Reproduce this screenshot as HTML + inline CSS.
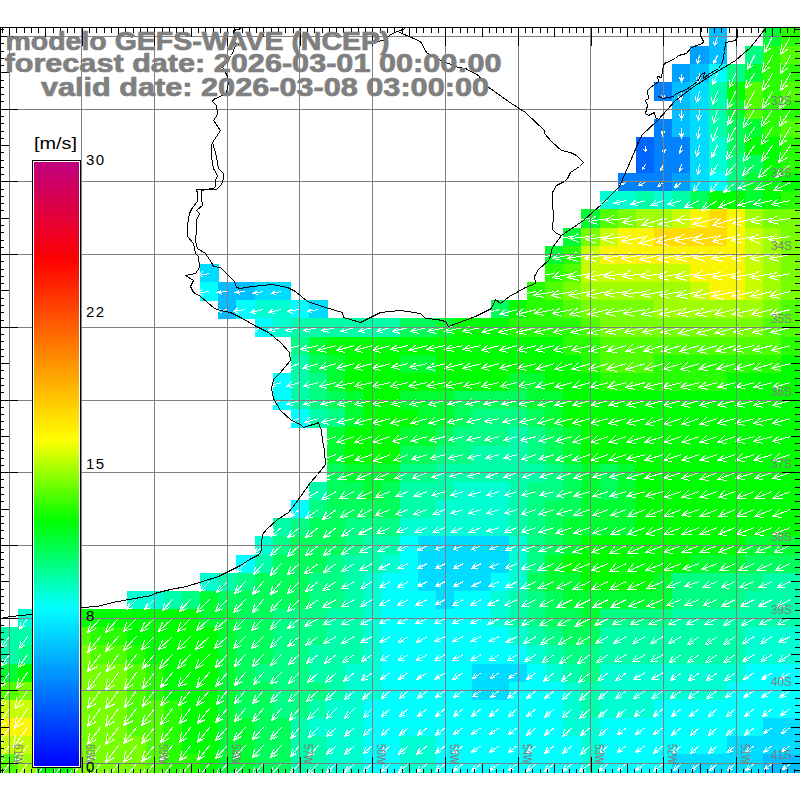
<!DOCTYPE html>
<html><head><meta charset="utf-8"><style>
html,body{margin:0;padding:0;background:#fff;width:800px;height:800px;overflow:hidden}
svg{position:absolute;left:0;top:0}
.t{position:absolute;font-family:"Liberation Sans",sans-serif;font-weight:bold;font-size:24px;line-height:24px;color:#808080;white-space:nowrap}
</style></head><body>
<svg width="800" height="800" viewBox="0 0 800 800">
<g shape-rendering="crispEdges"><rect x="708.63" y="27.80" width="18.56" height="18.56" fill="#00beff"/><rect x="763.13" y="27.80" width="18.56" height="18.56" fill="#00ff32"/><rect x="781.29" y="27.80" width="18.56" height="18.56" fill="#28ff00"/><rect x="690.47" y="45.97" width="18.56" height="18.56" fill="#00a0ff"/><rect x="708.63" y="45.97" width="18.56" height="18.56" fill="#00beff"/><rect x="744.97" y="45.97" width="18.56" height="18.56" fill="#00ff82"/><rect x="763.13" y="45.97" width="18.56" height="18.56" fill="#28ff00"/><rect x="781.29" y="45.97" width="18.56" height="18.56" fill="#50ff00"/><rect x="672.31" y="64.13" width="18.56" height="18.56" fill="#00a0ff"/><rect x="690.47" y="64.13" width="18.56" height="18.56" fill="#00beff"/><rect x="708.63" y="64.13" width="18.56" height="18.56" fill="#00ffff"/><rect x="726.80" y="64.13" width="18.56" height="18.56" fill="#00ff82"/><rect x="744.97" y="64.13" width="18.56" height="18.56" fill="#00ff32"/><rect x="763.13" y="64.13" width="18.56" height="18.56" fill="#28ff00"/><rect x="781.29" y="64.13" width="18.56" height="18.56" fill="#28ff00"/><rect x="654.14" y="82.30" width="18.56" height="18.56" fill="#0082ff"/><rect x="672.31" y="82.30" width="18.56" height="18.56" fill="#00beff"/><rect x="690.47" y="82.30" width="18.56" height="18.56" fill="#00dcff"/><rect x="708.63" y="82.30" width="18.56" height="18.56" fill="#00ffaa"/><rect x="726.80" y="82.30" width="18.56" height="18.56" fill="#00ff00"/><rect x="744.97" y="82.30" width="18.56" height="18.56" fill="#50ff00"/><rect x="763.13" y="82.30" width="18.56" height="18.56" fill="#28ff00"/><rect x="781.29" y="82.30" width="18.56" height="18.56" fill="#50ff00"/><rect x="672.31" y="100.46" width="18.56" height="18.56" fill="#00beff"/><rect x="690.47" y="100.46" width="18.56" height="18.56" fill="#00dcff"/><rect x="708.63" y="100.46" width="18.56" height="18.56" fill="#00ffaa"/><rect x="726.80" y="100.46" width="18.56" height="18.56" fill="#00ff32"/><rect x="744.97" y="100.46" width="18.56" height="18.56" fill="#50ff00"/><rect x="763.13" y="100.46" width="18.56" height="18.56" fill="#28ff00"/><rect x="781.29" y="100.46" width="18.56" height="18.56" fill="#28ff00"/><rect x="654.14" y="118.62" width="18.56" height="18.56" fill="#0082ff"/><rect x="672.31" y="118.62" width="18.56" height="18.56" fill="#00beff"/><rect x="690.47" y="118.62" width="18.56" height="18.56" fill="#00dcff"/><rect x="708.63" y="118.62" width="18.56" height="18.56" fill="#00ffaa"/><rect x="726.80" y="118.62" width="18.56" height="18.56" fill="#00ff5a"/><rect x="744.97" y="118.62" width="18.56" height="18.56" fill="#00ff32"/><rect x="763.13" y="118.62" width="18.56" height="18.56" fill="#28ff00"/><rect x="781.29" y="118.62" width="18.56" height="18.56" fill="#50ff00"/><rect x="635.98" y="136.79" width="18.56" height="18.56" fill="#0064ff"/><rect x="654.14" y="136.79" width="18.56" height="18.56" fill="#0082ff"/><rect x="672.31" y="136.79" width="18.56" height="18.56" fill="#0082ff"/><rect x="690.47" y="136.79" width="18.56" height="18.56" fill="#00dcff"/><rect x="708.63" y="136.79" width="18.56" height="18.56" fill="#00ffd2"/><rect x="726.80" y="136.79" width="18.56" height="18.56" fill="#00ff5a"/><rect x="744.97" y="136.79" width="18.56" height="18.56" fill="#00ff00"/><rect x="763.13" y="136.79" width="18.56" height="18.56" fill="#00ff00"/><rect x="781.29" y="136.79" width="18.56" height="18.56" fill="#28ff00"/><rect x="635.98" y="154.96" width="18.56" height="18.56" fill="#0064ff"/><rect x="654.14" y="154.96" width="18.56" height="18.56" fill="#0082ff"/><rect x="672.31" y="154.96" width="18.56" height="18.56" fill="#0082ff"/><rect x="690.47" y="154.96" width="18.56" height="18.56" fill="#00dcff"/><rect x="708.63" y="154.96" width="18.56" height="18.56" fill="#00ffd2"/><rect x="726.80" y="154.96" width="18.56" height="18.56" fill="#00ff82"/><rect x="744.97" y="154.96" width="18.56" height="18.56" fill="#00ff5a"/><rect x="763.13" y="154.96" width="18.56" height="18.56" fill="#00ff00"/><rect x="781.29" y="154.96" width="18.56" height="18.56" fill="#28ff00"/><rect x="617.81" y="173.12" width="18.56" height="18.56" fill="#0082ff"/><rect x="635.98" y="173.12" width="18.56" height="18.56" fill="#0082ff"/><rect x="654.14" y="173.12" width="18.56" height="18.56" fill="#0082ff"/><rect x="672.31" y="173.12" width="18.56" height="18.56" fill="#00a0ff"/><rect x="690.47" y="173.12" width="18.56" height="18.56" fill="#00dcff"/><rect x="708.63" y="173.12" width="18.56" height="18.56" fill="#00ffff"/><rect x="726.80" y="173.12" width="18.56" height="18.56" fill="#00ff82"/><rect x="744.97" y="173.12" width="18.56" height="18.56" fill="#00ff32"/><rect x="763.13" y="173.12" width="18.56" height="18.56" fill="#00ff00"/><rect x="781.29" y="173.12" width="18.56" height="18.56" fill="#00ff00"/><rect x="599.64" y="191.28" width="18.56" height="18.56" fill="#00ffd2"/><rect x="617.81" y="191.28" width="18.56" height="18.56" fill="#00ffd2"/><rect x="635.98" y="191.28" width="18.56" height="18.56" fill="#00ffaa"/><rect x="654.14" y="191.28" width="18.56" height="18.56" fill="#00ffd2"/><rect x="672.31" y="191.28" width="18.56" height="18.56" fill="#00ffaa"/><rect x="690.47" y="191.28" width="18.56" height="18.56" fill="#00ff5a"/><rect x="708.63" y="191.28" width="18.56" height="18.56" fill="#00ff00"/><rect x="726.80" y="191.28" width="18.56" height="18.56" fill="#00ff00"/><rect x="744.97" y="191.28" width="18.56" height="18.56" fill="#00ff32"/><rect x="763.13" y="191.28" width="18.56" height="18.56" fill="#00ff00"/><rect x="781.29" y="191.28" width="18.56" height="18.56" fill="#28ff00"/><rect x="581.48" y="209.45" width="18.56" height="18.56" fill="#00ff32"/><rect x="599.64" y="209.45" width="18.56" height="18.56" fill="#50ff00"/><rect x="617.81" y="209.45" width="18.56" height="18.56" fill="#78ff00"/><rect x="635.98" y="209.45" width="18.56" height="18.56" fill="#a0ff00"/><rect x="654.14" y="209.45" width="18.56" height="18.56" fill="#a0ff00"/><rect x="672.31" y="209.45" width="18.56" height="18.56" fill="#c8ff00"/><rect x="690.47" y="209.45" width="18.56" height="18.56" fill="#faf500"/><rect x="708.63" y="209.45" width="18.56" height="18.56" fill="#ffdc00"/><rect x="726.80" y="209.45" width="18.56" height="18.56" fill="#faf500"/><rect x="744.97" y="209.45" width="18.56" height="18.56" fill="#a0ff00"/><rect x="763.13" y="209.45" width="18.56" height="18.56" fill="#78ff00"/><rect x="781.29" y="209.45" width="18.56" height="18.56" fill="#78ff00"/><rect x="563.32" y="227.62" width="18.56" height="18.56" fill="#00ff32"/><rect x="581.48" y="227.62" width="18.56" height="18.56" fill="#78ff00"/><rect x="599.64" y="227.62" width="18.56" height="18.56" fill="#c8ff00"/><rect x="617.81" y="227.62" width="18.56" height="18.56" fill="#faf500"/><rect x="635.98" y="227.62" width="18.56" height="18.56" fill="#faf500"/><rect x="654.14" y="227.62" width="18.56" height="18.56" fill="#ffdc00"/><rect x="672.31" y="227.62" width="18.56" height="18.56" fill="#ffdc00"/><rect x="690.47" y="227.62" width="18.56" height="18.56" fill="#ffdc00"/><rect x="708.63" y="227.62" width="18.56" height="18.56" fill="#ffdc00"/><rect x="726.80" y="227.62" width="18.56" height="18.56" fill="#faf500"/><rect x="744.97" y="227.62" width="18.56" height="18.56" fill="#c8ff00"/><rect x="763.13" y="227.62" width="18.56" height="18.56" fill="#a0ff00"/><rect x="781.29" y="227.62" width="18.56" height="18.56" fill="#78ff00"/><rect x="545.15" y="245.78" width="18.56" height="18.56" fill="#00ff32"/><rect x="563.32" y="245.78" width="18.56" height="18.56" fill="#28ff00"/><rect x="581.48" y="245.78" width="18.56" height="18.56" fill="#c8ff00"/><rect x="599.64" y="245.78" width="18.56" height="18.56" fill="#faf500"/><rect x="617.81" y="245.78" width="18.56" height="18.56" fill="#faf500"/><rect x="635.98" y="245.78" width="18.56" height="18.56" fill="#faf500"/><rect x="654.14" y="245.78" width="18.56" height="18.56" fill="#faf500"/><rect x="672.31" y="245.78" width="18.56" height="18.56" fill="#faf500"/><rect x="690.47" y="245.78" width="18.56" height="18.56" fill="#faf500"/><rect x="708.63" y="245.78" width="18.56" height="18.56" fill="#faf500"/><rect x="726.80" y="245.78" width="18.56" height="18.56" fill="#faf500"/><rect x="744.97" y="245.78" width="18.56" height="18.56" fill="#c8ff00"/><rect x="763.13" y="245.78" width="18.56" height="18.56" fill="#a0ff00"/><rect x="781.29" y="245.78" width="18.56" height="18.56" fill="#78ff00"/><rect x="200.01" y="263.94" width="18.56" height="18.56" fill="#00dcff"/><rect x="545.15" y="263.94" width="18.56" height="18.56" fill="#28ff00"/><rect x="563.32" y="263.94" width="18.56" height="18.56" fill="#50ff00"/><rect x="581.48" y="263.94" width="18.56" height="18.56" fill="#c8ff00"/><rect x="599.64" y="263.94" width="18.56" height="18.56" fill="#c8ff00"/><rect x="617.81" y="263.94" width="18.56" height="18.56" fill="#c8ff00"/><rect x="635.98" y="263.94" width="18.56" height="18.56" fill="#c8ff00"/><rect x="654.14" y="263.94" width="18.56" height="18.56" fill="#c8ff00"/><rect x="672.31" y="263.94" width="18.56" height="18.56" fill="#c8ff00"/><rect x="690.47" y="263.94" width="18.56" height="18.56" fill="#faf500"/><rect x="708.63" y="263.94" width="18.56" height="18.56" fill="#faf500"/><rect x="726.80" y="263.94" width="18.56" height="18.56" fill="#faf500"/><rect x="744.97" y="263.94" width="18.56" height="18.56" fill="#c8ff00"/><rect x="763.13" y="263.94" width="18.56" height="18.56" fill="#a0ff00"/><rect x="781.29" y="263.94" width="18.56" height="18.56" fill="#78ff00"/><rect x="200.01" y="282.11" width="18.56" height="18.56" fill="#00ffff"/><rect x="218.18" y="282.11" width="18.56" height="18.56" fill="#00beff"/><rect x="236.34" y="282.11" width="18.56" height="18.56" fill="#00beff"/><rect x="254.51" y="282.11" width="18.56" height="18.56" fill="#00dcff"/><rect x="272.67" y="282.11" width="18.56" height="18.56" fill="#00dcff"/><rect x="526.99" y="282.11" width="18.56" height="18.56" fill="#28ff00"/><rect x="545.15" y="282.11" width="18.56" height="18.56" fill="#50ff00"/><rect x="563.32" y="282.11" width="18.56" height="18.56" fill="#78ff00"/><rect x="581.48" y="282.11" width="18.56" height="18.56" fill="#a0ff00"/><rect x="599.64" y="282.11" width="18.56" height="18.56" fill="#a0ff00"/><rect x="617.81" y="282.11" width="18.56" height="18.56" fill="#a0ff00"/><rect x="635.98" y="282.11" width="18.56" height="18.56" fill="#a0ff00"/><rect x="654.14" y="282.11" width="18.56" height="18.56" fill="#a0ff00"/><rect x="672.31" y="282.11" width="18.56" height="18.56" fill="#a0ff00"/><rect x="690.47" y="282.11" width="18.56" height="18.56" fill="#c8ff00"/><rect x="708.63" y="282.11" width="18.56" height="18.56" fill="#faf500"/><rect x="726.80" y="282.11" width="18.56" height="18.56" fill="#faf500"/><rect x="744.97" y="282.11" width="18.56" height="18.56" fill="#c8ff00"/><rect x="763.13" y="282.11" width="18.56" height="18.56" fill="#a0ff00"/><rect x="781.29" y="282.11" width="18.56" height="18.56" fill="#78ff00"/><rect x="218.18" y="300.27" width="18.56" height="18.56" fill="#00beff"/><rect x="236.34" y="300.27" width="18.56" height="18.56" fill="#00ffff"/><rect x="254.51" y="300.27" width="18.56" height="18.56" fill="#00ffd2"/><rect x="272.67" y="300.27" width="18.56" height="18.56" fill="#00ffd2"/><rect x="290.84" y="300.27" width="18.56" height="18.56" fill="#00ffff"/><rect x="309.00" y="300.27" width="18.56" height="18.56" fill="#00dcff"/><rect x="490.65" y="300.27" width="18.56" height="18.56" fill="#00ff5a"/><rect x="508.82" y="300.27" width="18.56" height="18.56" fill="#00ff00"/><rect x="526.99" y="300.27" width="18.56" height="18.56" fill="#28ff00"/><rect x="545.15" y="300.27" width="18.56" height="18.56" fill="#28ff00"/><rect x="563.32" y="300.27" width="18.56" height="18.56" fill="#50ff00"/><rect x="581.48" y="300.27" width="18.56" height="18.56" fill="#78ff00"/><rect x="599.64" y="300.27" width="18.56" height="18.56" fill="#78ff00"/><rect x="617.81" y="300.27" width="18.56" height="18.56" fill="#78ff00"/><rect x="635.98" y="300.27" width="18.56" height="18.56" fill="#78ff00"/><rect x="654.14" y="300.27" width="18.56" height="18.56" fill="#a0ff00"/><rect x="672.31" y="300.27" width="18.56" height="18.56" fill="#a0ff00"/><rect x="690.47" y="300.27" width="18.56" height="18.56" fill="#a0ff00"/><rect x="708.63" y="300.27" width="18.56" height="18.56" fill="#a0ff00"/><rect x="726.80" y="300.27" width="18.56" height="18.56" fill="#a0ff00"/><rect x="744.97" y="300.27" width="18.56" height="18.56" fill="#a0ff00"/><rect x="763.13" y="300.27" width="18.56" height="18.56" fill="#78ff00"/><rect x="781.29" y="300.27" width="18.56" height="18.56" fill="#50ff00"/><rect x="254.51" y="318.44" width="18.56" height="18.56" fill="#00ffff"/><rect x="272.67" y="318.44" width="18.56" height="18.56" fill="#00ffd2"/><rect x="290.84" y="318.44" width="18.56" height="18.56" fill="#00ffaa"/><rect x="309.00" y="318.44" width="18.56" height="18.56" fill="#00ffaa"/><rect x="327.17" y="318.44" width="18.56" height="18.56" fill="#00ffaa"/><rect x="345.33" y="318.44" width="18.56" height="18.56" fill="#00ffaa"/><rect x="363.50" y="318.44" width="18.56" height="18.56" fill="#00ffaa"/><rect x="381.66" y="318.44" width="18.56" height="18.56" fill="#00ffaa"/><rect x="399.83" y="318.44" width="18.56" height="18.56" fill="#00ff5a"/><rect x="417.99" y="318.44" width="18.56" height="18.56" fill="#00ff5a"/><rect x="436.16" y="318.44" width="18.56" height="18.56" fill="#00ff32"/><rect x="454.32" y="318.44" width="18.56" height="18.56" fill="#00ff00"/><rect x="472.49" y="318.44" width="18.56" height="18.56" fill="#00ff00"/><rect x="490.65" y="318.44" width="18.56" height="18.56" fill="#00ff00"/><rect x="508.82" y="318.44" width="18.56" height="18.56" fill="#28ff00"/><rect x="526.99" y="318.44" width="18.56" height="18.56" fill="#28ff00"/><rect x="545.15" y="318.44" width="18.56" height="18.56" fill="#28ff00"/><rect x="563.32" y="318.44" width="18.56" height="18.56" fill="#28ff00"/><rect x="581.48" y="318.44" width="18.56" height="18.56" fill="#50ff00"/><rect x="599.64" y="318.44" width="18.56" height="18.56" fill="#78ff00"/><rect x="617.81" y="318.44" width="18.56" height="18.56" fill="#78ff00"/><rect x="635.98" y="318.44" width="18.56" height="18.56" fill="#78ff00"/><rect x="654.14" y="318.44" width="18.56" height="18.56" fill="#78ff00"/><rect x="672.31" y="318.44" width="18.56" height="18.56" fill="#78ff00"/><rect x="690.47" y="318.44" width="18.56" height="18.56" fill="#78ff00"/><rect x="708.63" y="318.44" width="18.56" height="18.56" fill="#78ff00"/><rect x="726.80" y="318.44" width="18.56" height="18.56" fill="#78ff00"/><rect x="744.97" y="318.44" width="18.56" height="18.56" fill="#78ff00"/><rect x="763.13" y="318.44" width="18.56" height="18.56" fill="#50ff00"/><rect x="781.29" y="318.44" width="18.56" height="18.56" fill="#50ff00"/><rect x="290.84" y="336.61" width="18.56" height="18.56" fill="#00ff82"/><rect x="309.00" y="336.61" width="18.56" height="18.56" fill="#00ff32"/><rect x="327.17" y="336.61" width="18.56" height="18.56" fill="#00ff00"/><rect x="345.33" y="336.61" width="18.56" height="18.56" fill="#00ff00"/><rect x="363.50" y="336.61" width="18.56" height="18.56" fill="#00ff00"/><rect x="381.66" y="336.61" width="18.56" height="18.56" fill="#00ff00"/><rect x="399.83" y="336.61" width="18.56" height="18.56" fill="#00ff00"/><rect x="417.99" y="336.61" width="18.56" height="18.56" fill="#00ff00"/><rect x="436.16" y="336.61" width="18.56" height="18.56" fill="#00ff00"/><rect x="454.32" y="336.61" width="18.56" height="18.56" fill="#00ff00"/><rect x="472.49" y="336.61" width="18.56" height="18.56" fill="#00ff00"/><rect x="490.65" y="336.61" width="18.56" height="18.56" fill="#00ff00"/><rect x="508.82" y="336.61" width="18.56" height="18.56" fill="#00ff00"/><rect x="526.99" y="336.61" width="18.56" height="18.56" fill="#00ff00"/><rect x="545.15" y="336.61" width="18.56" height="18.56" fill="#00ff00"/><rect x="563.32" y="336.61" width="18.56" height="18.56" fill="#28ff00"/><rect x="581.48" y="336.61" width="18.56" height="18.56" fill="#28ff00"/><rect x="599.64" y="336.61" width="18.56" height="18.56" fill="#50ff00"/><rect x="617.81" y="336.61" width="18.56" height="18.56" fill="#50ff00"/><rect x="635.98" y="336.61" width="18.56" height="18.56" fill="#50ff00"/><rect x="654.14" y="336.61" width="18.56" height="18.56" fill="#50ff00"/><rect x="672.31" y="336.61" width="18.56" height="18.56" fill="#50ff00"/><rect x="690.47" y="336.61" width="18.56" height="18.56" fill="#50ff00"/><rect x="708.63" y="336.61" width="18.56" height="18.56" fill="#50ff00"/><rect x="726.80" y="336.61" width="18.56" height="18.56" fill="#50ff00"/><rect x="744.97" y="336.61" width="18.56" height="18.56" fill="#50ff00"/><rect x="763.13" y="336.61" width="18.56" height="18.56" fill="#50ff00"/><rect x="781.29" y="336.61" width="18.56" height="18.56" fill="#28ff00"/><rect x="290.84" y="354.77" width="18.56" height="18.56" fill="#00ffaa"/><rect x="309.00" y="354.77" width="18.56" height="18.56" fill="#00ff5a"/><rect x="327.17" y="354.77" width="18.56" height="18.56" fill="#00ff32"/><rect x="345.33" y="354.77" width="18.56" height="18.56" fill="#00ff00"/><rect x="363.50" y="354.77" width="18.56" height="18.56" fill="#00ff00"/><rect x="381.66" y="354.77" width="18.56" height="18.56" fill="#00ff00"/><rect x="399.83" y="354.77" width="18.56" height="18.56" fill="#00ff32"/><rect x="417.99" y="354.77" width="18.56" height="18.56" fill="#00ff32"/><rect x="436.16" y="354.77" width="18.56" height="18.56" fill="#00ff00"/><rect x="454.32" y="354.77" width="18.56" height="18.56" fill="#00ff00"/><rect x="472.49" y="354.77" width="18.56" height="18.56" fill="#00ff00"/><rect x="490.65" y="354.77" width="18.56" height="18.56" fill="#00ff00"/><rect x="508.82" y="354.77" width="18.56" height="18.56" fill="#00ff00"/><rect x="526.99" y="354.77" width="18.56" height="18.56" fill="#00ff00"/><rect x="545.15" y="354.77" width="18.56" height="18.56" fill="#00ff00"/><rect x="563.32" y="354.77" width="18.56" height="18.56" fill="#00ff00"/><rect x="581.48" y="354.77" width="18.56" height="18.56" fill="#28ff00"/><rect x="599.64" y="354.77" width="18.56" height="18.56" fill="#50ff00"/><rect x="617.81" y="354.77" width="18.56" height="18.56" fill="#50ff00"/><rect x="635.98" y="354.77" width="18.56" height="18.56" fill="#50ff00"/><rect x="654.14" y="354.77" width="18.56" height="18.56" fill="#28ff00"/><rect x="672.31" y="354.77" width="18.56" height="18.56" fill="#28ff00"/><rect x="690.47" y="354.77" width="18.56" height="18.56" fill="#28ff00"/><rect x="708.63" y="354.77" width="18.56" height="18.56" fill="#28ff00"/><rect x="726.80" y="354.77" width="18.56" height="18.56" fill="#28ff00"/><rect x="744.97" y="354.77" width="18.56" height="18.56" fill="#28ff00"/><rect x="763.13" y="354.77" width="18.56" height="18.56" fill="#28ff00"/><rect x="781.29" y="354.77" width="18.56" height="18.56" fill="#00ff00"/><rect x="272.67" y="372.94" width="18.56" height="18.56" fill="#00ffff"/><rect x="290.84" y="372.94" width="18.56" height="18.56" fill="#00ffaa"/><rect x="309.00" y="372.94" width="18.56" height="18.56" fill="#00ff82"/><rect x="327.17" y="372.94" width="18.56" height="18.56" fill="#00ff32"/><rect x="345.33" y="372.94" width="18.56" height="18.56" fill="#00ff00"/><rect x="363.50" y="372.94" width="18.56" height="18.56" fill="#00ff00"/><rect x="381.66" y="372.94" width="18.56" height="18.56" fill="#00ff00"/><rect x="399.83" y="372.94" width="18.56" height="18.56" fill="#00ff00"/><rect x="417.99" y="372.94" width="18.56" height="18.56" fill="#00ff00"/><rect x="436.16" y="372.94" width="18.56" height="18.56" fill="#00ff00"/><rect x="454.32" y="372.94" width="18.56" height="18.56" fill="#00ff00"/><rect x="472.49" y="372.94" width="18.56" height="18.56" fill="#00ff00"/><rect x="490.65" y="372.94" width="18.56" height="18.56" fill="#00ff00"/><rect x="508.82" y="372.94" width="18.56" height="18.56" fill="#00ff32"/><rect x="526.99" y="372.94" width="18.56" height="18.56" fill="#00ff32"/><rect x="545.15" y="372.94" width="18.56" height="18.56" fill="#00ff00"/><rect x="563.32" y="372.94" width="18.56" height="18.56" fill="#00ff00"/><rect x="581.48" y="372.94" width="18.56" height="18.56" fill="#00ff00"/><rect x="599.64" y="372.94" width="18.56" height="18.56" fill="#28ff00"/><rect x="617.81" y="372.94" width="18.56" height="18.56" fill="#28ff00"/><rect x="635.98" y="372.94" width="18.56" height="18.56" fill="#28ff00"/><rect x="654.14" y="372.94" width="18.56" height="18.56" fill="#28ff00"/><rect x="672.31" y="372.94" width="18.56" height="18.56" fill="#28ff00"/><rect x="690.47" y="372.94" width="18.56" height="18.56" fill="#28ff00"/><rect x="708.63" y="372.94" width="18.56" height="18.56" fill="#28ff00"/><rect x="726.80" y="372.94" width="18.56" height="18.56" fill="#00ff00"/><rect x="744.97" y="372.94" width="18.56" height="18.56" fill="#00ff00"/><rect x="763.13" y="372.94" width="18.56" height="18.56" fill="#00ff00"/><rect x="781.29" y="372.94" width="18.56" height="18.56" fill="#00ff00"/><rect x="272.67" y="391.10" width="18.56" height="18.56" fill="#00ffff"/><rect x="290.84" y="391.10" width="18.56" height="18.56" fill="#00ffaa"/><rect x="309.00" y="391.10" width="18.56" height="18.56" fill="#00ff82"/><rect x="327.17" y="391.10" width="18.56" height="18.56" fill="#00ff5a"/><rect x="345.33" y="391.10" width="18.56" height="18.56" fill="#00ff32"/><rect x="363.50" y="391.10" width="18.56" height="18.56" fill="#00ff00"/><rect x="381.66" y="391.10" width="18.56" height="18.56" fill="#00ff00"/><rect x="399.83" y="391.10" width="18.56" height="18.56" fill="#00ff32"/><rect x="417.99" y="391.10" width="18.56" height="18.56" fill="#00ff32"/><rect x="436.16" y="391.10" width="18.56" height="18.56" fill="#00ff32"/><rect x="454.32" y="391.10" width="18.56" height="18.56" fill="#00ff5a"/><rect x="472.49" y="391.10" width="18.56" height="18.56" fill="#00ff5a"/><rect x="490.65" y="391.10" width="18.56" height="18.56" fill="#00ff5a"/><rect x="508.82" y="391.10" width="18.56" height="18.56" fill="#00ff5a"/><rect x="526.99" y="391.10" width="18.56" height="18.56" fill="#00ff32"/><rect x="545.15" y="391.10" width="18.56" height="18.56" fill="#00ff32"/><rect x="563.32" y="391.10" width="18.56" height="18.56" fill="#00ff00"/><rect x="581.48" y="391.10" width="18.56" height="18.56" fill="#00ff00"/><rect x="599.64" y="391.10" width="18.56" height="18.56" fill="#00ff00"/><rect x="617.81" y="391.10" width="18.56" height="18.56" fill="#00ff00"/><rect x="635.98" y="391.10" width="18.56" height="18.56" fill="#00ff00"/><rect x="654.14" y="391.10" width="18.56" height="18.56" fill="#00ff00"/><rect x="672.31" y="391.10" width="18.56" height="18.56" fill="#00ff00"/><rect x="690.47" y="391.10" width="18.56" height="18.56" fill="#00ff00"/><rect x="708.63" y="391.10" width="18.56" height="18.56" fill="#00ff00"/><rect x="726.80" y="391.10" width="18.56" height="18.56" fill="#00ff00"/><rect x="744.97" y="391.10" width="18.56" height="18.56" fill="#00ff00"/><rect x="763.13" y="391.10" width="18.56" height="18.56" fill="#00ff00"/><rect x="781.29" y="391.10" width="18.56" height="18.56" fill="#00ff00"/><rect x="290.84" y="409.26" width="18.56" height="18.56" fill="#00ffff"/><rect x="309.00" y="409.26" width="18.56" height="18.56" fill="#00ffaa"/><rect x="327.17" y="409.26" width="18.56" height="18.56" fill="#00ff82"/><rect x="345.33" y="409.26" width="18.56" height="18.56" fill="#00ff32"/><rect x="363.50" y="409.26" width="18.56" height="18.56" fill="#00ff00"/><rect x="381.66" y="409.26" width="18.56" height="18.56" fill="#00ff00"/><rect x="399.83" y="409.26" width="18.56" height="18.56" fill="#00ff00"/><rect x="417.99" y="409.26" width="18.56" height="18.56" fill="#00ff32"/><rect x="436.16" y="409.26" width="18.56" height="18.56" fill="#00ff32"/><rect x="454.32" y="409.26" width="18.56" height="18.56" fill="#00ff5a"/><rect x="472.49" y="409.26" width="18.56" height="18.56" fill="#00ff82"/><rect x="490.65" y="409.26" width="18.56" height="18.56" fill="#00ff82"/><rect x="508.82" y="409.26" width="18.56" height="18.56" fill="#00ff82"/><rect x="526.99" y="409.26" width="18.56" height="18.56" fill="#00ff5a"/><rect x="545.15" y="409.26" width="18.56" height="18.56" fill="#00ff32"/><rect x="563.32" y="409.26" width="18.56" height="18.56" fill="#00ff00"/><rect x="581.48" y="409.26" width="18.56" height="18.56" fill="#00ff00"/><rect x="599.64" y="409.26" width="18.56" height="18.56" fill="#00ff00"/><rect x="617.81" y="409.26" width="18.56" height="18.56" fill="#00ff00"/><rect x="635.98" y="409.26" width="18.56" height="18.56" fill="#00ff00"/><rect x="654.14" y="409.26" width="18.56" height="18.56" fill="#00ff00"/><rect x="672.31" y="409.26" width="18.56" height="18.56" fill="#00ff00"/><rect x="690.47" y="409.26" width="18.56" height="18.56" fill="#00ff00"/><rect x="708.63" y="409.26" width="18.56" height="18.56" fill="#00ff00"/><rect x="726.80" y="409.26" width="18.56" height="18.56" fill="#00ff00"/><rect x="744.97" y="409.26" width="18.56" height="18.56" fill="#00ff00"/><rect x="763.13" y="409.26" width="18.56" height="18.56" fill="#00ff00"/><rect x="781.29" y="409.26" width="18.56" height="18.56" fill="#00ff00"/><rect x="327.17" y="427.43" width="18.56" height="18.56" fill="#00ff32"/><rect x="345.33" y="427.43" width="18.56" height="18.56" fill="#00ff00"/><rect x="363.50" y="427.43" width="18.56" height="18.56" fill="#00ff00"/><rect x="381.66" y="427.43" width="18.56" height="18.56" fill="#00ff00"/><rect x="399.83" y="427.43" width="18.56" height="18.56" fill="#00ff32"/><rect x="417.99" y="427.43" width="18.56" height="18.56" fill="#00ff32"/><rect x="436.16" y="427.43" width="18.56" height="18.56" fill="#00ff5a"/><rect x="454.32" y="427.43" width="18.56" height="18.56" fill="#00ff82"/><rect x="472.49" y="427.43" width="18.56" height="18.56" fill="#00ff82"/><rect x="490.65" y="427.43" width="18.56" height="18.56" fill="#00ff82"/><rect x="508.82" y="427.43" width="18.56" height="18.56" fill="#00ffaa"/><rect x="526.99" y="427.43" width="18.56" height="18.56" fill="#00ff82"/><rect x="545.15" y="427.43" width="18.56" height="18.56" fill="#00ff5a"/><rect x="563.32" y="427.43" width="18.56" height="18.56" fill="#00ff32"/><rect x="581.48" y="427.43" width="18.56" height="18.56" fill="#00ff00"/><rect x="599.64" y="427.43" width="18.56" height="18.56" fill="#00ff00"/><rect x="617.81" y="427.43" width="18.56" height="18.56" fill="#00ff00"/><rect x="635.98" y="427.43" width="18.56" height="18.56" fill="#00ff00"/><rect x="654.14" y="427.43" width="18.56" height="18.56" fill="#00ff00"/><rect x="672.31" y="427.43" width="18.56" height="18.56" fill="#00ff00"/><rect x="690.47" y="427.43" width="18.56" height="18.56" fill="#00ff00"/><rect x="708.63" y="427.43" width="18.56" height="18.56" fill="#00ff00"/><rect x="726.80" y="427.43" width="18.56" height="18.56" fill="#00ff00"/><rect x="744.97" y="427.43" width="18.56" height="18.56" fill="#00ff00"/><rect x="763.13" y="427.43" width="18.56" height="18.56" fill="#00ff00"/><rect x="781.29" y="427.43" width="18.56" height="18.56" fill="#00ff00"/><rect x="327.17" y="445.59" width="18.56" height="18.56" fill="#00ff32"/><rect x="345.33" y="445.59" width="18.56" height="18.56" fill="#00ff00"/><rect x="363.50" y="445.59" width="18.56" height="18.56" fill="#00ff00"/><rect x="381.66" y="445.59" width="18.56" height="18.56" fill="#00ff00"/><rect x="399.83" y="445.59" width="18.56" height="18.56" fill="#00ff5a"/><rect x="417.99" y="445.59" width="18.56" height="18.56" fill="#00ff5a"/><rect x="436.16" y="445.59" width="18.56" height="18.56" fill="#00ff82"/><rect x="454.32" y="445.59" width="18.56" height="18.56" fill="#00ff82"/><rect x="472.49" y="445.59" width="18.56" height="18.56" fill="#00ffaa"/><rect x="490.65" y="445.59" width="18.56" height="18.56" fill="#00ffaa"/><rect x="508.82" y="445.59" width="18.56" height="18.56" fill="#00ffaa"/><rect x="526.99" y="445.59" width="18.56" height="18.56" fill="#00ff82"/><rect x="545.15" y="445.59" width="18.56" height="18.56" fill="#00ff5a"/><rect x="563.32" y="445.59" width="18.56" height="18.56" fill="#00ff32"/><rect x="581.48" y="445.59" width="18.56" height="18.56" fill="#00ff00"/><rect x="599.64" y="445.59" width="18.56" height="18.56" fill="#00ff00"/><rect x="617.81" y="445.59" width="18.56" height="18.56" fill="#00ff00"/><rect x="635.98" y="445.59" width="18.56" height="18.56" fill="#00ff00"/><rect x="654.14" y="445.59" width="18.56" height="18.56" fill="#00ff00"/><rect x="672.31" y="445.59" width="18.56" height="18.56" fill="#00ff00"/><rect x="690.47" y="445.59" width="18.56" height="18.56" fill="#00ff00"/><rect x="708.63" y="445.59" width="18.56" height="18.56" fill="#00ff00"/><rect x="726.80" y="445.59" width="18.56" height="18.56" fill="#00ff00"/><rect x="744.97" y="445.59" width="18.56" height="18.56" fill="#00ff00"/><rect x="763.13" y="445.59" width="18.56" height="18.56" fill="#00ff00"/><rect x="781.29" y="445.59" width="18.56" height="18.56" fill="#00ff00"/><rect x="327.17" y="463.76" width="18.56" height="18.56" fill="#00ff5a"/><rect x="345.33" y="463.76" width="18.56" height="18.56" fill="#00ff32"/><rect x="363.50" y="463.76" width="18.56" height="18.56" fill="#00ff32"/><rect x="381.66" y="463.76" width="18.56" height="18.56" fill="#00ff32"/><rect x="399.83" y="463.76" width="18.56" height="18.56" fill="#00ff82"/><rect x="417.99" y="463.76" width="18.56" height="18.56" fill="#00ff82"/><rect x="436.16" y="463.76" width="18.56" height="18.56" fill="#00ffaa"/><rect x="454.32" y="463.76" width="18.56" height="18.56" fill="#00ffaa"/><rect x="472.49" y="463.76" width="18.56" height="18.56" fill="#00ffaa"/><rect x="490.65" y="463.76" width="18.56" height="18.56" fill="#00ffaa"/><rect x="508.82" y="463.76" width="18.56" height="18.56" fill="#00ffaa"/><rect x="526.99" y="463.76" width="18.56" height="18.56" fill="#00ffaa"/><rect x="545.15" y="463.76" width="18.56" height="18.56" fill="#00ff82"/><rect x="563.32" y="463.76" width="18.56" height="18.56" fill="#00ff5a"/><rect x="581.48" y="463.76" width="18.56" height="18.56" fill="#00ff32"/><rect x="599.64" y="463.76" width="18.56" height="18.56" fill="#00ff5a"/><rect x="617.81" y="463.76" width="18.56" height="18.56" fill="#00ff32"/><rect x="635.98" y="463.76" width="18.56" height="18.56" fill="#00ff00"/><rect x="654.14" y="463.76" width="18.56" height="18.56" fill="#00ff00"/><rect x="672.31" y="463.76" width="18.56" height="18.56" fill="#00ff00"/><rect x="690.47" y="463.76" width="18.56" height="18.56" fill="#00ff00"/><rect x="708.63" y="463.76" width="18.56" height="18.56" fill="#00ff00"/><rect x="726.80" y="463.76" width="18.56" height="18.56" fill="#00ff00"/><rect x="744.97" y="463.76" width="18.56" height="18.56" fill="#00ff00"/><rect x="763.13" y="463.76" width="18.56" height="18.56" fill="#00ff00"/><rect x="781.29" y="463.76" width="18.56" height="18.56" fill="#00ff00"/><rect x="309.00" y="481.93" width="18.56" height="18.56" fill="#00ffaa"/><rect x="327.17" y="481.93" width="18.56" height="18.56" fill="#00ff5a"/><rect x="345.33" y="481.93" width="18.56" height="18.56" fill="#00ff5a"/><rect x="363.50" y="481.93" width="18.56" height="18.56" fill="#00ff32"/><rect x="381.66" y="481.93" width="18.56" height="18.56" fill="#00ff5a"/><rect x="399.83" y="481.93" width="18.56" height="18.56" fill="#00ffaa"/><rect x="417.99" y="481.93" width="18.56" height="18.56" fill="#00ffaa"/><rect x="436.16" y="481.93" width="18.56" height="18.56" fill="#00ffaa"/><rect x="454.32" y="481.93" width="18.56" height="18.56" fill="#00ffd2"/><rect x="472.49" y="481.93" width="18.56" height="18.56" fill="#00ffd2"/><rect x="490.65" y="481.93" width="18.56" height="18.56" fill="#00ffd2"/><rect x="508.82" y="481.93" width="18.56" height="18.56" fill="#00ffaa"/><rect x="526.99" y="481.93" width="18.56" height="18.56" fill="#00ff82"/><rect x="545.15" y="481.93" width="18.56" height="18.56" fill="#00ff82"/><rect x="563.32" y="481.93" width="18.56" height="18.56" fill="#00ff5a"/><rect x="581.48" y="481.93" width="18.56" height="18.56" fill="#00ff32"/><rect x="599.64" y="481.93" width="18.56" height="18.56" fill="#00ff5a"/><rect x="617.81" y="481.93" width="18.56" height="18.56" fill="#00ff32"/><rect x="635.98" y="481.93" width="18.56" height="18.56" fill="#00ff00"/><rect x="654.14" y="481.93" width="18.56" height="18.56" fill="#00ff00"/><rect x="672.31" y="481.93" width="18.56" height="18.56" fill="#00ff00"/><rect x="690.47" y="481.93" width="18.56" height="18.56" fill="#00ff00"/><rect x="708.63" y="481.93" width="18.56" height="18.56" fill="#00ff00"/><rect x="726.80" y="481.93" width="18.56" height="18.56" fill="#00ff00"/><rect x="744.97" y="481.93" width="18.56" height="18.56" fill="#00ff00"/><rect x="763.13" y="481.93" width="18.56" height="18.56" fill="#00ff00"/><rect x="781.29" y="481.93" width="18.56" height="18.56" fill="#00ff00"/><rect x="290.84" y="500.09" width="18.56" height="18.56" fill="#00ffff"/><rect x="309.00" y="500.09" width="18.56" height="18.56" fill="#00ff82"/><rect x="327.17" y="500.09" width="18.56" height="18.56" fill="#00ff5a"/><rect x="345.33" y="500.09" width="18.56" height="18.56" fill="#00ff5a"/><rect x="363.50" y="500.09" width="18.56" height="18.56" fill="#00ff5a"/><rect x="381.66" y="500.09" width="18.56" height="18.56" fill="#00ff5a"/><rect x="399.83" y="500.09" width="18.56" height="18.56" fill="#00ffaa"/><rect x="417.99" y="500.09" width="18.56" height="18.56" fill="#00ffaa"/><rect x="436.16" y="500.09" width="18.56" height="18.56" fill="#00ffd2"/><rect x="454.32" y="500.09" width="18.56" height="18.56" fill="#00ffd2"/><rect x="472.49" y="500.09" width="18.56" height="18.56" fill="#00ffd2"/><rect x="490.65" y="500.09" width="18.56" height="18.56" fill="#00ffd2"/><rect x="508.82" y="500.09" width="18.56" height="18.56" fill="#00ffaa"/><rect x="526.99" y="500.09" width="18.56" height="18.56" fill="#00ff82"/><rect x="545.15" y="500.09" width="18.56" height="18.56" fill="#00ff5a"/><rect x="563.32" y="500.09" width="18.56" height="18.56" fill="#00ff5a"/><rect x="581.48" y="500.09" width="18.56" height="18.56" fill="#00ff32"/><rect x="599.64" y="500.09" width="18.56" height="18.56" fill="#00ff32"/><rect x="617.81" y="500.09" width="18.56" height="18.56" fill="#00ff32"/><rect x="635.98" y="500.09" width="18.56" height="18.56" fill="#00ff00"/><rect x="654.14" y="500.09" width="18.56" height="18.56" fill="#00ff00"/><rect x="672.31" y="500.09" width="18.56" height="18.56" fill="#00ff00"/><rect x="690.47" y="500.09" width="18.56" height="18.56" fill="#00ff00"/><rect x="708.63" y="500.09" width="18.56" height="18.56" fill="#00ff00"/><rect x="726.80" y="500.09" width="18.56" height="18.56" fill="#00ff00"/><rect x="744.97" y="500.09" width="18.56" height="18.56" fill="#00ff00"/><rect x="763.13" y="500.09" width="18.56" height="18.56" fill="#00ff00"/><rect x="781.29" y="500.09" width="18.56" height="18.56" fill="#00ff00"/><rect x="272.67" y="518.25" width="18.56" height="18.56" fill="#00ffaa"/><rect x="290.84" y="518.25" width="18.56" height="18.56" fill="#00ff82"/><rect x="309.00" y="518.25" width="18.56" height="18.56" fill="#00ff5a"/><rect x="327.17" y="518.25" width="18.56" height="18.56" fill="#00ff5a"/><rect x="345.33" y="518.25" width="18.56" height="18.56" fill="#00ff82"/><rect x="363.50" y="518.25" width="18.56" height="18.56" fill="#00ff82"/><rect x="381.66" y="518.25" width="18.56" height="18.56" fill="#00ff82"/><rect x="399.83" y="518.25" width="18.56" height="18.56" fill="#00ffd2"/><rect x="417.99" y="518.25" width="18.56" height="18.56" fill="#00ffd2"/><rect x="436.16" y="518.25" width="18.56" height="18.56" fill="#00ffd2"/><rect x="454.32" y="518.25" width="18.56" height="18.56" fill="#00ffd2"/><rect x="472.49" y="518.25" width="18.56" height="18.56" fill="#00ffd2"/><rect x="490.65" y="518.25" width="18.56" height="18.56" fill="#00ffd2"/><rect x="508.82" y="518.25" width="18.56" height="18.56" fill="#00ffaa"/><rect x="526.99" y="518.25" width="18.56" height="18.56" fill="#00ff82"/><rect x="545.15" y="518.25" width="18.56" height="18.56" fill="#00ff5a"/><rect x="563.32" y="518.25" width="18.56" height="18.56" fill="#00ff32"/><rect x="581.48" y="518.25" width="18.56" height="18.56" fill="#00ff32"/><rect x="599.64" y="518.25" width="18.56" height="18.56" fill="#00ff32"/><rect x="617.81" y="518.25" width="18.56" height="18.56" fill="#00ff32"/><rect x="635.98" y="518.25" width="18.56" height="18.56" fill="#00ff00"/><rect x="654.14" y="518.25" width="18.56" height="18.56" fill="#00ff00"/><rect x="672.31" y="518.25" width="18.56" height="18.56" fill="#00ff00"/><rect x="690.47" y="518.25" width="18.56" height="18.56" fill="#00ff00"/><rect x="708.63" y="518.25" width="18.56" height="18.56" fill="#00ff00"/><rect x="726.80" y="518.25" width="18.56" height="18.56" fill="#00ff00"/><rect x="744.97" y="518.25" width="18.56" height="18.56" fill="#00ff00"/><rect x="763.13" y="518.25" width="18.56" height="18.56" fill="#00ff00"/><rect x="781.29" y="518.25" width="18.56" height="18.56" fill="#00ff00"/><rect x="254.51" y="536.42" width="18.56" height="18.56" fill="#00ffd2"/><rect x="272.67" y="536.42" width="18.56" height="18.56" fill="#00ff82"/><rect x="290.84" y="536.42" width="18.56" height="18.56" fill="#00ff5a"/><rect x="309.00" y="536.42" width="18.56" height="18.56" fill="#00ff5a"/><rect x="327.17" y="536.42" width="18.56" height="18.56" fill="#00ff5a"/><rect x="345.33" y="536.42" width="18.56" height="18.56" fill="#00ff82"/><rect x="363.50" y="536.42" width="18.56" height="18.56" fill="#00ffaa"/><rect x="381.66" y="536.42" width="18.56" height="18.56" fill="#00ffaa"/><rect x="399.83" y="536.42" width="18.56" height="18.56" fill="#00ffff"/><rect x="417.99" y="536.42" width="18.56" height="18.56" fill="#00dcff"/><rect x="436.16" y="536.42" width="18.56" height="18.56" fill="#00dcff"/><rect x="454.32" y="536.42" width="18.56" height="18.56" fill="#00dcff"/><rect x="472.49" y="536.42" width="18.56" height="18.56" fill="#00dcff"/><rect x="490.65" y="536.42" width="18.56" height="18.56" fill="#00dcff"/><rect x="508.82" y="536.42" width="18.56" height="18.56" fill="#00ffd2"/><rect x="526.99" y="536.42" width="18.56" height="18.56" fill="#00ff82"/><rect x="545.15" y="536.42" width="18.56" height="18.56" fill="#00ff5a"/><rect x="563.32" y="536.42" width="18.56" height="18.56" fill="#00ff32"/><rect x="581.48" y="536.42" width="18.56" height="18.56" fill="#00ff00"/><rect x="599.64" y="536.42" width="18.56" height="18.56" fill="#00ff00"/><rect x="617.81" y="536.42" width="18.56" height="18.56" fill="#00ff00"/><rect x="635.98" y="536.42" width="18.56" height="18.56" fill="#00ff00"/><rect x="654.14" y="536.42" width="18.56" height="18.56" fill="#00ff00"/><rect x="672.31" y="536.42" width="18.56" height="18.56" fill="#00ff00"/><rect x="690.47" y="536.42" width="18.56" height="18.56" fill="#00ff00"/><rect x="708.63" y="536.42" width="18.56" height="18.56" fill="#00ff00"/><rect x="726.80" y="536.42" width="18.56" height="18.56" fill="#00ff00"/><rect x="744.97" y="536.42" width="18.56" height="18.56" fill="#00ff32"/><rect x="763.13" y="536.42" width="18.56" height="18.56" fill="#00ff32"/><rect x="781.29" y="536.42" width="18.56" height="18.56" fill="#00ff32"/><rect x="236.34" y="554.58" width="18.56" height="18.56" fill="#00ffff"/><rect x="254.51" y="554.58" width="18.56" height="18.56" fill="#00ffaa"/><rect x="272.67" y="554.58" width="18.56" height="18.56" fill="#00ff5a"/><rect x="290.84" y="554.58" width="18.56" height="18.56" fill="#00ff5a"/><rect x="309.00" y="554.58" width="18.56" height="18.56" fill="#00ff5a"/><rect x="327.17" y="554.58" width="18.56" height="18.56" fill="#00ff82"/><rect x="345.33" y="554.58" width="18.56" height="18.56" fill="#00ffaa"/><rect x="363.50" y="554.58" width="18.56" height="18.56" fill="#00ffaa"/><rect x="381.66" y="554.58" width="18.56" height="18.56" fill="#00ffd2"/><rect x="399.83" y="554.58" width="18.56" height="18.56" fill="#00ffff"/><rect x="417.99" y="554.58" width="18.56" height="18.56" fill="#00dcff"/><rect x="436.16" y="554.58" width="18.56" height="18.56" fill="#00dcff"/><rect x="454.32" y="554.58" width="18.56" height="18.56" fill="#00dcff"/><rect x="472.49" y="554.58" width="18.56" height="18.56" fill="#00dcff"/><rect x="490.65" y="554.58" width="18.56" height="18.56" fill="#00dcff"/><rect x="508.82" y="554.58" width="18.56" height="18.56" fill="#00ffd2"/><rect x="526.99" y="554.58" width="18.56" height="18.56" fill="#00ff82"/><rect x="545.15" y="554.58" width="18.56" height="18.56" fill="#00ff32"/><rect x="563.32" y="554.58" width="18.56" height="18.56" fill="#00ff00"/><rect x="581.48" y="554.58" width="18.56" height="18.56" fill="#00ff00"/><rect x="599.64" y="554.58" width="18.56" height="18.56" fill="#00ff00"/><rect x="617.81" y="554.58" width="18.56" height="18.56" fill="#00ff00"/><rect x="635.98" y="554.58" width="18.56" height="18.56" fill="#00ff00"/><rect x="654.14" y="554.58" width="18.56" height="18.56" fill="#00ff00"/><rect x="672.31" y="554.58" width="18.56" height="18.56" fill="#00ff00"/><rect x="690.47" y="554.58" width="18.56" height="18.56" fill="#00ff32"/><rect x="708.63" y="554.58" width="18.56" height="18.56" fill="#00ff32"/><rect x="726.80" y="554.58" width="18.56" height="18.56" fill="#00ff32"/><rect x="744.97" y="554.58" width="18.56" height="18.56" fill="#00ff5a"/><rect x="763.13" y="554.58" width="18.56" height="18.56" fill="#00ff5a"/><rect x="781.29" y="554.58" width="18.56" height="18.56" fill="#00ff5a"/><rect x="200.01" y="572.75" width="18.56" height="18.56" fill="#00ffd2"/><rect x="218.18" y="572.75" width="18.56" height="18.56" fill="#00ffaa"/><rect x="236.34" y="572.75" width="18.56" height="18.56" fill="#00ff82"/><rect x="254.51" y="572.75" width="18.56" height="18.56" fill="#00ff5a"/><rect x="272.67" y="572.75" width="18.56" height="18.56" fill="#00ff5a"/><rect x="290.84" y="572.75" width="18.56" height="18.56" fill="#00ff5a"/><rect x="309.00" y="572.75" width="18.56" height="18.56" fill="#00ff82"/><rect x="327.17" y="572.75" width="18.56" height="18.56" fill="#00ff82"/><rect x="345.33" y="572.75" width="18.56" height="18.56" fill="#00ffaa"/><rect x="363.50" y="572.75" width="18.56" height="18.56" fill="#00ffd2"/><rect x="381.66" y="572.75" width="18.56" height="18.56" fill="#00ffff"/><rect x="399.83" y="572.75" width="18.56" height="18.56" fill="#00ffff"/><rect x="417.99" y="572.75" width="18.56" height="18.56" fill="#00dcff"/><rect x="436.16" y="572.75" width="18.56" height="18.56" fill="#00dcff"/><rect x="454.32" y="572.75" width="18.56" height="18.56" fill="#00dcff"/><rect x="472.49" y="572.75" width="18.56" height="18.56" fill="#00dcff"/><rect x="490.65" y="572.75" width="18.56" height="18.56" fill="#00ffff"/><rect x="508.82" y="572.75" width="18.56" height="18.56" fill="#00ffd2"/><rect x="526.99" y="572.75" width="18.56" height="18.56" fill="#00ff5a"/><rect x="545.15" y="572.75" width="18.56" height="18.56" fill="#00ff32"/><rect x="563.32" y="572.75" width="18.56" height="18.56" fill="#00ff32"/><rect x="581.48" y="572.75" width="18.56" height="18.56" fill="#00ff00"/><rect x="599.64" y="572.75" width="18.56" height="18.56" fill="#00ff00"/><rect x="617.81" y="572.75" width="18.56" height="18.56" fill="#00ff00"/><rect x="635.98" y="572.75" width="18.56" height="18.56" fill="#00ff00"/><rect x="654.14" y="572.75" width="18.56" height="18.56" fill="#00ff32"/><rect x="672.31" y="572.75" width="18.56" height="18.56" fill="#00ff82"/><rect x="690.47" y="572.75" width="18.56" height="18.56" fill="#00ff82"/><rect x="708.63" y="572.75" width="18.56" height="18.56" fill="#00ff82"/><rect x="726.80" y="572.75" width="18.56" height="18.56" fill="#00ff82"/><rect x="744.97" y="572.75" width="18.56" height="18.56" fill="#00ff82"/><rect x="763.13" y="572.75" width="18.56" height="18.56" fill="#00ffaa"/><rect x="781.29" y="572.75" width="18.56" height="18.56" fill="#00ffaa"/><rect x="127.36" y="590.91" width="18.56" height="18.56" fill="#00ffd2"/><rect x="145.52" y="590.91" width="18.56" height="18.56" fill="#00ffd2"/><rect x="163.68" y="590.91" width="18.56" height="18.56" fill="#00ffaa"/><rect x="181.85" y="590.91" width="18.56" height="18.56" fill="#00ff82"/><rect x="200.01" y="590.91" width="18.56" height="18.56" fill="#00ff32"/><rect x="218.18" y="590.91" width="18.56" height="18.56" fill="#00ff5a"/><rect x="236.34" y="590.91" width="18.56" height="18.56" fill="#00ff5a"/><rect x="254.51" y="590.91" width="18.56" height="18.56" fill="#00ff5a"/><rect x="272.67" y="590.91" width="18.56" height="18.56" fill="#00ff5a"/><rect x="290.84" y="590.91" width="18.56" height="18.56" fill="#00ff5a"/><rect x="309.00" y="590.91" width="18.56" height="18.56" fill="#00ff82"/><rect x="327.17" y="590.91" width="18.56" height="18.56" fill="#00ff82"/><rect x="345.33" y="590.91" width="18.56" height="18.56" fill="#00ffaa"/><rect x="363.50" y="590.91" width="18.56" height="18.56" fill="#00ffd2"/><rect x="381.66" y="590.91" width="18.56" height="18.56" fill="#00ffff"/><rect x="399.83" y="590.91" width="18.56" height="18.56" fill="#00ffff"/><rect x="417.99" y="590.91" width="18.56" height="18.56" fill="#00ffff"/><rect x="436.16" y="590.91" width="18.56" height="18.56" fill="#00dcff"/><rect x="454.32" y="590.91" width="18.56" height="18.56" fill="#00ffff"/><rect x="472.49" y="590.91" width="18.56" height="18.56" fill="#00ffff"/><rect x="490.65" y="590.91" width="18.56" height="18.56" fill="#00ffd2"/><rect x="508.82" y="590.91" width="18.56" height="18.56" fill="#00ffaa"/><rect x="526.99" y="590.91" width="18.56" height="18.56" fill="#00ff82"/><rect x="545.15" y="590.91" width="18.56" height="18.56" fill="#00ff5a"/><rect x="563.32" y="590.91" width="18.56" height="18.56" fill="#00ff32"/><rect x="581.48" y="590.91" width="18.56" height="18.56" fill="#00ff32"/><rect x="599.64" y="590.91" width="18.56" height="18.56" fill="#00ff32"/><rect x="617.81" y="590.91" width="18.56" height="18.56" fill="#00ff32"/><rect x="635.98" y="590.91" width="18.56" height="18.56" fill="#00ff32"/><rect x="654.14" y="590.91" width="18.56" height="18.56" fill="#00ff32"/><rect x="672.31" y="590.91" width="18.56" height="18.56" fill="#00ff82"/><rect x="690.47" y="590.91" width="18.56" height="18.56" fill="#00ff82"/><rect x="708.63" y="590.91" width="18.56" height="18.56" fill="#00ff82"/><rect x="726.80" y="590.91" width="18.56" height="18.56" fill="#00ff82"/><rect x="744.97" y="590.91" width="18.56" height="18.56" fill="#00ffaa"/><rect x="763.13" y="590.91" width="18.56" height="18.56" fill="#00ffaa"/><rect x="781.29" y="590.91" width="18.56" height="18.56" fill="#00ffaa"/><rect x="18.36" y="609.08" width="18.56" height="18.56" fill="#00ffd2"/><rect x="36.53" y="609.08" width="18.56" height="18.56" fill="#00ff00"/><rect x="54.70" y="609.08" width="18.56" height="18.56" fill="#00ff00"/><rect x="72.86" y="609.08" width="18.56" height="18.56" fill="#00ff00"/><rect x="91.02" y="609.08" width="18.56" height="18.56" fill="#00ff00"/><rect x="109.19" y="609.08" width="18.56" height="18.56" fill="#00ff00"/><rect x="127.36" y="609.08" width="18.56" height="18.56" fill="#00ff00"/><rect x="145.52" y="609.08" width="18.56" height="18.56" fill="#00ff00"/><rect x="163.68" y="609.08" width="18.56" height="18.56" fill="#00ff00"/><rect x="181.85" y="609.08" width="18.56" height="18.56" fill="#00ff00"/><rect x="200.01" y="609.08" width="18.56" height="18.56" fill="#00ff32"/><rect x="218.18" y="609.08" width="18.56" height="18.56" fill="#00ff32"/><rect x="236.34" y="609.08" width="18.56" height="18.56" fill="#00ff5a"/><rect x="254.51" y="609.08" width="18.56" height="18.56" fill="#00ff5a"/><rect x="272.67" y="609.08" width="18.56" height="18.56" fill="#00ff82"/><rect x="290.84" y="609.08" width="18.56" height="18.56" fill="#00ff82"/><rect x="309.00" y="609.08" width="18.56" height="18.56" fill="#00ff82"/><rect x="327.17" y="609.08" width="18.56" height="18.56" fill="#00ffaa"/><rect x="345.33" y="609.08" width="18.56" height="18.56" fill="#00ffaa"/><rect x="363.50" y="609.08" width="18.56" height="18.56" fill="#00ffd2"/><rect x="381.66" y="609.08" width="18.56" height="18.56" fill="#00ffff"/><rect x="399.83" y="609.08" width="18.56" height="18.56" fill="#00ffff"/><rect x="417.99" y="609.08" width="18.56" height="18.56" fill="#00ffff"/><rect x="436.16" y="609.08" width="18.56" height="18.56" fill="#00ffff"/><rect x="454.32" y="609.08" width="18.56" height="18.56" fill="#00ffff"/><rect x="472.49" y="609.08" width="18.56" height="18.56" fill="#00ffff"/><rect x="490.65" y="609.08" width="18.56" height="18.56" fill="#00ffd2"/><rect x="508.82" y="609.08" width="18.56" height="18.56" fill="#00ffaa"/><rect x="526.99" y="609.08" width="18.56" height="18.56" fill="#00ff82"/><rect x="545.15" y="609.08" width="18.56" height="18.56" fill="#00ff5a"/><rect x="563.32" y="609.08" width="18.56" height="18.56" fill="#00ff5a"/><rect x="581.48" y="609.08" width="18.56" height="18.56" fill="#00ff32"/><rect x="599.64" y="609.08" width="18.56" height="18.56" fill="#00ff82"/><rect x="617.81" y="609.08" width="18.56" height="18.56" fill="#00ff82"/><rect x="635.98" y="609.08" width="18.56" height="18.56" fill="#00ff82"/><rect x="654.14" y="609.08" width="18.56" height="18.56" fill="#00ff82"/><rect x="672.31" y="609.08" width="18.56" height="18.56" fill="#00ffaa"/><rect x="690.47" y="609.08" width="18.56" height="18.56" fill="#00ffaa"/><rect x="708.63" y="609.08" width="18.56" height="18.56" fill="#00ffaa"/><rect x="726.80" y="609.08" width="18.56" height="18.56" fill="#00ffaa"/><rect x="744.97" y="609.08" width="18.56" height="18.56" fill="#00ffaa"/><rect x="763.13" y="609.08" width="18.56" height="18.56" fill="#00ffaa"/><rect x="781.29" y="609.08" width="18.56" height="18.56" fill="#00ffaa"/><rect x="0.20" y="627.24" width="18.56" height="18.56" fill="#00ffaa"/><rect x="18.36" y="627.24" width="18.56" height="18.56" fill="#00ffaa"/><rect x="36.53" y="627.24" width="18.56" height="18.56" fill="#00ff00"/><rect x="54.70" y="627.24" width="18.56" height="18.56" fill="#00ff00"/><rect x="72.86" y="627.24" width="18.56" height="18.56" fill="#50ff00"/><rect x="91.02" y="627.24" width="18.56" height="18.56" fill="#28ff00"/><rect x="109.19" y="627.24" width="18.56" height="18.56" fill="#28ff00"/><rect x="127.36" y="627.24" width="18.56" height="18.56" fill="#00ff00"/><rect x="145.52" y="627.24" width="18.56" height="18.56" fill="#00ff00"/><rect x="163.68" y="627.24" width="18.56" height="18.56" fill="#00ff00"/><rect x="181.85" y="627.24" width="18.56" height="18.56" fill="#00ff00"/><rect x="200.01" y="627.24" width="18.56" height="18.56" fill="#00ff00"/><rect x="218.18" y="627.24" width="18.56" height="18.56" fill="#00ff32"/><rect x="236.34" y="627.24" width="18.56" height="18.56" fill="#00ff5a"/><rect x="254.51" y="627.24" width="18.56" height="18.56" fill="#00ff5a"/><rect x="272.67" y="627.24" width="18.56" height="18.56" fill="#00ff82"/><rect x="290.84" y="627.24" width="18.56" height="18.56" fill="#00ff82"/><rect x="309.00" y="627.24" width="18.56" height="18.56" fill="#00ff82"/><rect x="327.17" y="627.24" width="18.56" height="18.56" fill="#00ffaa"/><rect x="345.33" y="627.24" width="18.56" height="18.56" fill="#00ffaa"/><rect x="363.50" y="627.24" width="18.56" height="18.56" fill="#00ffd2"/><rect x="381.66" y="627.24" width="18.56" height="18.56" fill="#00ffff"/><rect x="399.83" y="627.24" width="18.56" height="18.56" fill="#00ffff"/><rect x="417.99" y="627.24" width="18.56" height="18.56" fill="#00ffff"/><rect x="436.16" y="627.24" width="18.56" height="18.56" fill="#00ffff"/><rect x="454.32" y="627.24" width="18.56" height="18.56" fill="#00ffff"/><rect x="472.49" y="627.24" width="18.56" height="18.56" fill="#00ffff"/><rect x="490.65" y="627.24" width="18.56" height="18.56" fill="#00ffff"/><rect x="508.82" y="627.24" width="18.56" height="18.56" fill="#00ffd2"/><rect x="526.99" y="627.24" width="18.56" height="18.56" fill="#00ffaa"/><rect x="545.15" y="627.24" width="18.56" height="18.56" fill="#00ff82"/><rect x="563.32" y="627.24" width="18.56" height="18.56" fill="#00ff5a"/><rect x="581.48" y="627.24" width="18.56" height="18.56" fill="#00ff5a"/><rect x="599.64" y="627.24" width="18.56" height="18.56" fill="#00ffaa"/><rect x="617.81" y="627.24" width="18.56" height="18.56" fill="#00ffaa"/><rect x="635.98" y="627.24" width="18.56" height="18.56" fill="#00ffaa"/><rect x="654.14" y="627.24" width="18.56" height="18.56" fill="#00ffaa"/><rect x="672.31" y="627.24" width="18.56" height="18.56" fill="#00ffaa"/><rect x="690.47" y="627.24" width="18.56" height="18.56" fill="#00ffaa"/><rect x="708.63" y="627.24" width="18.56" height="18.56" fill="#00ffaa"/><rect x="726.80" y="627.24" width="18.56" height="18.56" fill="#00ffaa"/><rect x="744.97" y="627.24" width="18.56" height="18.56" fill="#00ffd2"/><rect x="763.13" y="627.24" width="18.56" height="18.56" fill="#00ffd2"/><rect x="781.29" y="627.24" width="18.56" height="18.56" fill="#00ffd2"/><rect x="0.20" y="645.41" width="18.56" height="18.56" fill="#00ffaa"/><rect x="18.36" y="645.41" width="18.56" height="18.56" fill="#00ff82"/><rect x="36.53" y="645.41" width="18.56" height="18.56" fill="#00ff00"/><rect x="54.70" y="645.41" width="18.56" height="18.56" fill="#00ff00"/><rect x="72.86" y="645.41" width="18.56" height="18.56" fill="#78ff00"/><rect x="91.02" y="645.41" width="18.56" height="18.56" fill="#50ff00"/><rect x="109.19" y="645.41" width="18.56" height="18.56" fill="#50ff00"/><rect x="127.36" y="645.41" width="18.56" height="18.56" fill="#28ff00"/><rect x="145.52" y="645.41" width="18.56" height="18.56" fill="#00ff00"/><rect x="163.68" y="645.41" width="18.56" height="18.56" fill="#00ff00"/><rect x="181.85" y="645.41" width="18.56" height="18.56" fill="#00ff00"/><rect x="200.01" y="645.41" width="18.56" height="18.56" fill="#00ff00"/><rect x="218.18" y="645.41" width="18.56" height="18.56" fill="#00ff32"/><rect x="236.34" y="645.41" width="18.56" height="18.56" fill="#00ff5a"/><rect x="254.51" y="645.41" width="18.56" height="18.56" fill="#00ff5a"/><rect x="272.67" y="645.41" width="18.56" height="18.56" fill="#00ff82"/><rect x="290.84" y="645.41" width="18.56" height="18.56" fill="#00ff82"/><rect x="309.00" y="645.41" width="18.56" height="18.56" fill="#00ffaa"/><rect x="327.17" y="645.41" width="18.56" height="18.56" fill="#00ffaa"/><rect x="345.33" y="645.41" width="18.56" height="18.56" fill="#00ffaa"/><rect x="363.50" y="645.41" width="18.56" height="18.56" fill="#00ffd2"/><rect x="381.66" y="645.41" width="18.56" height="18.56" fill="#00ffff"/><rect x="399.83" y="645.41" width="18.56" height="18.56" fill="#00ffff"/><rect x="417.99" y="645.41" width="18.56" height="18.56" fill="#00ffff"/><rect x="436.16" y="645.41" width="18.56" height="18.56" fill="#00ffff"/><rect x="454.32" y="645.41" width="18.56" height="18.56" fill="#00ffff"/><rect x="472.49" y="645.41" width="18.56" height="18.56" fill="#00ffff"/><rect x="490.65" y="645.41" width="18.56" height="18.56" fill="#00ffff"/><rect x="508.82" y="645.41" width="18.56" height="18.56" fill="#00ffff"/><rect x="526.99" y="645.41" width="18.56" height="18.56" fill="#00ffd2"/><rect x="545.15" y="645.41" width="18.56" height="18.56" fill="#00ffaa"/><rect x="563.32" y="645.41" width="18.56" height="18.56" fill="#00ff82"/><rect x="581.48" y="645.41" width="18.56" height="18.56" fill="#00ff82"/><rect x="599.64" y="645.41" width="18.56" height="18.56" fill="#00ffaa"/><rect x="617.81" y="645.41" width="18.56" height="18.56" fill="#00ffaa"/><rect x="635.98" y="645.41" width="18.56" height="18.56" fill="#00ffaa"/><rect x="654.14" y="645.41" width="18.56" height="18.56" fill="#00ffaa"/><rect x="672.31" y="645.41" width="18.56" height="18.56" fill="#00ffaa"/><rect x="690.47" y="645.41" width="18.56" height="18.56" fill="#00ffaa"/><rect x="708.63" y="645.41" width="18.56" height="18.56" fill="#00ffaa"/><rect x="726.80" y="645.41" width="18.56" height="18.56" fill="#00ffaa"/><rect x="744.97" y="645.41" width="18.56" height="18.56" fill="#00ffd2"/><rect x="763.13" y="645.41" width="18.56" height="18.56" fill="#00ffd2"/><rect x="781.29" y="645.41" width="18.56" height="18.56" fill="#00ffd2"/><rect x="0.20" y="663.57" width="18.56" height="18.56" fill="#00ff32"/><rect x="18.36" y="663.57" width="18.56" height="18.56" fill="#00ff00"/><rect x="36.53" y="663.57" width="18.56" height="18.56" fill="#00ff00"/><rect x="54.70" y="663.57" width="18.56" height="18.56" fill="#00ff00"/><rect x="72.86" y="663.57" width="18.56" height="18.56" fill="#78ff00"/><rect x="91.02" y="663.57" width="18.56" height="18.56" fill="#78ff00"/><rect x="109.19" y="663.57" width="18.56" height="18.56" fill="#78ff00"/><rect x="127.36" y="663.57" width="18.56" height="18.56" fill="#50ff00"/><rect x="145.52" y="663.57" width="18.56" height="18.56" fill="#28ff00"/><rect x="163.68" y="663.57" width="18.56" height="18.56" fill="#00ff00"/><rect x="181.85" y="663.57" width="18.56" height="18.56" fill="#00ff00"/><rect x="200.01" y="663.57" width="18.56" height="18.56" fill="#00ff00"/><rect x="218.18" y="663.57" width="18.56" height="18.56" fill="#00ff32"/><rect x="236.34" y="663.57" width="18.56" height="18.56" fill="#00ff5a"/><rect x="254.51" y="663.57" width="18.56" height="18.56" fill="#00ff82"/><rect x="272.67" y="663.57" width="18.56" height="18.56" fill="#00ff82"/><rect x="290.84" y="663.57" width="18.56" height="18.56" fill="#00ff82"/><rect x="309.00" y="663.57" width="18.56" height="18.56" fill="#00ffaa"/><rect x="327.17" y="663.57" width="18.56" height="18.56" fill="#00ffaa"/><rect x="345.33" y="663.57" width="18.56" height="18.56" fill="#00ffd2"/><rect x="363.50" y="663.57" width="18.56" height="18.56" fill="#00ffd2"/><rect x="381.66" y="663.57" width="18.56" height="18.56" fill="#00ffff"/><rect x="399.83" y="663.57" width="18.56" height="18.56" fill="#00ffff"/><rect x="417.99" y="663.57" width="18.56" height="18.56" fill="#00ffff"/><rect x="436.16" y="663.57" width="18.56" height="18.56" fill="#00ffff"/><rect x="454.32" y="663.57" width="18.56" height="18.56" fill="#00ffff"/><rect x="472.49" y="663.57" width="18.56" height="18.56" fill="#00dcff"/><rect x="490.65" y="663.57" width="18.56" height="18.56" fill="#00dcff"/><rect x="508.82" y="663.57" width="18.56" height="18.56" fill="#00dcff"/><rect x="526.99" y="663.57" width="18.56" height="18.56" fill="#00ffff"/><rect x="545.15" y="663.57" width="18.56" height="18.56" fill="#00ffd2"/><rect x="563.32" y="663.57" width="18.56" height="18.56" fill="#00ffaa"/><rect x="581.48" y="663.57" width="18.56" height="18.56" fill="#00ff82"/><rect x="599.64" y="663.57" width="18.56" height="18.56" fill="#00ffd2"/><rect x="617.81" y="663.57" width="18.56" height="18.56" fill="#00ffd2"/><rect x="635.98" y="663.57" width="18.56" height="18.56" fill="#00ffd2"/><rect x="654.14" y="663.57" width="18.56" height="18.56" fill="#00ffd2"/><rect x="672.31" y="663.57" width="18.56" height="18.56" fill="#00ffd2"/><rect x="690.47" y="663.57" width="18.56" height="18.56" fill="#00ffd2"/><rect x="708.63" y="663.57" width="18.56" height="18.56" fill="#00ffd2"/><rect x="726.80" y="663.57" width="18.56" height="18.56" fill="#00ffd2"/><rect x="744.97" y="663.57" width="18.56" height="18.56" fill="#00ffff"/><rect x="763.13" y="663.57" width="18.56" height="18.56" fill="#00ffff"/><rect x="781.29" y="663.57" width="18.56" height="18.56" fill="#00ffff"/><rect x="0.20" y="681.74" width="18.56" height="18.56" fill="#50ff00"/><rect x="18.36" y="681.74" width="18.56" height="18.56" fill="#78ff00"/><rect x="36.53" y="681.74" width="18.56" height="18.56" fill="#00ff00"/><rect x="54.70" y="681.74" width="18.56" height="18.56" fill="#00ff00"/><rect x="72.86" y="681.74" width="18.56" height="18.56" fill="#78ff00"/><rect x="91.02" y="681.74" width="18.56" height="18.56" fill="#78ff00"/><rect x="109.19" y="681.74" width="18.56" height="18.56" fill="#78ff00"/><rect x="127.36" y="681.74" width="18.56" height="18.56" fill="#50ff00"/><rect x="145.52" y="681.74" width="18.56" height="18.56" fill="#28ff00"/><rect x="163.68" y="681.74" width="18.56" height="18.56" fill="#00ff00"/><rect x="181.85" y="681.74" width="18.56" height="18.56" fill="#00ff00"/><rect x="200.01" y="681.74" width="18.56" height="18.56" fill="#00ff00"/><rect x="218.18" y="681.74" width="18.56" height="18.56" fill="#00ff32"/><rect x="236.34" y="681.74" width="18.56" height="18.56" fill="#00ff5a"/><rect x="254.51" y="681.74" width="18.56" height="18.56" fill="#00ff5a"/><rect x="272.67" y="681.74" width="18.56" height="18.56" fill="#00ff82"/><rect x="290.84" y="681.74" width="18.56" height="18.56" fill="#00ff82"/><rect x="309.00" y="681.74" width="18.56" height="18.56" fill="#00ff82"/><rect x="327.17" y="681.74" width="18.56" height="18.56" fill="#00ffaa"/><rect x="345.33" y="681.74" width="18.56" height="18.56" fill="#00ffd2"/><rect x="363.50" y="681.74" width="18.56" height="18.56" fill="#00ffd2"/><rect x="381.66" y="681.74" width="18.56" height="18.56" fill="#00ffff"/><rect x="399.83" y="681.74" width="18.56" height="18.56" fill="#00ffff"/><rect x="417.99" y="681.74" width="18.56" height="18.56" fill="#00ffff"/><rect x="436.16" y="681.74" width="18.56" height="18.56" fill="#00ffff"/><rect x="454.32" y="681.74" width="18.56" height="18.56" fill="#00ffff"/><rect x="472.49" y="681.74" width="18.56" height="18.56" fill="#00dcff"/><rect x="490.65" y="681.74" width="18.56" height="18.56" fill="#00dcff"/><rect x="508.82" y="681.74" width="18.56" height="18.56" fill="#00ffff"/><rect x="526.99" y="681.74" width="18.56" height="18.56" fill="#00ffff"/><rect x="545.15" y="681.74" width="18.56" height="18.56" fill="#00ffff"/><rect x="563.32" y="681.74" width="18.56" height="18.56" fill="#00ffd2"/><rect x="581.48" y="681.74" width="18.56" height="18.56" fill="#00ffaa"/><rect x="599.64" y="681.74" width="18.56" height="18.56" fill="#00ffd2"/><rect x="617.81" y="681.74" width="18.56" height="18.56" fill="#00ffd2"/><rect x="635.98" y="681.74" width="18.56" height="18.56" fill="#00ffd2"/><rect x="654.14" y="681.74" width="18.56" height="18.56" fill="#00ffd2"/><rect x="672.31" y="681.74" width="18.56" height="18.56" fill="#00ffd2"/><rect x="690.47" y="681.74" width="18.56" height="18.56" fill="#00ffd2"/><rect x="708.63" y="681.74" width="18.56" height="18.56" fill="#00ffd2"/><rect x="726.80" y="681.74" width="18.56" height="18.56" fill="#00ffff"/><rect x="744.97" y="681.74" width="18.56" height="18.56" fill="#00ffff"/><rect x="763.13" y="681.74" width="18.56" height="18.56" fill="#00ffff"/><rect x="781.29" y="681.74" width="18.56" height="18.56" fill="#00ffff"/><rect x="0.20" y="699.90" width="18.56" height="18.56" fill="#c8ff00"/><rect x="18.36" y="699.90" width="18.56" height="18.56" fill="#c8ff00"/><rect x="36.53" y="699.90" width="18.56" height="18.56" fill="#00ff00"/><rect x="54.70" y="699.90" width="18.56" height="18.56" fill="#00ff00"/><rect x="72.86" y="699.90" width="18.56" height="18.56" fill="#78ff00"/><rect x="91.02" y="699.90" width="18.56" height="18.56" fill="#78ff00"/><rect x="109.19" y="699.90" width="18.56" height="18.56" fill="#78ff00"/><rect x="127.36" y="699.90" width="18.56" height="18.56" fill="#50ff00"/><rect x="145.52" y="699.90" width="18.56" height="18.56" fill="#50ff00"/><rect x="163.68" y="699.90" width="18.56" height="18.56" fill="#28ff00"/><rect x="181.85" y="699.90" width="18.56" height="18.56" fill="#00ff00"/><rect x="200.01" y="699.90" width="18.56" height="18.56" fill="#00ff00"/><rect x="218.18" y="699.90" width="18.56" height="18.56" fill="#00ff32"/><rect x="236.34" y="699.90" width="18.56" height="18.56" fill="#00ff5a"/><rect x="254.51" y="699.90" width="18.56" height="18.56" fill="#00ff5a"/><rect x="272.67" y="699.90" width="18.56" height="18.56" fill="#00ff82"/><rect x="290.84" y="699.90" width="18.56" height="18.56" fill="#00ff82"/><rect x="309.00" y="699.90" width="18.56" height="18.56" fill="#00ffaa"/><rect x="327.17" y="699.90" width="18.56" height="18.56" fill="#00ffd2"/><rect x="345.33" y="699.90" width="18.56" height="18.56" fill="#00ffd2"/><rect x="363.50" y="699.90" width="18.56" height="18.56" fill="#00ffff"/><rect x="381.66" y="699.90" width="18.56" height="18.56" fill="#00ffff"/><rect x="399.83" y="699.90" width="18.56" height="18.56" fill="#00ffff"/><rect x="417.99" y="699.90" width="18.56" height="18.56" fill="#00ffff"/><rect x="436.16" y="699.90" width="18.56" height="18.56" fill="#00ffff"/><rect x="454.32" y="699.90" width="18.56" height="18.56" fill="#00ffff"/><rect x="472.49" y="699.90" width="18.56" height="18.56" fill="#00ffff"/><rect x="490.65" y="699.90" width="18.56" height="18.56" fill="#00ffff"/><rect x="508.82" y="699.90" width="18.56" height="18.56" fill="#00ffff"/><rect x="526.99" y="699.90" width="18.56" height="18.56" fill="#00ffff"/><rect x="545.15" y="699.90" width="18.56" height="18.56" fill="#00ffff"/><rect x="563.32" y="699.90" width="18.56" height="18.56" fill="#00ffd2"/><rect x="581.48" y="699.90" width="18.56" height="18.56" fill="#00ffaa"/><rect x="599.64" y="699.90" width="18.56" height="18.56" fill="#00ffd2"/><rect x="617.81" y="699.90" width="18.56" height="18.56" fill="#00ffd2"/><rect x="635.98" y="699.90" width="18.56" height="18.56" fill="#00ffd2"/><rect x="654.14" y="699.90" width="18.56" height="18.56" fill="#00ffff"/><rect x="672.31" y="699.90" width="18.56" height="18.56" fill="#00ffff"/><rect x="690.47" y="699.90" width="18.56" height="18.56" fill="#00ffff"/><rect x="708.63" y="699.90" width="18.56" height="18.56" fill="#00ffff"/><rect x="726.80" y="699.90" width="18.56" height="18.56" fill="#00ffff"/><rect x="744.97" y="699.90" width="18.56" height="18.56" fill="#00ffff"/><rect x="763.13" y="699.90" width="18.56" height="18.56" fill="#00ffff"/><rect x="781.29" y="699.90" width="18.56" height="18.56" fill="#00ffff"/><rect x="0.20" y="718.07" width="18.56" height="18.56" fill="#faf500"/><rect x="18.36" y="718.07" width="18.56" height="18.56" fill="#faf500"/><rect x="36.53" y="718.07" width="18.56" height="18.56" fill="#00ff00"/><rect x="54.70" y="718.07" width="18.56" height="18.56" fill="#00ff00"/><rect x="72.86" y="718.07" width="18.56" height="18.56" fill="#78ff00"/><rect x="91.02" y="718.07" width="18.56" height="18.56" fill="#78ff00"/><rect x="109.19" y="718.07" width="18.56" height="18.56" fill="#78ff00"/><rect x="127.36" y="718.07" width="18.56" height="18.56" fill="#50ff00"/><rect x="145.52" y="718.07" width="18.56" height="18.56" fill="#50ff00"/><rect x="163.68" y="718.07" width="18.56" height="18.56" fill="#28ff00"/><rect x="181.85" y="718.07" width="18.56" height="18.56" fill="#00ff00"/><rect x="200.01" y="718.07" width="18.56" height="18.56" fill="#00ff00"/><rect x="218.18" y="718.07" width="18.56" height="18.56" fill="#00ff32"/><rect x="236.34" y="718.07" width="18.56" height="18.56" fill="#00ff32"/><rect x="254.51" y="718.07" width="18.56" height="18.56" fill="#00ff5a"/><rect x="272.67" y="718.07" width="18.56" height="18.56" fill="#00ff5a"/><rect x="290.84" y="718.07" width="18.56" height="18.56" fill="#00ffaa"/><rect x="309.00" y="718.07" width="18.56" height="18.56" fill="#00ffd2"/><rect x="327.17" y="718.07" width="18.56" height="18.56" fill="#00ffd2"/><rect x="345.33" y="718.07" width="18.56" height="18.56" fill="#00ffd2"/><rect x="363.50" y="718.07" width="18.56" height="18.56" fill="#00ffff"/><rect x="381.66" y="718.07" width="18.56" height="18.56" fill="#00ffff"/><rect x="399.83" y="718.07" width="18.56" height="18.56" fill="#00ffff"/><rect x="417.99" y="718.07" width="18.56" height="18.56" fill="#00ffff"/><rect x="436.16" y="718.07" width="18.56" height="18.56" fill="#00ffff"/><rect x="454.32" y="718.07" width="18.56" height="18.56" fill="#00ffff"/><rect x="472.49" y="718.07" width="18.56" height="18.56" fill="#00ffff"/><rect x="490.65" y="718.07" width="18.56" height="18.56" fill="#00ffff"/><rect x="508.82" y="718.07" width="18.56" height="18.56" fill="#00ffff"/><rect x="526.99" y="718.07" width="18.56" height="18.56" fill="#00ffff"/><rect x="545.15" y="718.07" width="18.56" height="18.56" fill="#00ffff"/><rect x="563.32" y="718.07" width="18.56" height="18.56" fill="#00ffd2"/><rect x="581.48" y="718.07" width="18.56" height="18.56" fill="#00ffd2"/><rect x="599.64" y="718.07" width="18.56" height="18.56" fill="#00ffff"/><rect x="617.81" y="718.07" width="18.56" height="18.56" fill="#00ffff"/><rect x="635.98" y="718.07" width="18.56" height="18.56" fill="#00ffff"/><rect x="654.14" y="718.07" width="18.56" height="18.56" fill="#00ffff"/><rect x="672.31" y="718.07" width="18.56" height="18.56" fill="#00ffff"/><rect x="690.47" y="718.07" width="18.56" height="18.56" fill="#00ffff"/><rect x="708.63" y="718.07" width="18.56" height="18.56" fill="#00ffff"/><rect x="726.80" y="718.07" width="18.56" height="18.56" fill="#00ffff"/><rect x="744.97" y="718.07" width="18.56" height="18.56" fill="#00ffff"/><rect x="763.13" y="718.07" width="18.56" height="18.56" fill="#00dcff"/><rect x="781.29" y="718.07" width="18.56" height="18.56" fill="#00dcff"/><rect x="0.20" y="736.23" width="18.56" height="18.56" fill="#c8ff00"/><rect x="18.36" y="736.23" width="18.56" height="18.56" fill="#c8ff00"/><rect x="36.53" y="736.23" width="18.56" height="18.56" fill="#00ff00"/><rect x="54.70" y="736.23" width="18.56" height="18.56" fill="#00ff00"/><rect x="72.86" y="736.23" width="18.56" height="18.56" fill="#78ff00"/><rect x="91.02" y="736.23" width="18.56" height="18.56" fill="#78ff00"/><rect x="109.19" y="736.23" width="18.56" height="18.56" fill="#78ff00"/><rect x="127.36" y="736.23" width="18.56" height="18.56" fill="#78ff00"/><rect x="145.52" y="736.23" width="18.56" height="18.56" fill="#50ff00"/><rect x="163.68" y="736.23" width="18.56" height="18.56" fill="#28ff00"/><rect x="181.85" y="736.23" width="18.56" height="18.56" fill="#00ff00"/><rect x="200.01" y="736.23" width="18.56" height="18.56" fill="#00ff00"/><rect x="218.18" y="736.23" width="18.56" height="18.56" fill="#00ff32"/><rect x="236.34" y="736.23" width="18.56" height="18.56" fill="#00ff32"/><rect x="254.51" y="736.23" width="18.56" height="18.56" fill="#00ff5a"/><rect x="272.67" y="736.23" width="18.56" height="18.56" fill="#00ff5a"/><rect x="290.84" y="736.23" width="18.56" height="18.56" fill="#00ffaa"/><rect x="309.00" y="736.23" width="18.56" height="18.56" fill="#00ffaa"/><rect x="327.17" y="736.23" width="18.56" height="18.56" fill="#00ffd2"/><rect x="345.33" y="736.23" width="18.56" height="18.56" fill="#00ffd2"/><rect x="363.50" y="736.23" width="18.56" height="18.56" fill="#00ffff"/><rect x="381.66" y="736.23" width="18.56" height="18.56" fill="#00ffff"/><rect x="399.83" y="736.23" width="18.56" height="18.56" fill="#00ffd2"/><rect x="417.99" y="736.23" width="18.56" height="18.56" fill="#00ffd2"/><rect x="436.16" y="736.23" width="18.56" height="18.56" fill="#00ffff"/><rect x="454.32" y="736.23" width="18.56" height="18.56" fill="#00ffff"/><rect x="472.49" y="736.23" width="18.56" height="18.56" fill="#00ffff"/><rect x="490.65" y="736.23" width="18.56" height="18.56" fill="#00ffff"/><rect x="508.82" y="736.23" width="18.56" height="18.56" fill="#00ffff"/><rect x="526.99" y="736.23" width="18.56" height="18.56" fill="#00ffff"/><rect x="545.15" y="736.23" width="18.56" height="18.56" fill="#00ffff"/><rect x="563.32" y="736.23" width="18.56" height="18.56" fill="#00ffff"/><rect x="581.48" y="736.23" width="18.56" height="18.56" fill="#00ffd2"/><rect x="599.64" y="736.23" width="18.56" height="18.56" fill="#00ffff"/><rect x="617.81" y="736.23" width="18.56" height="18.56" fill="#00ffff"/><rect x="635.98" y="736.23" width="18.56" height="18.56" fill="#00ffff"/><rect x="654.14" y="736.23" width="18.56" height="18.56" fill="#00ffff"/><rect x="672.31" y="736.23" width="18.56" height="18.56" fill="#00ffff"/><rect x="690.47" y="736.23" width="18.56" height="18.56" fill="#00ffff"/><rect x="708.63" y="736.23" width="18.56" height="18.56" fill="#00ffff"/><rect x="726.80" y="736.23" width="18.56" height="18.56" fill="#00dcff"/><rect x="744.97" y="736.23" width="18.56" height="18.56" fill="#00dcff"/><rect x="763.13" y="736.23" width="18.56" height="18.56" fill="#00dcff"/><rect x="781.29" y="736.23" width="18.56" height="18.56" fill="#00dcff"/><rect x="0.20" y="754.40" width="18.56" height="18.56" fill="#50ff00"/><rect x="18.36" y="754.40" width="18.56" height="18.56" fill="#a0ff00"/><rect x="36.53" y="754.40" width="18.56" height="18.56" fill="#00ff00"/><rect x="54.70" y="754.40" width="18.56" height="18.56" fill="#00ff00"/><rect x="72.86" y="754.40" width="18.56" height="18.56" fill="#78ff00"/><rect x="91.02" y="754.40" width="18.56" height="18.56" fill="#78ff00"/><rect x="109.19" y="754.40" width="18.56" height="18.56" fill="#78ff00"/><rect x="127.36" y="754.40" width="18.56" height="18.56" fill="#78ff00"/><rect x="145.52" y="754.40" width="18.56" height="18.56" fill="#50ff00"/><rect x="163.68" y="754.40" width="18.56" height="18.56" fill="#28ff00"/><rect x="181.85" y="754.40" width="18.56" height="18.56" fill="#28ff00"/><rect x="200.01" y="754.40" width="18.56" height="18.56" fill="#00ff00"/><rect x="218.18" y="754.40" width="18.56" height="18.56" fill="#00ff32"/><rect x="236.34" y="754.40" width="18.56" height="18.56" fill="#00ff32"/><rect x="254.51" y="754.40" width="18.56" height="18.56" fill="#00ff5a"/><rect x="272.67" y="754.40" width="18.56" height="18.56" fill="#00ff5a"/><rect x="290.84" y="754.40" width="18.56" height="18.56" fill="#00ffaa"/><rect x="309.00" y="754.40" width="18.56" height="18.56" fill="#00ffaa"/><rect x="327.17" y="754.40" width="18.56" height="18.56" fill="#00ffd2"/><rect x="345.33" y="754.40" width="18.56" height="18.56" fill="#00ffd2"/><rect x="363.50" y="754.40" width="18.56" height="18.56" fill="#00ffff"/><rect x="381.66" y="754.40" width="18.56" height="18.56" fill="#00ffff"/><rect x="399.83" y="754.40" width="18.56" height="18.56" fill="#00ffd2"/><rect x="417.99" y="754.40" width="18.56" height="18.56" fill="#00ffd2"/><rect x="436.16" y="754.40" width="18.56" height="18.56" fill="#00ffff"/><rect x="454.32" y="754.40" width="18.56" height="18.56" fill="#00ffff"/><rect x="472.49" y="754.40" width="18.56" height="18.56" fill="#00ffff"/><rect x="490.65" y="754.40" width="18.56" height="18.56" fill="#00ffff"/><rect x="508.82" y="754.40" width="18.56" height="18.56" fill="#00ffff"/><rect x="526.99" y="754.40" width="18.56" height="18.56" fill="#00ffff"/><rect x="545.15" y="754.40" width="18.56" height="18.56" fill="#00ffff"/><rect x="563.32" y="754.40" width="18.56" height="18.56" fill="#00ffff"/><rect x="581.48" y="754.40" width="18.56" height="18.56" fill="#00ffd2"/><rect x="599.64" y="754.40" width="18.56" height="18.56" fill="#00ffff"/><rect x="617.81" y="754.40" width="18.56" height="18.56" fill="#00ffff"/><rect x="635.98" y="754.40" width="18.56" height="18.56" fill="#00ffff"/><rect x="654.14" y="754.40" width="18.56" height="18.56" fill="#00ffff"/><rect x="672.31" y="754.40" width="18.56" height="18.56" fill="#00dcff"/><rect x="690.47" y="754.40" width="18.56" height="18.56" fill="#00dcff"/><rect x="708.63" y="754.40" width="18.56" height="18.56" fill="#00dcff"/><rect x="726.80" y="754.40" width="18.56" height="18.56" fill="#00dcff"/><rect x="744.97" y="754.40" width="18.56" height="18.56" fill="#00dcff"/><rect x="763.13" y="754.40" width="18.56" height="18.56" fill="#00beff"/><rect x="781.29" y="754.40" width="18.56" height="18.56" fill="#00beff"/></g>
<path d="M717.5 36.5L714.5 45.5M717.5 42.5L714.5 45.5L713.5 41.5M772.5 36.5L764.5 52.5M771.5 47.5L764.5 52.5L764.5 43.5M790.5 36.5L780.5 54.5M788.5 48.5L780.5 54.5L781.5 44.5M699.5 55.5L697.5 63.5M700.5 60.5L697.5 63.5L696.5 59.5M717.5 55.5L713.5 63.5M717.5 60.5L713.5 63.5L713.5 59.5M754.5 55.5L747.5 69.5M753.5 64.5L747.5 69.5L747.5 61.5M772.5 55.5L762.5 72.5M770.5 66.5L762.5 72.5L763.5 62.5M790.5 55.5L780.5 73.5M788.5 67.5L780.5 73.5L780.5 62.5M681.5 73.5L681.5 81.5M683.5 77.5L681.5 81.5L679.5 77.5M699.5 73.5L697.5 82.5M700.5 78.5L697.5 82.5L696.5 77.5M717.5 73.5L712.5 84.5M717.5 80.5L712.5 84.5L712.5 78.5M735.5 73.5L729.5 87.5M735.5 82.5L729.5 87.5L729.5 79.5M754.5 73.5L745.5 88.5M752.5 83.5L745.5 88.5L746.5 80.5M772.5 73.5L762.5 90.5M770.5 84.5L762.5 90.5L763.5 80.5M790.5 73.5L780.5 90.5M788.5 84.5L780.5 90.5L781.5 80.5M663.5 91.5L663.5 98.5M664.5 95.5L663.5 98.5L661.5 95.5M681.5 91.5L680.5 101.5M682.5 96.5L680.5 101.5L678.5 96.5M699.5 91.5L696.5 102.5M700.5 97.5L696.5 102.5L695.5 96.5M717.5 91.5L712.5 104.5M717.5 99.5L712.5 104.5L711.5 97.5M735.5 91.5L727.5 108.5M734.5 102.5L727.5 108.5L727.5 98.5M754.5 91.5L744.5 109.5M752.5 103.5L744.5 109.5L744.5 99.5M772.5 91.5L762.5 108.5M770.5 102.5L762.5 108.5L763.5 98.5M790.5 91.5L779.5 108.5M787.5 103.5L779.5 108.5L780.5 98.5M681.5 109.5L681.5 119.5M683.5 114.5L681.5 119.5L679.5 114.5M699.5 109.5L698.5 120.5M701.5 115.5L698.5 120.5L696.5 115.5M717.5 109.5L713.5 123.5M718.5 118.5L713.5 123.5L712.5 116.5M735.5 109.5L727.5 125.5M734.5 119.5L727.5 125.5L728.5 116.5M754.5 109.5L743.5 127.5M752.5 121.5L743.5 127.5L744.5 117.5M772.5 109.5L761.5 126.5M770.5 120.5L761.5 126.5L762.5 116.5M790.5 109.5L779.5 126.5M787.5 120.5L779.5 126.5L780.5 116.5M663.5 127.5L662.5 135.5M664.5 131.5L662.5 135.5L661.5 131.5M681.5 127.5L681.5 137.5M683.5 133.5L681.5 137.5L679.5 133.5M699.5 127.5L697.5 138.5M700.5 134.5L697.5 138.5L696.5 133.5M717.5 127.5L712.5 141.5M717.5 136.5L712.5 141.5L711.5 134.5M735.5 127.5L727.5 142.5M734.5 137.5L727.5 142.5L728.5 133.5M754.5 127.5L744.5 142.5M752.5 137.5L744.5 142.5L745.5 134.5M772.5 127.5L761.5 144.5M769.5 139.5L761.5 144.5L762.5 134.5M790.5 127.5L779.5 145.5M787.5 139.5L779.5 145.5L780.5 134.5M645.5 145.5L645.5 151.5M646.5 149.5L645.5 151.5L643.5 149.5M663.5 145.5L663.5 153.5M665.5 149.5L663.5 153.5L662.5 150.5M681.5 145.5L679.5 153.5M682.5 150.5L679.5 153.5L679.5 149.5M699.5 145.5L696.5 156.5M699.5 152.5L696.5 156.5L695.5 150.5M717.5 145.5L711.5 157.5M716.5 153.5L711.5 157.5L711.5 151.5M735.5 145.5L726.5 159.5M733.5 155.5L726.5 159.5L727.5 151.5M754.5 145.5L743.5 161.5M751.5 156.5L743.5 161.5L744.5 152.5M772.5 145.5L761.5 161.5M769.5 156.5L761.5 161.5L763.5 152.5M790.5 145.5L778.5 162.5M787.5 157.5L778.5 162.5L780.5 152.5M645.5 164.5L642.5 169.5M645.5 167.5L642.5 169.5L642.5 166.5M663.5 164.5L660.5 170.5M663.5 168.5L660.5 170.5L660.5 167.5M681.5 164.5L679.5 171.5M682.5 168.5L679.5 171.5L679.5 167.5M699.5 164.5L697.5 174.5M700.5 170.5L697.5 174.5L696.5 169.5M717.5 164.5L710.5 175.5M716.5 171.5L710.5 175.5L711.5 168.5M735.5 164.5L725.5 175.5M732.5 172.5L725.5 175.5L727.5 168.5M754.5 164.5L742.5 175.5M749.5 172.5L742.5 175.5L745.5 167.5M772.5 164.5L758.5 177.5M767.5 174.5L758.5 177.5L761.5 168.5M790.5 164.5L775.5 177.5M785.5 174.5L775.5 177.5L779.5 168.5M626.5 182.5L619.5 184.5M623.5 184.5L619.5 184.5L622.5 181.5M645.5 182.5L638.5 185.5M642.5 185.5L638.5 185.5L640.5 182.5M663.5 182.5L657.5 186.5M661.5 185.5L657.5 186.5L659.5 183.5M681.5 182.5L674.5 187.5M679.5 186.5L674.5 187.5L676.5 183.5M699.5 182.5L693.5 191.5M698.5 188.5L693.5 191.5L694.5 185.5M717.5 182.5L710.5 192.5M715.5 189.5L710.5 192.5L711.5 186.5M735.5 182.5L723.5 192.5M731.5 190.5L723.5 192.5L727.5 185.5M754.5 182.5L737.5 188.5M746.5 189.5L737.5 188.5L743.5 182.5M772.5 182.5L754.5 189.5M764.5 189.5L754.5 189.5L761.5 182.5M790.5 182.5L773.5 190.5M782.5 190.5L773.5 190.5L779.5 183.5M608.5 200.5L595.5 203.5M602.5 204.5L595.5 203.5L600.5 199.5M626.5 200.5L613.5 203.5M620.5 204.5L613.5 203.5L619.5 199.5M645.5 200.5L630.5 204.5M638.5 205.5L630.5 204.5L636.5 199.5M663.5 200.5L650.5 205.5M657.5 205.5L650.5 205.5L655.5 200.5M681.5 200.5L667.5 204.5M674.5 205.5L667.5 204.5L672.5 199.5M699.5 200.5L684.5 207.5M692.5 207.5L684.5 207.5L689.5 201.5M717.5 200.5L701.5 210.5M710.5 209.5L701.5 210.5L706.5 202.5M735.5 200.5L718.5 207.5M727.5 208.5L718.5 207.5L724.5 200.5M754.5 200.5L737.5 205.5M745.5 206.5L737.5 205.5L743.5 199.5M772.5 200.5L753.5 204.5M762.5 206.5L753.5 204.5L761.5 198.5M790.5 200.5L771.5 204.5M780.5 206.5L771.5 204.5L778.5 198.5M590.5 218.5L572.5 220.5M581.5 223.5L572.5 220.5L580.5 216.5M608.5 218.5L588.5 221.5M598.5 224.5L588.5 221.5L596.5 215.5M626.5 218.5L605.5 220.5M615.5 224.5L605.5 220.5L614.5 214.5M645.5 218.5L622.5 222.5M633.5 225.5L622.5 222.5L632.5 215.5M663.5 218.5L641.5 225.5M653.5 226.5L641.5 225.5L650.5 217.5M681.5 218.5L658.5 224.5M670.5 226.5L658.5 224.5L667.5 217.5M699.5 218.5L675.5 220.5M686.5 224.5L675.5 220.5L685.5 214.5M717.5 218.5L692.5 224.5M705.5 226.5L692.5 224.5L702.5 216.5M735.5 218.5L712.5 225.5M724.5 227.5L712.5 225.5L721.5 217.5M754.5 218.5L732.5 223.5M742.5 225.5L732.5 223.5L741.5 216.5M772.5 218.5L750.5 221.5M761.5 224.5L750.5 221.5L759.5 215.5M790.5 218.5L768.5 221.5M779.5 224.5L768.5 221.5L777.5 215.5M572.5 236.5L554.5 238.5M563.5 241.5L554.5 238.5L562.5 234.5M590.5 236.5L569.5 238.5M579.5 242.5L569.5 238.5L578.5 233.5M608.5 236.5L585.5 239.5M596.5 243.5L585.5 239.5L595.5 233.5M626.5 236.5L602.5 239.5M614.5 243.5L602.5 239.5L613.5 233.5M645.5 236.5L621.5 241.5M632.5 244.5L621.5 241.5L631.5 234.5M663.5 236.5L638.5 243.5M651.5 245.5L638.5 243.5L648.5 234.5M681.5 236.5L656.5 242.5M669.5 245.5L656.5 242.5L666.5 234.5M699.5 236.5L674.5 240.5M686.5 244.5L674.5 240.5L684.5 233.5M717.5 236.5L692.5 240.5M704.5 244.5L692.5 240.5L703.5 233.5M735.5 236.5L712.5 241.5M723.5 244.5L712.5 241.5L721.5 234.5M754.5 236.5L731.5 240.5M742.5 243.5L731.5 240.5L740.5 233.5M772.5 236.5L749.5 239.5M760.5 243.5L749.5 239.5L759.5 233.5M790.5 236.5L768.5 239.5M779.5 242.5L768.5 239.5L777.5 233.5M554.5 254.5L536.5 258.5M545.5 260.5L536.5 258.5L543.5 253.5M572.5 254.5L552.5 258.5M562.5 260.5L552.5 258.5L560.5 252.5M590.5 254.5L567.5 258.5M578.5 261.5L567.5 258.5L577.5 251.5M608.5 254.5L584.5 258.5M596.5 261.5L584.5 258.5L594.5 251.5M626.5 254.5L603.5 258.5M614.5 262.5L603.5 258.5L613.5 251.5M645.5 254.5L621.5 258.5M632.5 262.5L621.5 258.5L631.5 251.5M663.5 254.5L639.5 259.5M651.5 262.5L639.5 259.5L649.5 252.5M681.5 254.5L657.5 259.5M669.5 262.5L657.5 259.5L667.5 252.5M699.5 254.5L675.5 258.5M687.5 261.5L675.5 258.5L685.5 251.5M717.5 254.5L693.5 257.5M705.5 261.5L693.5 257.5L703.5 251.5M735.5 254.5L711.5 258.5M723.5 261.5L711.5 258.5L722.5 251.5M754.5 254.5L731.5 258.5M742.5 261.5L731.5 258.5L740.5 252.5M772.5 254.5L750.5 258.5M760.5 261.5L750.5 258.5L759.5 252.5M790.5 254.5L769.5 258.5M779.5 261.5L769.5 258.5L777.5 252.5M209.5 273.5L198.5 275.5M203.5 276.5L198.5 275.5L202.5 271.5M554.5 273.5L534.5 276.5M544.5 279.5L534.5 276.5L542.5 271.5M572.5 273.5L552.5 277.5M562.5 279.5L552.5 277.5L560.5 270.5M590.5 273.5L567.5 277.5M579.5 280.5L567.5 277.5L577.5 270.5M608.5 273.5L585.5 277.5M597.5 280.5L585.5 277.5L595.5 270.5M626.5 273.5L603.5 276.5M615.5 279.5L603.5 276.5L613.5 270.5M645.5 273.5L622.5 276.5M633.5 279.5L622.5 276.5L631.5 269.5M663.5 273.5L640.5 276.5M651.5 279.5L640.5 276.5L649.5 270.5M681.5 273.5L658.5 277.5M669.5 280.5L658.5 277.5L667.5 270.5M699.5 273.5L675.5 277.5M687.5 280.5L675.5 277.5L685.5 270.5M717.5 273.5L693.5 276.5M705.5 279.5L693.5 276.5L703.5 269.5M735.5 273.5L712.5 277.5M723.5 280.5L712.5 277.5L721.5 270.5M754.5 273.5L731.5 277.5M742.5 280.5L731.5 277.5L740.5 270.5M772.5 273.5L750.5 277.5M761.5 280.5L750.5 277.5L759.5 270.5M790.5 273.5L769.5 277.5M779.5 280.5L769.5 277.5L777.5 271.5M209.5 291.5L197.5 293.5M203.5 295.5L197.5 293.5L201.5 289.5M227.5 291.5L217.5 292.5M222.5 294.5L217.5 292.5L221.5 290.5M245.5 291.5L235.5 292.5M240.5 294.5L235.5 292.5L239.5 290.5M263.5 291.5L252.5 293.5M258.5 294.5L252.5 293.5L257.5 290.5M281.5 291.5L271.5 293.5M276.5 294.5L271.5 293.5L275.5 290.5M536.5 291.5L516.5 295.5M526.5 297.5L516.5 295.5L524.5 289.5M554.5 291.5L533.5 295.5M544.5 297.5L533.5 295.5L542.5 289.5M572.5 291.5L551.5 295.5M561.5 298.5L551.5 295.5L559.5 289.5M590.5 291.5L568.5 295.5M579.5 298.5L568.5 295.5L577.5 289.5M608.5 291.5L586.5 295.5M597.5 298.5L586.5 295.5L595.5 288.5M626.5 291.5L604.5 294.5M615.5 297.5L604.5 294.5L613.5 288.5M645.5 291.5L622.5 294.5M633.5 297.5L622.5 294.5L632.5 288.5M663.5 291.5L641.5 295.5M651.5 297.5L641.5 295.5L650.5 288.5M681.5 291.5L659.5 295.5M670.5 298.5L659.5 295.5L668.5 289.5M699.5 291.5L676.5 296.5M688.5 298.5L676.5 296.5L686.5 289.5M717.5 291.5L693.5 296.5M705.5 298.5L693.5 296.5L703.5 288.5M735.5 291.5L712.5 296.5M724.5 299.5L712.5 296.5L721.5 289.5M754.5 291.5L731.5 296.5M742.5 298.5L731.5 296.5L740.5 289.5M772.5 291.5L750.5 296.5M761.5 298.5L750.5 296.5L759.5 289.5M790.5 291.5L769.5 296.5M780.5 298.5L769.5 296.5L777.5 289.5M227.5 309.5L217.5 311.5M222.5 312.5L217.5 311.5L221.5 308.5M245.5 309.5L233.5 311.5M239.5 313.5L233.5 311.5L238.5 307.5M263.5 309.5L250.5 312.5M256.5 313.5L250.5 312.5L255.5 308.5M281.5 309.5L268.5 312.5M275.5 313.5L268.5 312.5L273.5 308.5M299.5 309.5L287.5 311.5M293.5 313.5L287.5 311.5L292.5 308.5M318.5 309.5L307.5 311.5M312.5 312.5L307.5 311.5L311.5 308.5M499.5 309.5L483.5 313.5M491.5 315.5L483.5 313.5L490.5 308.5M517.5 309.5L499.5 314.5M508.5 315.5L499.5 314.5L506.5 308.5M536.5 309.5L516.5 314.5M526.5 316.5L516.5 314.5L524.5 307.5M554.5 309.5L534.5 313.5M544.5 315.5L534.5 313.5L542.5 307.5M572.5 309.5L552.5 313.5M562.5 316.5L552.5 313.5L560.5 307.5M590.5 309.5L569.5 314.5M580.5 316.5L569.5 314.5L578.5 307.5M608.5 309.5L587.5 314.5M598.5 316.5L587.5 314.5L596.5 307.5M626.5 309.5L605.5 313.5M616.5 316.5L605.5 313.5L614.5 307.5M645.5 309.5L623.5 313.5M634.5 316.5L623.5 313.5L632.5 307.5M663.5 309.5L641.5 314.5M652.5 316.5L641.5 314.5L650.5 307.5M681.5 309.5L659.5 314.5M670.5 316.5L659.5 314.5L668.5 307.5M699.5 309.5L677.5 314.5M688.5 316.5L677.5 314.5L686.5 307.5M717.5 309.5L695.5 314.5M706.5 316.5L695.5 314.5L704.5 307.5M735.5 309.5L714.5 314.5M725.5 316.5L714.5 314.5L722.5 307.5M754.5 309.5L732.5 314.5M743.5 316.5L732.5 314.5L740.5 307.5M772.5 309.5L751.5 314.5M761.5 316.5L751.5 314.5L759.5 307.5M790.5 309.5L770.5 314.5M780.5 316.5L770.5 314.5L778.5 307.5M263.5 327.5L251.5 330.5M257.5 331.5L251.5 330.5L256.5 326.5M281.5 327.5L268.5 330.5M275.5 331.5L268.5 330.5L273.5 326.5M299.5 327.5L285.5 330.5M292.5 332.5L285.5 330.5L291.5 326.5M318.5 327.5L303.5 330.5M310.5 332.5L303.5 330.5L309.5 326.5M336.5 327.5L321.5 330.5M329.5 332.5L321.5 330.5L327.5 326.5M354.5 327.5L340.5 331.5M347.5 332.5L340.5 331.5L345.5 326.5M372.5 327.5L358.5 331.5M365.5 332.5L358.5 331.5L364.5 326.5M390.5 327.5L376.5 331.5M383.5 332.5L376.5 331.5L382.5 326.5M408.5 327.5L392.5 331.5M400.5 333.5L392.5 331.5L399.5 326.5M427.5 327.5L410.5 331.5M419.5 333.5L410.5 331.5L417.5 326.5M445.5 327.5L427.5 331.5M436.5 333.5L427.5 331.5L434.5 326.5M463.5 327.5L444.5 331.5M454.5 333.5L444.5 331.5L452.5 325.5M481.5 327.5L462.5 331.5M472.5 333.5L462.5 331.5L470.5 325.5M499.5 327.5L481.5 332.5M490.5 333.5L481.5 332.5L488.5 326.5M517.5 327.5L498.5 332.5M508.5 334.5L498.5 332.5L506.5 326.5M536.5 327.5L516.5 332.5M526.5 334.5L516.5 332.5L524.5 326.5M554.5 327.5L534.5 332.5M544.5 334.5L534.5 332.5L542.5 326.5M572.5 327.5L553.5 332.5M562.5 334.5L553.5 332.5L560.5 326.5M590.5 327.5L570.5 332.5M580.5 334.5L570.5 332.5L578.5 326.5M608.5 327.5L587.5 333.5M598.5 334.5L587.5 333.5L596.5 326.5M626.5 327.5L605.5 332.5M616.5 334.5L605.5 332.5L614.5 326.5M645.5 327.5L624.5 332.5M634.5 334.5L624.5 332.5L632.5 325.5M663.5 327.5L642.5 332.5M652.5 334.5L642.5 332.5L650.5 325.5M681.5 327.5L660.5 332.5M671.5 334.5L660.5 332.5L668.5 326.5M699.5 327.5L678.5 333.5M689.5 335.5L678.5 333.5L686.5 326.5M717.5 327.5L696.5 333.5M707.5 335.5L696.5 333.5L705.5 326.5M735.5 327.5L714.5 333.5M725.5 334.5L714.5 333.5L723.5 326.5M754.5 327.5L733.5 332.5M743.5 334.5L733.5 332.5L741.5 325.5M772.5 327.5L752.5 332.5M762.5 334.5L752.5 332.5L760.5 326.5M790.5 327.5L770.5 332.5M780.5 334.5L770.5 332.5L778.5 326.5M299.5 345.5L284.5 349.5M292.5 350.5L284.5 349.5L290.5 344.5M318.5 345.5L300.5 349.5M309.5 351.5L300.5 349.5L307.5 344.5M336.5 345.5L317.5 350.5M327.5 352.5L317.5 350.5L325.5 344.5M354.5 345.5L336.5 350.5M345.5 352.5L336.5 350.5L343.5 344.5M372.5 345.5L354.5 350.5M363.5 352.5L354.5 350.5L361.5 344.5M390.5 345.5L372.5 350.5M381.5 352.5L372.5 350.5L379.5 344.5M408.5 345.5L390.5 349.5M399.5 351.5L390.5 349.5L397.5 344.5M427.5 345.5L408.5 350.5M417.5 351.5L408.5 350.5L416.5 344.5M445.5 345.5L426.5 349.5M435.5 351.5L426.5 349.5L434.5 344.5M463.5 345.5L444.5 349.5M454.5 351.5L444.5 349.5L452.5 344.5M481.5 345.5L462.5 349.5M472.5 351.5L462.5 349.5L470.5 344.5M499.5 345.5L481.5 350.5M490.5 352.5L481.5 350.5L488.5 344.5M517.5 345.5L499.5 350.5M508.5 352.5L499.5 350.5L506.5 344.5M536.5 345.5L517.5 350.5M527.5 352.5L517.5 350.5L524.5 344.5M554.5 345.5L535.5 350.5M545.5 352.5L535.5 350.5L543.5 344.5M572.5 345.5L553.5 350.5M563.5 352.5L553.5 350.5L560.5 344.5M590.5 345.5L571.5 350.5M581.5 352.5L571.5 350.5L578.5 344.5M608.5 345.5L588.5 351.5M598.5 352.5L588.5 351.5L596.5 344.5M626.5 345.5L606.5 351.5M617.5 352.5L606.5 351.5L614.5 344.5M645.5 345.5L625.5 351.5M635.5 352.5L625.5 351.5L632.5 344.5M663.5 345.5L643.5 351.5M653.5 352.5L643.5 351.5L651.5 344.5M681.5 345.5L661.5 351.5M671.5 352.5L661.5 351.5L669.5 344.5M699.5 345.5L679.5 351.5M689.5 353.5L679.5 351.5L687.5 344.5M717.5 345.5L697.5 351.5M707.5 353.5L697.5 351.5L705.5 344.5M735.5 345.5L715.5 351.5M726.5 352.5L715.5 351.5L723.5 344.5M754.5 345.5L733.5 350.5M744.5 352.5L733.5 350.5L741.5 344.5M772.5 345.5L752.5 350.5M762.5 352.5L752.5 350.5L760.5 344.5M790.5 345.5L771.5 350.5M780.5 352.5L771.5 350.5L778.5 344.5M299.5 363.5L286.5 368.5M293.5 369.5L286.5 368.5L291.5 363.5M318.5 363.5L302.5 368.5M310.5 369.5L302.5 368.5L308.5 363.5M336.5 363.5L319.5 368.5M327.5 369.5L319.5 368.5L325.5 362.5M354.5 363.5L336.5 368.5M345.5 370.5L336.5 368.5L343.5 362.5M372.5 363.5L354.5 368.5M363.5 370.5L354.5 368.5L361.5 362.5M390.5 363.5L372.5 368.5M381.5 370.5L372.5 368.5L379.5 362.5M408.5 363.5L391.5 367.5M400.5 369.5L391.5 367.5L398.5 362.5M427.5 363.5L409.5 367.5M418.5 369.5L409.5 367.5L416.5 362.5M445.5 363.5L426.5 368.5M435.5 370.5L426.5 368.5L434.5 362.5M463.5 363.5L444.5 368.5M454.5 370.5L444.5 368.5L452.5 362.5M481.5 363.5L462.5 368.5M472.5 370.5L462.5 368.5L470.5 362.5M499.5 363.5L481.5 368.5M490.5 370.5L481.5 368.5L488.5 362.5M517.5 363.5L499.5 368.5M508.5 370.5L499.5 368.5L506.5 362.5M536.5 363.5L517.5 368.5M527.5 370.5L517.5 368.5L524.5 362.5M554.5 363.5L535.5 369.5M545.5 370.5L535.5 369.5L543.5 362.5M572.5 363.5L554.5 369.5M563.5 370.5L554.5 369.5L561.5 362.5M590.5 363.5L571.5 369.5M581.5 370.5L571.5 369.5L578.5 362.5M608.5 363.5L588.5 369.5M598.5 371.5L588.5 369.5L596.5 362.5M626.5 363.5L606.5 369.5M617.5 371.5L606.5 369.5L614.5 362.5M645.5 363.5L625.5 369.5M635.5 371.5L625.5 369.5L632.5 362.5M663.5 363.5L644.5 369.5M653.5 370.5L644.5 369.5L651.5 362.5M681.5 363.5L662.5 369.5M672.5 370.5L662.5 369.5L669.5 362.5M699.5 363.5L680.5 369.5M690.5 371.5L680.5 369.5L687.5 362.5M717.5 363.5L698.5 369.5M708.5 370.5L698.5 369.5L706.5 362.5M735.5 363.5L716.5 369.5M726.5 370.5L716.5 369.5L724.5 362.5M754.5 363.5L734.5 369.5M744.5 370.5L734.5 369.5L742.5 362.5M772.5 363.5L753.5 369.5M762.5 370.5L753.5 369.5L760.5 362.5M790.5 363.5L771.5 368.5M781.5 370.5L771.5 368.5L779.5 362.5M281.5 382.5L270.5 385.5M276.5 386.5L270.5 385.5L274.5 381.5M299.5 382.5L286.5 386.5M293.5 387.5L286.5 386.5L291.5 381.5M318.5 382.5L303.5 386.5M310.5 387.5L303.5 386.5L308.5 381.5M336.5 382.5L319.5 386.5M327.5 388.5L319.5 386.5L325.5 380.5M354.5 382.5L335.5 386.5M345.5 388.5L335.5 386.5L343.5 380.5M372.5 382.5L354.5 386.5M363.5 388.5L354.5 386.5L361.5 380.5M390.5 382.5L372.5 386.5M381.5 388.5L372.5 386.5L379.5 380.5M408.5 382.5L390.5 386.5M399.5 388.5L390.5 386.5L397.5 380.5M427.5 382.5L408.5 386.5M417.5 388.5L408.5 386.5L416.5 380.5M445.5 382.5L426.5 386.5M436.5 388.5L426.5 386.5L434.5 380.5M463.5 382.5L444.5 386.5M454.5 388.5L444.5 386.5L452.5 380.5M481.5 382.5L463.5 386.5M472.5 388.5L463.5 386.5L470.5 380.5M499.5 382.5L481.5 386.5M490.5 388.5L481.5 386.5L488.5 380.5M517.5 382.5L500.5 386.5M509.5 388.5L500.5 386.5L507.5 380.5M536.5 382.5L518.5 386.5M527.5 388.5L518.5 386.5L525.5 380.5M554.5 382.5L535.5 387.5M545.5 388.5L535.5 387.5L543.5 380.5M572.5 382.5L554.5 387.5M563.5 388.5L554.5 387.5L561.5 381.5M590.5 382.5L572.5 387.5M581.5 388.5L572.5 387.5L579.5 380.5M608.5 382.5L589.5 387.5M599.5 388.5L589.5 387.5L597.5 380.5M626.5 382.5L607.5 387.5M617.5 389.5L607.5 387.5L615.5 380.5M645.5 382.5L625.5 387.5M635.5 389.5L625.5 387.5L633.5 381.5M663.5 382.5L644.5 387.5M654.5 389.5L644.5 387.5L651.5 381.5M681.5 382.5L662.5 387.5M672.5 389.5L662.5 387.5L669.5 381.5M699.5 382.5L680.5 387.5M690.5 389.5L680.5 387.5L687.5 381.5M717.5 382.5L698.5 387.5M708.5 389.5L698.5 387.5L706.5 381.5M735.5 382.5L717.5 387.5M727.5 388.5L717.5 387.5L724.5 381.5M754.5 382.5L735.5 387.5M745.5 388.5L735.5 387.5L742.5 381.5M772.5 382.5L753.5 387.5M763.5 388.5L753.5 387.5L761.5 381.5M790.5 382.5L772.5 387.5M781.5 388.5L772.5 387.5L779.5 381.5M281.5 400.5L270.5 404.5M276.5 404.5L270.5 404.5L274.5 399.5M299.5 400.5L286.5 404.5M293.5 405.5L286.5 404.5L291.5 399.5M318.5 400.5L303.5 404.5M310.5 405.5L303.5 404.5L308.5 399.5M336.5 400.5L320.5 404.5M328.5 405.5L320.5 404.5L326.5 399.5M354.5 400.5L337.5 404.5M345.5 406.5L337.5 404.5L344.5 398.5M372.5 400.5L354.5 404.5M363.5 406.5L354.5 404.5L361.5 398.5M390.5 400.5L372.5 404.5M381.5 406.5L372.5 404.5L379.5 398.5M408.5 400.5L391.5 404.5M400.5 406.5L391.5 404.5L398.5 398.5M427.5 400.5L409.5 404.5M418.5 406.5L409.5 404.5L416.5 398.5M445.5 400.5L428.5 404.5M436.5 406.5L428.5 404.5L434.5 399.5M463.5 400.5L447.5 404.5M455.5 405.5L447.5 404.5L453.5 399.5M481.5 400.5L465.5 404.5M473.5 405.5L465.5 404.5L471.5 398.5M499.5 400.5L483.5 404.5M491.5 405.5L483.5 404.5L490.5 398.5M517.5 400.5L501.5 404.5M509.5 405.5L501.5 404.5L508.5 398.5M536.5 400.5L518.5 404.5M527.5 406.5L518.5 404.5L525.5 399.5M554.5 400.5L537.5 405.5M545.5 406.5L537.5 405.5L543.5 399.5M572.5 400.5L554.5 405.5M563.5 406.5L554.5 405.5L561.5 399.5M590.5 400.5L572.5 405.5M581.5 406.5L572.5 405.5L579.5 399.5M608.5 400.5L590.5 405.5M599.5 406.5L590.5 405.5L597.5 399.5M626.5 400.5L608.5 405.5M618.5 406.5L608.5 405.5L615.5 399.5M645.5 400.5L626.5 405.5M636.5 407.5L626.5 405.5L633.5 399.5M663.5 400.5L645.5 405.5M654.5 407.5L645.5 405.5L652.5 399.5M681.5 400.5L663.5 405.5M672.5 407.5L663.5 405.5L670.5 399.5M699.5 400.5L681.5 405.5M690.5 407.5L681.5 405.5L688.5 399.5M717.5 400.5L699.5 405.5M708.5 407.5L699.5 405.5L706.5 399.5M735.5 400.5L717.5 405.5M727.5 407.5L717.5 405.5L724.5 399.5M754.5 400.5L735.5 405.5M745.5 407.5L735.5 405.5L742.5 399.5M772.5 400.5L753.5 405.5M763.5 407.5L753.5 405.5L761.5 399.5M790.5 400.5L772.5 405.5M781.5 407.5L772.5 405.5L779.5 399.5M299.5 418.5L288.5 422.5M294.5 422.5L288.5 422.5L292.5 417.5M318.5 418.5L304.5 422.5M311.5 423.5L304.5 422.5L309.5 417.5M336.5 418.5L321.5 422.5M329.5 424.5L321.5 422.5L327.5 417.5M354.5 418.5L337.5 422.5M345.5 424.5L337.5 422.5L344.5 417.5M372.5 418.5L354.5 423.5M363.5 424.5L354.5 423.5L361.5 417.5M390.5 418.5L372.5 423.5M381.5 425.5L372.5 423.5L379.5 417.5M408.5 418.5L390.5 423.5M399.5 425.5L390.5 423.5L397.5 417.5M427.5 418.5L410.5 423.5M418.5 424.5L410.5 423.5L416.5 417.5M445.5 418.5L428.5 423.5M436.5 424.5L428.5 423.5L434.5 417.5M463.5 418.5L447.5 422.5M455.5 424.5L447.5 422.5L453.5 417.5M481.5 418.5L466.5 422.5M474.5 423.5L466.5 422.5L472.5 417.5M499.5 418.5L484.5 421.5M492.5 423.5L484.5 421.5L490.5 417.5M517.5 418.5L502.5 422.5M510.5 423.5L502.5 422.5L508.5 417.5M536.5 418.5L519.5 422.5M528.5 424.5L519.5 422.5L526.5 417.5M554.5 418.5L537.5 423.5M545.5 424.5L537.5 423.5L543.5 417.5M572.5 418.5L554.5 423.5M563.5 425.5L554.5 423.5L561.5 417.5M590.5 418.5L572.5 423.5M581.5 425.5L572.5 423.5L579.5 417.5M608.5 418.5L590.5 423.5M599.5 425.5L590.5 423.5L597.5 417.5M626.5 418.5L608.5 423.5M618.5 425.5L608.5 423.5L615.5 417.5M645.5 418.5L626.5 423.5M636.5 425.5L626.5 423.5L633.5 417.5M663.5 418.5L645.5 424.5M654.5 425.5L645.5 424.5L652.5 417.5M681.5 418.5L663.5 424.5M672.5 425.5L663.5 424.5L670.5 417.5M699.5 418.5L681.5 424.5M690.5 425.5L681.5 424.5L688.5 417.5M717.5 418.5L699.5 424.5M709.5 425.5L699.5 424.5L706.5 417.5M735.5 418.5L717.5 423.5M727.5 425.5L717.5 423.5L724.5 417.5M754.5 418.5L735.5 423.5M745.5 425.5L735.5 423.5L742.5 417.5M772.5 418.5L753.5 423.5M763.5 425.5L753.5 423.5L761.5 417.5M790.5 418.5L772.5 423.5M781.5 425.5L772.5 423.5L779.5 417.5M336.5 436.5L319.5 442.5M328.5 443.5L319.5 442.5L325.5 436.5M354.5 436.5L336.5 442.5M345.5 443.5L336.5 442.5L343.5 435.5M372.5 436.5L354.5 442.5M363.5 443.5L354.5 442.5L361.5 435.5M390.5 436.5L372.5 442.5M382.5 443.5L372.5 442.5L379.5 435.5M408.5 436.5L392.5 441.5M400.5 443.5L392.5 441.5L398.5 435.5M427.5 436.5L410.5 441.5M418.5 442.5L410.5 441.5L416.5 435.5M445.5 436.5L429.5 440.5M437.5 442.5L429.5 440.5L435.5 435.5M463.5 436.5L448.5 440.5M455.5 441.5L448.5 440.5L454.5 435.5M481.5 436.5L466.5 440.5M474.5 441.5L466.5 440.5L472.5 435.5M499.5 436.5L484.5 440.5M492.5 441.5L484.5 440.5L490.5 435.5M517.5 436.5L503.5 440.5M510.5 441.5L503.5 440.5L509.5 435.5M536.5 436.5L520.5 440.5M528.5 442.5L520.5 440.5L526.5 435.5M554.5 436.5L538.5 441.5M546.5 442.5L538.5 441.5L544.5 435.5M572.5 436.5L555.5 441.5M564.5 443.5L555.5 441.5L562.5 435.5M590.5 436.5L572.5 442.5M581.5 443.5L572.5 442.5L579.5 435.5M608.5 436.5L590.5 442.5M599.5 443.5L590.5 442.5L597.5 435.5M626.5 436.5L608.5 442.5M618.5 443.5L608.5 442.5L615.5 435.5M645.5 436.5L626.5 442.5M636.5 443.5L626.5 442.5L633.5 435.5M663.5 436.5L644.5 442.5M654.5 443.5L644.5 442.5L652.5 435.5M681.5 436.5L663.5 442.5M672.5 443.5L663.5 442.5L670.5 435.5M699.5 436.5L681.5 442.5M690.5 443.5L681.5 442.5L688.5 435.5M717.5 436.5L699.5 442.5M709.5 443.5L699.5 442.5L706.5 435.5M735.5 436.5L717.5 442.5M727.5 443.5L717.5 442.5L724.5 435.5M754.5 436.5L735.5 441.5M745.5 443.5L735.5 441.5L742.5 435.5M772.5 436.5L753.5 441.5M763.5 443.5L753.5 441.5L761.5 435.5M790.5 436.5L772.5 441.5M781.5 443.5L772.5 441.5L779.5 435.5M336.5 454.5L319.5 460.5M328.5 461.5L319.5 460.5L325.5 454.5M354.5 454.5L336.5 460.5M345.5 461.5L336.5 460.5L343.5 454.5M372.5 454.5L354.5 460.5M364.5 461.5L354.5 460.5L361.5 454.5M390.5 454.5L372.5 461.5M382.5 462.5L372.5 461.5L379.5 454.5M408.5 454.5L393.5 460.5M401.5 461.5L393.5 460.5L399.5 454.5M427.5 454.5L411.5 459.5M419.5 460.5L411.5 459.5L417.5 454.5M445.5 454.5L430.5 458.5M437.5 460.5L430.5 458.5L436.5 453.5M463.5 454.5L448.5 458.5M455.5 460.5L448.5 458.5L454.5 453.5M481.5 454.5L467.5 458.5M474.5 459.5L467.5 458.5L473.5 453.5M499.5 454.5L485.5 458.5M492.5 459.5L485.5 458.5L491.5 453.5M517.5 454.5L503.5 458.5M511.5 459.5L503.5 458.5L509.5 453.5M536.5 454.5L521.5 459.5M528.5 460.5L521.5 459.5L526.5 454.5M554.5 454.5L538.5 459.5M546.5 460.5L538.5 459.5L544.5 454.5M572.5 454.5L555.5 460.5M564.5 461.5L555.5 460.5L562.5 454.5M590.5 454.5L572.5 460.5M581.5 461.5L572.5 460.5L579.5 454.5M608.5 454.5L590.5 460.5M599.5 461.5L590.5 460.5L597.5 453.5M626.5 454.5L608.5 460.5M618.5 461.5L608.5 460.5L615.5 453.5M645.5 454.5L626.5 459.5M636.5 461.5L626.5 459.5L633.5 453.5M663.5 454.5L644.5 460.5M654.5 461.5L644.5 460.5L652.5 453.5M681.5 454.5L663.5 460.5M672.5 461.5L663.5 460.5L670.5 453.5M699.5 454.5L681.5 460.5M690.5 461.5L681.5 460.5L688.5 454.5M717.5 454.5L699.5 460.5M709.5 461.5L699.5 460.5L706.5 454.5M735.5 454.5L717.5 460.5M727.5 461.5L717.5 460.5L724.5 454.5M754.5 454.5L735.5 460.5M745.5 461.5L735.5 460.5L742.5 453.5M772.5 454.5L753.5 460.5M763.5 461.5L753.5 460.5L761.5 453.5M790.5 454.5L772.5 460.5M781.5 461.5L772.5 460.5L779.5 453.5M336.5 472.5L320.5 479.5M329.5 479.5L320.5 479.5L326.5 472.5M354.5 472.5L337.5 479.5M346.5 479.5L337.5 479.5L344.5 472.5M372.5 472.5L356.5 479.5M364.5 479.5L356.5 479.5L362.5 472.5M390.5 472.5L374.5 479.5M383.5 479.5L374.5 479.5L380.5 473.5M408.5 472.5L394.5 478.5M402.5 479.5L394.5 478.5L399.5 473.5M427.5 472.5L412.5 478.5M420.5 479.5L412.5 478.5L417.5 472.5M445.5 472.5L431.5 477.5M438.5 478.5L431.5 477.5L436.5 472.5M463.5 472.5L449.5 476.5M456.5 477.5L449.5 476.5L454.5 471.5M481.5 472.5L467.5 476.5M474.5 478.5L467.5 476.5L473.5 472.5M499.5 472.5L485.5 477.5M493.5 478.5L485.5 477.5L491.5 472.5M517.5 472.5L503.5 477.5M511.5 478.5L503.5 477.5L509.5 472.5M536.5 472.5L522.5 477.5M529.5 478.5L522.5 477.5L527.5 472.5M554.5 472.5L539.5 477.5M547.5 478.5L539.5 477.5L545.5 472.5M572.5 472.5L556.5 478.5M564.5 479.5L556.5 478.5L562.5 472.5M590.5 472.5L573.5 478.5M582.5 479.5L573.5 478.5L580.5 472.5M608.5 472.5L592.5 477.5M601.5 478.5L592.5 477.5L598.5 472.5M626.5 472.5L609.5 477.5M618.5 479.5L609.5 477.5L616.5 471.5M645.5 472.5L626.5 478.5M636.5 479.5L626.5 478.5L633.5 471.5M663.5 472.5L644.5 478.5M654.5 479.5L644.5 478.5L652.5 471.5M681.5 472.5L663.5 478.5M672.5 479.5L663.5 478.5L670.5 472.5M699.5 472.5L681.5 478.5M690.5 480.5L681.5 478.5L688.5 472.5M717.5 472.5L699.5 479.5M709.5 480.5L699.5 479.5L706.5 472.5M735.5 472.5L717.5 479.5M727.5 480.5L717.5 479.5L724.5 472.5M754.5 472.5L735.5 478.5M745.5 479.5L735.5 478.5L742.5 472.5M772.5 472.5L754.5 478.5M763.5 479.5L754.5 478.5L761.5 472.5M790.5 472.5L772.5 478.5M781.5 479.5L772.5 478.5L779.5 472.5M318.5 491.5L305.5 498.5M312.5 497.5L305.5 498.5L309.5 492.5M336.5 491.5L321.5 499.5M330.5 498.5L321.5 499.5L326.5 492.5M354.5 491.5L339.5 498.5M347.5 498.5L339.5 498.5L344.5 491.5M372.5 491.5L356.5 498.5M365.5 498.5L356.5 498.5L362.5 491.5M390.5 491.5L375.5 497.5M383.5 497.5L375.5 497.5L380.5 491.5M408.5 491.5L395.5 496.5M402.5 496.5L395.5 496.5L400.5 491.5M427.5 491.5L413.5 496.5M420.5 496.5L413.5 496.5L418.5 491.5M445.5 491.5L431.5 495.5M438.5 496.5L431.5 495.5L436.5 490.5M463.5 491.5L450.5 495.5M457.5 496.5L450.5 495.5L455.5 490.5M481.5 491.5L468.5 495.5M475.5 496.5L468.5 495.5L473.5 490.5M499.5 491.5L486.5 495.5M493.5 496.5L486.5 495.5L491.5 490.5M517.5 491.5L504.5 495.5M511.5 496.5L504.5 495.5L509.5 490.5M536.5 491.5L521.5 495.5M528.5 496.5L521.5 495.5L526.5 490.5M554.5 491.5L539.5 495.5M547.5 496.5L539.5 495.5L545.5 490.5M572.5 491.5L556.5 496.5M564.5 497.5L556.5 496.5L562.5 490.5M590.5 491.5L573.5 496.5M582.5 497.5L573.5 496.5L580.5 490.5M608.5 491.5L592.5 496.5M601.5 497.5L592.5 496.5L598.5 490.5M626.5 491.5L609.5 496.5M618.5 497.5L609.5 496.5L616.5 490.5M645.5 491.5L626.5 496.5M636.5 497.5L626.5 496.5L633.5 490.5M663.5 491.5L645.5 496.5M654.5 498.5L645.5 496.5L652.5 490.5M681.5 491.5L663.5 497.5M672.5 498.5L663.5 497.5L670.5 490.5M699.5 491.5L681.5 497.5M691.5 498.5L681.5 497.5L688.5 490.5M717.5 491.5L699.5 497.5M709.5 498.5L699.5 497.5L706.5 490.5M735.5 491.5L718.5 497.5M727.5 498.5L718.5 497.5L724.5 490.5M754.5 491.5L736.5 498.5M745.5 498.5L736.5 498.5L742.5 491.5M772.5 491.5L754.5 498.5M764.5 498.5L754.5 498.5L761.5 491.5M790.5 491.5L772.5 498.5M782.5 498.5L772.5 498.5L779.5 491.5M299.5 509.5L290.5 516.5M296.5 515.5L290.5 516.5L292.5 511.5M318.5 509.5L305.5 518.5M313.5 517.5L305.5 518.5L309.5 511.5M336.5 509.5L322.5 519.5M331.5 517.5L322.5 519.5L326.5 511.5M354.5 509.5L340.5 517.5M348.5 516.5L340.5 517.5L344.5 510.5M372.5 509.5L357.5 516.5M365.5 516.5L357.5 516.5L362.5 509.5M390.5 509.5L375.5 515.5M383.5 516.5L375.5 515.5L380.5 509.5M408.5 509.5L395.5 514.5M402.5 515.5L395.5 514.5L400.5 509.5M427.5 509.5L413.5 514.5M420.5 515.5L413.5 514.5L418.5 509.5M445.5 509.5L432.5 514.5M439.5 514.5L432.5 514.5L437.5 509.5M463.5 509.5L450.5 513.5M457.5 514.5L450.5 513.5L455.5 509.5M481.5 509.5L468.5 513.5M475.5 514.5L468.5 513.5L473.5 508.5M499.5 509.5L486.5 513.5M493.5 514.5L486.5 513.5L491.5 508.5M517.5 509.5L504.5 513.5M511.5 514.5L504.5 513.5L509.5 508.5M536.5 509.5L521.5 514.5M528.5 515.5L521.5 514.5L526.5 508.5M554.5 509.5L538.5 514.5M546.5 515.5L538.5 514.5L544.5 508.5M572.5 509.5L556.5 514.5M564.5 515.5L556.5 514.5L562.5 508.5M590.5 509.5L573.5 515.5M582.5 515.5L573.5 515.5L580.5 508.5M608.5 509.5L592.5 515.5M600.5 516.5L592.5 515.5L598.5 509.5M626.5 509.5L610.5 515.5M619.5 516.5L610.5 515.5L616.5 509.5M645.5 509.5L627.5 516.5M636.5 516.5L627.5 516.5L633.5 509.5M663.5 509.5L645.5 516.5M655.5 516.5L645.5 516.5L652.5 509.5M681.5 509.5L663.5 516.5M673.5 516.5L663.5 516.5L670.5 509.5M699.5 509.5L681.5 515.5M691.5 516.5L681.5 515.5L688.5 509.5M717.5 509.5L699.5 516.5M709.5 516.5L699.5 516.5L706.5 509.5M735.5 509.5L718.5 516.5M727.5 516.5L718.5 516.5L724.5 509.5M754.5 509.5L736.5 516.5M746.5 516.5L736.5 516.5L742.5 509.5M772.5 509.5L754.5 516.5M764.5 517.5L754.5 516.5L761.5 509.5M790.5 509.5L772.5 516.5M782.5 517.5L772.5 516.5L779.5 509.5M281.5 527.5L270.5 536.5M277.5 534.5L270.5 536.5L273.5 529.5M299.5 527.5L287.5 537.5M295.5 535.5L287.5 537.5L291.5 530.5M318.5 527.5L305.5 537.5M313.5 535.5L305.5 537.5L308.5 530.5M336.5 527.5L323.5 537.5M331.5 535.5L323.5 537.5L326.5 530.5M354.5 527.5L341.5 536.5M349.5 534.5L341.5 536.5L345.5 529.5M372.5 527.5L358.5 534.5M366.5 534.5L358.5 534.5L363.5 528.5M390.5 527.5L376.5 533.5M384.5 533.5L376.5 533.5L381.5 527.5M408.5 527.5L396.5 532.5M403.5 532.5L396.5 532.5L400.5 527.5M427.5 527.5L414.5 532.5M421.5 532.5L414.5 532.5L419.5 527.5M445.5 527.5L432.5 532.5M439.5 532.5L432.5 532.5L437.5 527.5M463.5 527.5L450.5 532.5M457.5 532.5L450.5 532.5L455.5 527.5M481.5 527.5L468.5 532.5M475.5 532.5L468.5 532.5L473.5 527.5M499.5 527.5L486.5 531.5M493.5 532.5L486.5 531.5L491.5 527.5M517.5 527.5L504.5 532.5M511.5 532.5L504.5 532.5L509.5 526.5M536.5 527.5L521.5 532.5M529.5 533.5L521.5 532.5L526.5 526.5M554.5 527.5L538.5 532.5M546.5 533.5L538.5 532.5L544.5 526.5M572.5 527.5L555.5 533.5M564.5 534.5L555.5 533.5L562.5 527.5M590.5 527.5L573.5 533.5M582.5 534.5L573.5 533.5L580.5 527.5M608.5 527.5L592.5 533.5M601.5 534.5L592.5 533.5L598.5 527.5M626.5 527.5L610.5 534.5M619.5 534.5L610.5 534.5L616.5 527.5M645.5 527.5L627.5 534.5M637.5 535.5L627.5 534.5L633.5 527.5M663.5 527.5L645.5 534.5M655.5 535.5L645.5 534.5L652.5 527.5M681.5 527.5L663.5 534.5M673.5 534.5L663.5 534.5L670.5 527.5M699.5 527.5L681.5 534.5M691.5 534.5L681.5 534.5L688.5 527.5M717.5 527.5L699.5 534.5M709.5 534.5L699.5 534.5L706.5 527.5M735.5 527.5L718.5 534.5M727.5 535.5L718.5 534.5L724.5 527.5M754.5 527.5L736.5 534.5M746.5 535.5L736.5 534.5L742.5 527.5M772.5 527.5L754.5 534.5M764.5 535.5L754.5 534.5L761.5 527.5M790.5 527.5L772.5 534.5M782.5 535.5L772.5 534.5L779.5 527.5M263.5 545.5L253.5 554.5M260.5 552.5L253.5 554.5L256.5 548.5M281.5 545.5L270.5 555.5M277.5 553.5L270.5 555.5L273.5 548.5M299.5 545.5L287.5 556.5M295.5 553.5L287.5 556.5L290.5 548.5M318.5 545.5L305.5 555.5M313.5 553.5L305.5 555.5L308.5 548.5M336.5 545.5L323.5 555.5M331.5 553.5L323.5 555.5L326.5 548.5M354.5 545.5L341.5 554.5M349.5 553.5L341.5 554.5L345.5 547.5M372.5 545.5L359.5 552.5M367.5 552.5L359.5 552.5L364.5 546.5M390.5 545.5L377.5 551.5M384.5 551.5L377.5 551.5L382.5 546.5M408.5 545.5L397.5 550.5M403.5 550.5L397.5 550.5L401.5 545.5M427.5 545.5L417.5 550.5M422.5 550.5L417.5 550.5L420.5 545.5M445.5 545.5L435.5 549.5M440.5 550.5L435.5 549.5L438.5 545.5M463.5 545.5L453.5 549.5M458.5 550.5L453.5 549.5L456.5 545.5M481.5 545.5L471.5 549.5M476.5 550.5L471.5 549.5L475.5 545.5M499.5 545.5L489.5 549.5M494.5 549.5L489.5 549.5L493.5 545.5M517.5 545.5L505.5 550.5M511.5 550.5L505.5 550.5L509.5 545.5M536.5 545.5L521.5 550.5M529.5 551.5L521.5 550.5L526.5 545.5M554.5 545.5L538.5 551.5M546.5 551.5L538.5 551.5L544.5 545.5M572.5 545.5L555.5 551.5M564.5 552.5L555.5 551.5L562.5 545.5M590.5 545.5L572.5 552.5M582.5 553.5L572.5 552.5L579.5 545.5M608.5 545.5L591.5 552.5M600.5 553.5L591.5 552.5L597.5 545.5M626.5 545.5L609.5 553.5M618.5 553.5L609.5 553.5L615.5 545.5M645.5 545.5L627.5 553.5M637.5 553.5L627.5 553.5L633.5 545.5M663.5 545.5L645.5 552.5M655.5 553.5L645.5 552.5L652.5 545.5M681.5 545.5L663.5 552.5M673.5 553.5L663.5 552.5L670.5 545.5M699.5 545.5L681.5 552.5M691.5 552.5L681.5 552.5L688.5 545.5M717.5 545.5L699.5 552.5M709.5 552.5L699.5 552.5L706.5 545.5M735.5 545.5L718.5 552.5M727.5 553.5L718.5 552.5L724.5 545.5M754.5 545.5L737.5 552.5M746.5 552.5L737.5 552.5L743.5 545.5M772.5 545.5L755.5 552.5M764.5 552.5L755.5 552.5L761.5 545.5M790.5 545.5L774.5 552.5M782.5 552.5L774.5 552.5L779.5 545.5M245.5 563.5L236.5 572.5M242.5 570.5L236.5 572.5L238.5 566.5M263.5 563.5L253.5 574.5M260.5 571.5L253.5 574.5L255.5 567.5M281.5 563.5L270.5 575.5M277.5 572.5L270.5 575.5L272.5 567.5M299.5 563.5L287.5 574.5M295.5 572.5L287.5 574.5L290.5 566.5M318.5 563.5L304.5 573.5M313.5 572.5L304.5 573.5L308.5 566.5M336.5 563.5L323.5 572.5M331.5 571.5L323.5 572.5L327.5 565.5M354.5 563.5L341.5 571.5M349.5 570.5L341.5 571.5L345.5 565.5M372.5 563.5L359.5 570.5M367.5 570.5L359.5 570.5L364.5 564.5M390.5 563.5L378.5 569.5M385.5 569.5L378.5 569.5L382.5 564.5M408.5 563.5L397.5 568.5M403.5 568.5L397.5 568.5L401.5 564.5M427.5 563.5L417.5 568.5M422.5 568.5L417.5 568.5L420.5 564.5M445.5 563.5L435.5 568.5M440.5 568.5L435.5 568.5L438.5 564.5M463.5 563.5L453.5 568.5M458.5 568.5L453.5 568.5L456.5 564.5M481.5 563.5L471.5 568.5M477.5 568.5L471.5 568.5L475.5 563.5M499.5 563.5L489.5 567.5M495.5 568.5L489.5 567.5L493.5 563.5M517.5 563.5L505.5 568.5M512.5 569.5L505.5 568.5L509.5 563.5M536.5 563.5L521.5 569.5M529.5 569.5L521.5 569.5L526.5 563.5M554.5 563.5L537.5 570.5M546.5 570.5L537.5 570.5L543.5 563.5M572.5 563.5L554.5 570.5M564.5 571.5L554.5 570.5L561.5 563.5M590.5 563.5L572.5 570.5M582.5 571.5L572.5 570.5L579.5 563.5M608.5 563.5L591.5 570.5M600.5 571.5L591.5 570.5L597.5 563.5M626.5 563.5L609.5 571.5M618.5 571.5L609.5 571.5L615.5 563.5M645.5 563.5L627.5 571.5M636.5 571.5L627.5 571.5L633.5 563.5M663.5 563.5L645.5 570.5M655.5 571.5L645.5 570.5L652.5 563.5M681.5 563.5L663.5 570.5M672.5 570.5L663.5 570.5L670.5 563.5M699.5 563.5L682.5 569.5M691.5 570.5L682.5 569.5L689.5 563.5M717.5 563.5L701.5 569.5M709.5 570.5L701.5 569.5L707.5 563.5M735.5 563.5L719.5 570.5M728.5 570.5L719.5 570.5L725.5 563.5M754.5 563.5L738.5 570.5M747.5 570.5L738.5 570.5L744.5 563.5M772.5 563.5L756.5 570.5M765.5 570.5L756.5 570.5L762.5 564.5M790.5 563.5L775.5 570.5M783.5 570.5L775.5 570.5L780.5 564.5M209.5 581.5L199.5 591.5M205.5 589.5L199.5 591.5L201.5 584.5M227.5 581.5L216.5 592.5M223.5 589.5L216.5 592.5L219.5 585.5M245.5 581.5L234.5 593.5M242.5 590.5L234.5 593.5L237.5 585.5M263.5 581.5L252.5 594.5M260.5 590.5L252.5 594.5L254.5 586.5M281.5 581.5L270.5 594.5M278.5 590.5L270.5 594.5L272.5 586.5M299.5 581.5L287.5 593.5M295.5 590.5L287.5 593.5L290.5 585.5M318.5 581.5L305.5 591.5M313.5 589.5L305.5 591.5L309.5 584.5M336.5 581.5L322.5 590.5M330.5 589.5L322.5 590.5L327.5 583.5M354.5 581.5L341.5 588.5M348.5 588.5L341.5 588.5L345.5 583.5M372.5 581.5L360.5 588.5M367.5 587.5L360.5 588.5L364.5 582.5M390.5 581.5L379.5 587.5M385.5 587.5L379.5 587.5L383.5 582.5M408.5 581.5L397.5 587.5M403.5 587.5L397.5 587.5L401.5 582.5M427.5 581.5L417.5 586.5M422.5 586.5L417.5 586.5L420.5 582.5M445.5 581.5L435.5 586.5M440.5 586.5L435.5 586.5L438.5 582.5M463.5 581.5L453.5 586.5M458.5 586.5L453.5 586.5L456.5 582.5M481.5 581.5L471.5 586.5M477.5 586.5L471.5 586.5L475.5 582.5M499.5 581.5L488.5 586.5M494.5 586.5L488.5 586.5L492.5 582.5M517.5 581.5L505.5 587.5M512.5 587.5L505.5 587.5L509.5 582.5M536.5 581.5L520.5 588.5M529.5 588.5L520.5 588.5L526.5 582.5M554.5 581.5L537.5 588.5M546.5 588.5L537.5 588.5L543.5 582.5M572.5 581.5L556.5 588.5M564.5 589.5L556.5 588.5L562.5 582.5M590.5 581.5L572.5 589.5M582.5 589.5L572.5 589.5L579.5 582.5M608.5 581.5L591.5 589.5M600.5 589.5L591.5 589.5L597.5 582.5M626.5 581.5L609.5 589.5M618.5 589.5L609.5 589.5L615.5 582.5M645.5 581.5L627.5 589.5M636.5 589.5L627.5 589.5L633.5 582.5M663.5 581.5L646.5 588.5M655.5 588.5L646.5 588.5L652.5 581.5M681.5 581.5L666.5 587.5M674.5 587.5L666.5 587.5L672.5 581.5M699.5 581.5L684.5 586.5M692.5 587.5L684.5 586.5L690.5 581.5M717.5 581.5L702.5 587.5M710.5 587.5L702.5 587.5L708.5 581.5M735.5 581.5L721.5 587.5M729.5 588.5L721.5 587.5L726.5 581.5M754.5 581.5L739.5 587.5M747.5 588.5L739.5 587.5L744.5 582.5M772.5 581.5L758.5 587.5M766.5 587.5L758.5 587.5L763.5 582.5M790.5 581.5L777.5 587.5M784.5 587.5L777.5 587.5L781.5 582.5M136.5 599.5L126.5 609.5M133.5 607.5L126.5 609.5L129.5 603.5M154.5 599.5L144.5 609.5M151.5 607.5L144.5 609.5L147.5 603.5M172.5 599.5L162.5 610.5M169.5 607.5L162.5 610.5L164.5 603.5M190.5 599.5L179.5 611.5M187.5 608.5L179.5 611.5L182.5 603.5M209.5 599.5L196.5 612.5M204.5 609.5L196.5 612.5L199.5 604.5M227.5 599.5L215.5 611.5M223.5 608.5L215.5 611.5L218.5 603.5M245.5 599.5L233.5 612.5M241.5 609.5L233.5 612.5L236.5 604.5M263.5 599.5L252.5 612.5M259.5 609.5L252.5 612.5L254.5 604.5M281.5 599.5L270.5 611.5M277.5 608.5L270.5 611.5L272.5 604.5M299.5 599.5L287.5 611.5M295.5 608.5L287.5 611.5L290.5 603.5M318.5 599.5L305.5 608.5M312.5 607.5L305.5 608.5L309.5 602.5M336.5 599.5L322.5 607.5M330.5 607.5L322.5 607.5L327.5 601.5M354.5 599.5L341.5 606.5M348.5 606.5L341.5 606.5L345.5 600.5M372.5 599.5L360.5 606.5M367.5 605.5L360.5 606.5L364.5 600.5M390.5 599.5L379.5 605.5M385.5 605.5L379.5 605.5L383.5 600.5M408.5 599.5L397.5 605.5M403.5 605.5L397.5 605.5L401.5 600.5M427.5 599.5L415.5 605.5M422.5 605.5L415.5 605.5L419.5 600.5M445.5 599.5L435.5 604.5M440.5 604.5L435.5 604.5L438.5 600.5M463.5 599.5L452.5 605.5M458.5 605.5L452.5 605.5L456.5 600.5M481.5 599.5L470.5 605.5M476.5 605.5L470.5 605.5L474.5 600.5M499.5 599.5L487.5 605.5M494.5 605.5L487.5 605.5L491.5 600.5M517.5 599.5L504.5 605.5M511.5 606.5L504.5 605.5L509.5 600.5M536.5 599.5L521.5 606.5M529.5 606.5L521.5 606.5L526.5 600.5M554.5 599.5L539.5 606.5M547.5 606.5L539.5 606.5L544.5 600.5M572.5 599.5L556.5 607.5M565.5 607.5L556.5 607.5L562.5 600.5M590.5 599.5L574.5 607.5M583.5 607.5L574.5 607.5L580.5 600.5M608.5 599.5L592.5 607.5M601.5 607.5L592.5 607.5L598.5 600.5M626.5 599.5L610.5 607.5M619.5 607.5L610.5 607.5L616.5 600.5M645.5 599.5L628.5 606.5M637.5 607.5L628.5 606.5L634.5 600.5M663.5 599.5L646.5 606.5M655.5 607.5L646.5 606.5L652.5 600.5M681.5 599.5L666.5 605.5M674.5 606.5L666.5 605.5L672.5 599.5M699.5 599.5L684.5 605.5M692.5 605.5L684.5 605.5L690.5 599.5M717.5 599.5L703.5 605.5M710.5 606.5L703.5 605.5L708.5 599.5M735.5 599.5L721.5 606.5M729.5 606.5L721.5 606.5L726.5 600.5M754.5 599.5L740.5 606.5M748.5 606.5L740.5 606.5L745.5 600.5M772.5 599.5L758.5 606.5M766.5 606.5L758.5 606.5L763.5 600.5M790.5 599.5L777.5 606.5M784.5 606.5L777.5 606.5L781.5 600.5M27.5 618.5L19.5 629.5M25.5 625.5L19.5 629.5L20.5 622.5M45.5 618.5L34.5 633.5M42.5 628.5L34.5 633.5L36.5 624.5M63.5 618.5L52.5 633.5M60.5 628.5L52.5 633.5L54.5 623.5M81.5 618.5L69.5 632.5M78.5 628.5L69.5 632.5L72.5 623.5M100.5 618.5L87.5 632.5M96.5 628.5L87.5 632.5L90.5 623.5M118.5 618.5L105.5 632.5M114.5 628.5L105.5 632.5L108.5 623.5M136.5 618.5L123.5 631.5M132.5 628.5L123.5 631.5L126.5 622.5M154.5 618.5L140.5 631.5M149.5 628.5L140.5 631.5L144.5 622.5M172.5 618.5L158.5 631.5M167.5 628.5L158.5 631.5L162.5 622.5M190.5 618.5L177.5 631.5M186.5 628.5L177.5 631.5L180.5 622.5M209.5 618.5L196.5 630.5M204.5 627.5L196.5 630.5L199.5 622.5M227.5 618.5L214.5 630.5M223.5 627.5L214.5 630.5L217.5 622.5M245.5 618.5L233.5 630.5M241.5 627.5L233.5 630.5L236.5 622.5M263.5 618.5L251.5 630.5M259.5 627.5L251.5 630.5L254.5 622.5M281.5 618.5L270.5 629.5M277.5 626.5L270.5 629.5L273.5 621.5M299.5 618.5L287.5 628.5M295.5 626.5L287.5 628.5L291.5 621.5M318.5 618.5L304.5 626.5M312.5 625.5L304.5 626.5L309.5 620.5M336.5 618.5L323.5 624.5M330.5 624.5L323.5 624.5L327.5 619.5M354.5 618.5L341.5 624.5M348.5 624.5L341.5 624.5L345.5 618.5M372.5 618.5L360.5 624.5M367.5 624.5L360.5 624.5L364.5 618.5M390.5 618.5L379.5 623.5M385.5 623.5L379.5 623.5L383.5 618.5M408.5 618.5L397.5 623.5M404.5 623.5L397.5 623.5L401.5 618.5M427.5 618.5L415.5 623.5M422.5 623.5L415.5 623.5L419.5 618.5M445.5 618.5L434.5 623.5M440.5 623.5L434.5 623.5L438.5 618.5M463.5 618.5L452.5 623.5M458.5 623.5L452.5 623.5L456.5 618.5M481.5 618.5L470.5 623.5M476.5 623.5L470.5 623.5L474.5 618.5M499.5 618.5L487.5 624.5M494.5 623.5L487.5 624.5L491.5 618.5M517.5 618.5L504.5 624.5M512.5 624.5L504.5 624.5L509.5 618.5M536.5 618.5L521.5 625.5M529.5 624.5L521.5 625.5L526.5 618.5M554.5 618.5L539.5 625.5M547.5 625.5L539.5 625.5L544.5 619.5M572.5 618.5L557.5 625.5M565.5 625.5L557.5 625.5L562.5 619.5M590.5 618.5L574.5 626.5M583.5 625.5L574.5 626.5L580.5 619.5M608.5 618.5L594.5 625.5M602.5 624.5L594.5 625.5L599.5 618.5M626.5 618.5L612.5 624.5M620.5 624.5L612.5 624.5L617.5 618.5M645.5 618.5L630.5 624.5M638.5 624.5L630.5 624.5L635.5 618.5M663.5 618.5L648.5 624.5M656.5 624.5L648.5 624.5L654.5 618.5M681.5 618.5L668.5 624.5M675.5 624.5L668.5 624.5L672.5 618.5M699.5 618.5L686.5 624.5M693.5 624.5L686.5 624.5L691.5 618.5M717.5 618.5L704.5 624.5M712.5 624.5L704.5 624.5L709.5 619.5M735.5 618.5L723.5 625.5M730.5 624.5L723.5 625.5L727.5 619.5M754.5 618.5L741.5 625.5M748.5 624.5L741.5 625.5L745.5 619.5M772.5 618.5L759.5 624.5M766.5 624.5L759.5 624.5L763.5 619.5M790.5 618.5L777.5 624.5M784.5 624.5L777.5 624.5L781.5 618.5M9.5 636.5L0.5 648.5M7.5 644.5L0.5 648.5L2.5 641.5M27.5 636.5L19.5 648.5M25.5 644.5L19.5 648.5L20.5 641.5M45.5 636.5L34.5 651.5M42.5 647.5L34.5 651.5L36.5 642.5M63.5 636.5L52.5 651.5M60.5 647.5L52.5 651.5L54.5 642.5M81.5 636.5L69.5 652.5M78.5 647.5L69.5 652.5L71.5 642.5M100.5 636.5L87.5 652.5M96.5 647.5L87.5 652.5L90.5 642.5M118.5 636.5L105.5 651.5M114.5 647.5L105.5 651.5L108.5 642.5M136.5 636.5L123.5 650.5M132.5 646.5L123.5 650.5L126.5 641.5M154.5 636.5L141.5 649.5M150.5 646.5L141.5 649.5L144.5 640.5M172.5 636.5L158.5 649.5M167.5 646.5L158.5 649.5L162.5 640.5M190.5 636.5L177.5 649.5M186.5 646.5L177.5 649.5L180.5 640.5M209.5 636.5L195.5 649.5M204.5 646.5L195.5 649.5L198.5 640.5M227.5 636.5L214.5 648.5M223.5 645.5L214.5 648.5L217.5 640.5M245.5 636.5L233.5 648.5M241.5 645.5L233.5 648.5L236.5 640.5M263.5 636.5L251.5 648.5M259.5 645.5L251.5 648.5L254.5 640.5M281.5 636.5L270.5 647.5M277.5 644.5L270.5 647.5L273.5 639.5M299.5 636.5L287.5 646.5M295.5 644.5L287.5 646.5L291.5 639.5M318.5 636.5L305.5 645.5M312.5 643.5L305.5 645.5L309.5 638.5M336.5 636.5L323.5 643.5M330.5 642.5L323.5 643.5L327.5 637.5M354.5 636.5L341.5 643.5M348.5 642.5L341.5 643.5L345.5 637.5M372.5 636.5L360.5 642.5M367.5 642.5L360.5 642.5L364.5 637.5M390.5 636.5L379.5 642.5M386.5 641.5L379.5 642.5L383.5 637.5M408.5 636.5L398.5 642.5M404.5 641.5L398.5 642.5L401.5 637.5M427.5 636.5L416.5 642.5M422.5 641.5L416.5 642.5L419.5 637.5M445.5 636.5L434.5 641.5M440.5 641.5L434.5 641.5L438.5 637.5M463.5 636.5L452.5 641.5M458.5 641.5L452.5 641.5L456.5 637.5M481.5 636.5L470.5 641.5M476.5 641.5L470.5 641.5L474.5 637.5M499.5 636.5L488.5 641.5M494.5 641.5L488.5 641.5L492.5 637.5M517.5 636.5L505.5 642.5M512.5 642.5L505.5 642.5L510.5 637.5M536.5 636.5L523.5 643.5M530.5 642.5L523.5 643.5L527.5 637.5M554.5 636.5L540.5 644.5M548.5 643.5L540.5 644.5L545.5 637.5M572.5 636.5L558.5 644.5M566.5 643.5L558.5 644.5L562.5 637.5M590.5 636.5L576.5 644.5M584.5 643.5L576.5 644.5L580.5 637.5M608.5 636.5L595.5 643.5M603.5 642.5L595.5 643.5L600.5 637.5M626.5 636.5L613.5 643.5M621.5 642.5L613.5 643.5L618.5 637.5M645.5 636.5L632.5 643.5M639.5 642.5L632.5 643.5L636.5 637.5M663.5 636.5L650.5 643.5M657.5 642.5L650.5 643.5L654.5 637.5M681.5 636.5L668.5 643.5M675.5 642.5L668.5 643.5L672.5 637.5M699.5 636.5L687.5 644.5M694.5 643.5L687.5 644.5L691.5 638.5M717.5 636.5L705.5 644.5M712.5 643.5L705.5 644.5L709.5 638.5M735.5 636.5L723.5 644.5M730.5 643.5L723.5 644.5L727.5 638.5M754.5 636.5L742.5 643.5M749.5 642.5L742.5 643.5L746.5 637.5M772.5 636.5L760.5 643.5M767.5 642.5L760.5 643.5L764.5 637.5M790.5 636.5L778.5 642.5M785.5 642.5L778.5 642.5L782.5 637.5M9.5 654.5L0.5 666.5M7.5 662.5L0.5 666.5L2.5 659.5M27.5 654.5L18.5 667.5M25.5 663.5L18.5 667.5L19.5 659.5M45.5 654.5L34.5 669.5M42.5 665.5L34.5 669.5L36.5 660.5M63.5 654.5L52.5 669.5M60.5 665.5L52.5 669.5L54.5 660.5M81.5 654.5L69.5 671.5M78.5 666.5L69.5 671.5L71.5 661.5M100.5 654.5L87.5 671.5M97.5 666.5L87.5 671.5L89.5 661.5M118.5 654.5L106.5 671.5M115.5 666.5L106.5 671.5L108.5 661.5M136.5 654.5L124.5 670.5M133.5 665.5L124.5 670.5L126.5 660.5M154.5 654.5L142.5 668.5M150.5 664.5L142.5 668.5L144.5 659.5M172.5 654.5L159.5 668.5M168.5 664.5L159.5 668.5L162.5 659.5M190.5 654.5L177.5 668.5M186.5 664.5L177.5 668.5L180.5 659.5M209.5 654.5L195.5 668.5M204.5 664.5L195.5 668.5L198.5 659.5M227.5 654.5L215.5 667.5M223.5 664.5L215.5 667.5L217.5 659.5M245.5 654.5L234.5 666.5M241.5 663.5L234.5 666.5L236.5 658.5M263.5 654.5L252.5 666.5M259.5 663.5L252.5 666.5L254.5 658.5M281.5 654.5L270.5 665.5M277.5 662.5L270.5 665.5L273.5 658.5M299.5 654.5L288.5 664.5M295.5 662.5L288.5 664.5L291.5 657.5M318.5 654.5L306.5 663.5M313.5 661.5L306.5 663.5L309.5 657.5M336.5 654.5L324.5 663.5M331.5 661.5L324.5 663.5L327.5 656.5M354.5 654.5L342.5 662.5M349.5 661.5L342.5 662.5L346.5 656.5M372.5 654.5L361.5 661.5M367.5 660.5L361.5 661.5L364.5 655.5M390.5 654.5L380.5 660.5M386.5 660.5L380.5 660.5L383.5 655.5M408.5 654.5L398.5 660.5M404.5 660.5L398.5 660.5L401.5 655.5M427.5 654.5L416.5 660.5M422.5 660.5L416.5 660.5L419.5 655.5M445.5 654.5L434.5 660.5M440.5 660.5L434.5 660.5L438.5 655.5M463.5 654.5L452.5 660.5M458.5 660.5L452.5 660.5L456.5 655.5M481.5 654.5L470.5 660.5M476.5 660.5L470.5 660.5L474.5 655.5M499.5 654.5L489.5 660.5M495.5 660.5L489.5 660.5L492.5 655.5M517.5 654.5L507.5 660.5M513.5 660.5L507.5 660.5L510.5 655.5M536.5 654.5L524.5 661.5M531.5 660.5L524.5 661.5L528.5 656.5M554.5 654.5L542.5 662.5M549.5 661.5L542.5 662.5L545.5 656.5M572.5 654.5L559.5 663.5M567.5 662.5L559.5 663.5L563.5 656.5M590.5 654.5L577.5 663.5M585.5 662.5L577.5 663.5L581.5 656.5M608.5 654.5L596.5 662.5M603.5 661.5L596.5 662.5L600.5 656.5M626.5 654.5L614.5 661.5M621.5 661.5L614.5 661.5L618.5 655.5M645.5 654.5L632.5 661.5M639.5 661.5L632.5 661.5L636.5 655.5M663.5 654.5L650.5 661.5M657.5 661.5L650.5 661.5L654.5 655.5M681.5 654.5L669.5 662.5M676.5 661.5L669.5 662.5L672.5 656.5M699.5 654.5L687.5 662.5M694.5 661.5L687.5 662.5L691.5 656.5M717.5 654.5L705.5 662.5M712.5 661.5L705.5 662.5L709.5 656.5M735.5 654.5L723.5 662.5M731.5 661.5L723.5 662.5L727.5 656.5M754.5 654.5L742.5 661.5M749.5 660.5L742.5 661.5L746.5 656.5M772.5 654.5L760.5 661.5M767.5 660.5L760.5 661.5L764.5 655.5M790.5 654.5L778.5 661.5M785.5 660.5L778.5 661.5L782.5 655.5M9.5 672.5L-0.5 687.5M6.5 682.5L-0.5 687.5L0.5 678.5M27.5 672.5L16.5 688.5M24.5 683.5L16.5 688.5L18.5 678.5M45.5 672.5L34.5 688.5M42.5 683.5L34.5 688.5L36.5 678.5M63.5 672.5L52.5 688.5M60.5 683.5L52.5 688.5L54.5 678.5M81.5 672.5L69.5 690.5M78.5 684.5L69.5 690.5L71.5 679.5M100.5 672.5L87.5 690.5M96.5 684.5L87.5 690.5L89.5 679.5M118.5 672.5L105.5 690.5M115.5 684.5L105.5 690.5L107.5 679.5M136.5 672.5L124.5 689.5M133.5 684.5L124.5 689.5L126.5 679.5M154.5 672.5L142.5 688.5M151.5 683.5L142.5 688.5L144.5 678.5M172.5 672.5L160.5 687.5M168.5 683.5L160.5 687.5L162.5 677.5M190.5 672.5L178.5 686.5M187.5 683.5L178.5 686.5L180.5 677.5M209.5 672.5L196.5 687.5M205.5 683.5L196.5 687.5L199.5 677.5M227.5 672.5L215.5 686.5M223.5 682.5L215.5 686.5L218.5 677.5M245.5 672.5L234.5 685.5M242.5 681.5L234.5 685.5L236.5 677.5M263.5 672.5L253.5 684.5M260.5 681.5L253.5 684.5L255.5 677.5M281.5 672.5L270.5 683.5M278.5 681.5L270.5 683.5L273.5 676.5M299.5 672.5L288.5 683.5M295.5 680.5L288.5 683.5L291.5 676.5M318.5 672.5L307.5 682.5M314.5 680.5L307.5 682.5L310.5 675.5M336.5 672.5L325.5 682.5M332.5 680.5L325.5 682.5L328.5 675.5M354.5 672.5L343.5 681.5M350.5 679.5L343.5 681.5L346.5 675.5M372.5 672.5L361.5 680.5M368.5 679.5L361.5 680.5L364.5 674.5M390.5 672.5L380.5 679.5M386.5 678.5L380.5 679.5L383.5 674.5M408.5 672.5L398.5 679.5M404.5 678.5L398.5 679.5L401.5 674.5M427.5 672.5L416.5 679.5M422.5 678.5L416.5 679.5L420.5 674.5M445.5 672.5L434.5 679.5M440.5 678.5L434.5 679.5L438.5 674.5M463.5 672.5L452.5 679.5M459.5 678.5L452.5 679.5L456.5 673.5M481.5 672.5L472.5 678.5M477.5 677.5L472.5 678.5L475.5 673.5M499.5 672.5L490.5 678.5M495.5 677.5L490.5 678.5L493.5 673.5M517.5 672.5L508.5 678.5M514.5 677.5L508.5 678.5L511.5 674.5M536.5 672.5L526.5 679.5M532.5 678.5L526.5 679.5L529.5 674.5M554.5 672.5L543.5 681.5M550.5 679.5L543.5 681.5L546.5 675.5M572.5 672.5L561.5 681.5M568.5 680.5L561.5 681.5L564.5 675.5M590.5 672.5L578.5 682.5M585.5 680.5L578.5 682.5L581.5 675.5M608.5 672.5L597.5 680.5M604.5 679.5L597.5 680.5L601.5 674.5M626.5 672.5L615.5 680.5M622.5 679.5L615.5 680.5L619.5 674.5M645.5 672.5L633.5 679.5M640.5 679.5L633.5 679.5L637.5 674.5M663.5 672.5L651.5 679.5M658.5 679.5L651.5 679.5L655.5 674.5M681.5 672.5L670.5 680.5M676.5 679.5L670.5 680.5L673.5 674.5M699.5 672.5L688.5 680.5M695.5 679.5L688.5 680.5L691.5 674.5M717.5 672.5L706.5 680.5M713.5 679.5L706.5 680.5L709.5 674.5M735.5 672.5L724.5 680.5M731.5 679.5L724.5 680.5L728.5 674.5M754.5 672.5L743.5 679.5M749.5 678.5L743.5 679.5L746.5 674.5M772.5 672.5L761.5 679.5M767.5 678.5L761.5 679.5L765.5 674.5M790.5 672.5L779.5 679.5M785.5 678.5L779.5 679.5L783.5 673.5M9.5 690.5L-2.5 707.5M6.5 702.5L-2.5 707.5L-0.5 697.5M27.5 690.5L15.5 708.5M24.5 703.5L15.5 708.5L16.5 697.5M45.5 690.5L34.5 706.5M42.5 701.5L34.5 706.5L36.5 697.5M63.5 690.5L52.5 706.5M60.5 701.5L52.5 706.5L54.5 696.5M81.5 690.5L69.5 708.5M78.5 703.5L69.5 708.5L71.5 697.5M100.5 690.5L87.5 708.5M96.5 703.5L87.5 708.5L89.5 697.5M118.5 690.5L105.5 708.5M115.5 703.5L105.5 708.5L107.5 697.5M136.5 690.5L124.5 707.5M133.5 702.5L124.5 707.5L126.5 697.5M154.5 690.5L142.5 706.5M151.5 701.5L142.5 706.5L144.5 696.5M172.5 690.5L160.5 705.5M169.5 701.5L160.5 705.5L163.5 696.5M190.5 690.5L178.5 705.5M187.5 701.5L178.5 705.5L181.5 696.5M209.5 690.5L196.5 705.5M205.5 701.5L196.5 705.5L199.5 696.5M227.5 690.5L216.5 704.5M224.5 700.5L216.5 704.5L218.5 695.5M245.5 690.5L234.5 703.5M242.5 700.5L234.5 703.5L236.5 695.5M263.5 690.5L252.5 703.5M260.5 700.5L252.5 703.5L255.5 695.5M281.5 690.5L270.5 702.5M278.5 699.5L270.5 702.5L273.5 694.5M299.5 690.5L288.5 701.5M295.5 699.5L288.5 701.5L291.5 694.5M318.5 690.5L306.5 701.5M313.5 699.5L306.5 701.5L309.5 694.5M336.5 690.5L325.5 700.5M332.5 698.5L325.5 700.5L328.5 693.5M354.5 690.5L344.5 699.5M350.5 697.5L344.5 699.5L346.5 693.5M372.5 690.5L362.5 699.5M368.5 697.5L362.5 699.5L365.5 693.5M390.5 690.5L381.5 698.5M387.5 697.5L381.5 698.5L383.5 692.5M408.5 690.5L399.5 698.5M405.5 696.5L399.5 698.5L401.5 692.5M427.5 690.5L417.5 698.5M423.5 696.5L417.5 698.5L420.5 692.5M445.5 690.5L435.5 697.5M441.5 696.5L435.5 697.5L438.5 692.5M463.5 690.5L453.5 697.5M459.5 696.5L453.5 697.5L456.5 692.5M481.5 690.5L472.5 696.5M477.5 696.5L472.5 696.5L475.5 692.5M499.5 690.5L490.5 697.5M496.5 696.5L490.5 697.5L493.5 692.5M517.5 690.5L507.5 698.5M514.5 696.5L507.5 698.5L510.5 692.5M536.5 690.5L526.5 698.5M532.5 697.5L526.5 698.5L529.5 693.5M554.5 690.5L544.5 698.5M550.5 697.5L544.5 698.5L547.5 693.5M572.5 690.5L562.5 699.5M568.5 697.5L562.5 699.5L564.5 693.5M590.5 690.5L579.5 700.5M586.5 698.5L579.5 700.5L582.5 693.5M608.5 690.5L598.5 699.5M604.5 697.5L598.5 699.5L601.5 693.5M626.5 690.5L615.5 698.5M622.5 697.5L615.5 698.5L619.5 692.5M645.5 690.5L633.5 698.5M640.5 697.5L633.5 698.5L637.5 692.5M663.5 690.5L651.5 698.5M658.5 697.5L651.5 698.5L655.5 692.5M681.5 690.5L670.5 698.5M676.5 697.5L670.5 698.5L673.5 692.5M699.5 690.5L688.5 698.5M695.5 697.5L688.5 698.5L691.5 692.5M717.5 690.5L706.5 698.5M713.5 697.5L706.5 698.5L710.5 692.5M735.5 690.5L725.5 697.5M731.5 696.5L725.5 697.5L728.5 692.5M754.5 690.5L743.5 697.5M749.5 696.5L743.5 697.5L747.5 692.5M772.5 690.5L761.5 697.5M768.5 696.5L761.5 697.5L765.5 692.5M790.5 690.5L779.5 697.5M786.5 696.5L779.5 697.5L783.5 692.5M9.5 708.5L-3.5 728.5M6.5 722.5L-3.5 728.5L-1.5 716.5M27.5 708.5L14.5 728.5M24.5 722.5L14.5 728.5L16.5 716.5M45.5 708.5L34.5 724.5M42.5 719.5L34.5 724.5L36.5 715.5M63.5 708.5L52.5 724.5M60.5 719.5L52.5 724.5L54.5 715.5M81.5 708.5L69.5 726.5M78.5 721.5L69.5 726.5L71.5 715.5M100.5 708.5L87.5 726.5M96.5 721.5L87.5 726.5L89.5 715.5M118.5 708.5L105.5 726.5M114.5 721.5L105.5 726.5L107.5 715.5M136.5 708.5L123.5 725.5M133.5 720.5L123.5 725.5L126.5 715.5M154.5 708.5L141.5 725.5M151.5 720.5L141.5 725.5L144.5 715.5M172.5 708.5L160.5 724.5M169.5 720.5L160.5 724.5L162.5 714.5M190.5 708.5L179.5 723.5M187.5 719.5L179.5 723.5L181.5 714.5M209.5 708.5L197.5 723.5M205.5 719.5L197.5 723.5L199.5 714.5M227.5 708.5L215.5 722.5M223.5 718.5L215.5 722.5L218.5 714.5M245.5 708.5L234.5 721.5M242.5 718.5L234.5 721.5L236.5 713.5M263.5 708.5L252.5 721.5M260.5 718.5L252.5 721.5L255.5 713.5M281.5 708.5L271.5 720.5M278.5 717.5L271.5 720.5L273.5 713.5M299.5 708.5L289.5 720.5M296.5 717.5L289.5 720.5L291.5 712.5M318.5 708.5L307.5 719.5M314.5 716.5L307.5 719.5L310.5 712.5M336.5 708.5L326.5 718.5M332.5 716.5L326.5 718.5L328.5 711.5M354.5 708.5L344.5 718.5M350.5 716.5L344.5 718.5L347.5 711.5M372.5 708.5L363.5 717.5M369.5 715.5L363.5 717.5L365.5 711.5M390.5 708.5L381.5 716.5M387.5 715.5L381.5 716.5L383.5 711.5M408.5 708.5L399.5 716.5M405.5 715.5L399.5 716.5L402.5 711.5M427.5 708.5L417.5 716.5M423.5 715.5L417.5 716.5L420.5 711.5M445.5 708.5L435.5 716.5M441.5 715.5L435.5 716.5L438.5 711.5M463.5 708.5L453.5 716.5M459.5 715.5L453.5 716.5L456.5 710.5M481.5 708.5L471.5 716.5M477.5 715.5L471.5 716.5L474.5 710.5M499.5 708.5L489.5 716.5M495.5 715.5L489.5 716.5L492.5 710.5M517.5 708.5L508.5 716.5M514.5 715.5L508.5 716.5L510.5 711.5M536.5 708.5L526.5 716.5M532.5 715.5L526.5 716.5L529.5 711.5M554.5 708.5L544.5 717.5M550.5 715.5L544.5 717.5L547.5 711.5M572.5 708.5L562.5 717.5M568.5 716.5L562.5 717.5L564.5 711.5M590.5 708.5L579.5 718.5M586.5 716.5L579.5 718.5L582.5 711.5M608.5 708.5L598.5 717.5M604.5 715.5L598.5 717.5L601.5 711.5M626.5 708.5L616.5 717.5M622.5 715.5L616.5 717.5L619.5 711.5M645.5 708.5L634.5 716.5M640.5 715.5L634.5 716.5L637.5 710.5M663.5 708.5L653.5 716.5M659.5 715.5L653.5 716.5L656.5 710.5M681.5 708.5L671.5 716.5M677.5 715.5L671.5 716.5L674.5 710.5M699.5 708.5L689.5 716.5M695.5 715.5L689.5 716.5L692.5 711.5M717.5 708.5L708.5 716.5M714.5 715.5L708.5 716.5L710.5 711.5M735.5 708.5L726.5 716.5M732.5 715.5L726.5 716.5L728.5 711.5M754.5 708.5L744.5 716.5M750.5 715.5L744.5 716.5L747.5 711.5M772.5 708.5L762.5 716.5M768.5 715.5L762.5 716.5L765.5 710.5M790.5 708.5L780.5 715.5M786.5 714.5L780.5 715.5L783.5 710.5M9.5 727.5L-4.5 747.5M5.5 740.5L-4.5 747.5L-2.5 735.5M27.5 727.5L13.5 747.5M24.5 740.5L13.5 747.5L15.5 735.5M45.5 727.5L34.5 742.5M42.5 738.5L34.5 742.5L36.5 733.5M63.5 727.5L52.5 742.5M60.5 737.5L52.5 742.5L54.5 733.5M81.5 727.5L68.5 744.5M78.5 739.5L68.5 744.5L71.5 733.5M100.5 727.5L87.5 744.5M96.5 739.5L87.5 744.5L89.5 733.5M118.5 727.5L105.5 744.5M114.5 739.5L105.5 744.5L107.5 733.5M136.5 727.5L123.5 743.5M133.5 738.5L123.5 743.5L126.5 733.5M154.5 727.5L141.5 743.5M151.5 738.5L141.5 743.5L144.5 733.5M172.5 727.5L160.5 742.5M169.5 738.5L160.5 742.5L162.5 733.5M190.5 727.5L179.5 742.5M187.5 737.5L179.5 742.5L181.5 732.5M209.5 727.5L197.5 742.5M205.5 737.5L197.5 742.5L199.5 732.5M227.5 727.5L215.5 740.5M223.5 737.5L215.5 740.5L218.5 732.5M245.5 727.5L233.5 740.5M241.5 736.5L233.5 740.5L236.5 732.5M263.5 727.5L252.5 739.5M260.5 736.5L252.5 739.5L254.5 731.5M281.5 727.5L270.5 739.5M278.5 736.5L270.5 739.5L273.5 731.5M299.5 727.5L290.5 738.5M296.5 735.5L290.5 738.5L292.5 731.5M318.5 727.5L308.5 737.5M315.5 734.5L308.5 737.5L310.5 730.5M336.5 727.5L326.5 736.5M333.5 734.5L326.5 736.5L328.5 730.5M354.5 727.5L344.5 736.5M350.5 734.5L344.5 736.5L347.5 730.5M372.5 727.5L363.5 735.5M369.5 733.5L363.5 735.5L365.5 729.5M390.5 727.5L381.5 735.5M387.5 733.5L381.5 735.5L383.5 729.5M408.5 727.5L399.5 735.5M405.5 733.5L399.5 735.5L402.5 729.5M427.5 727.5L417.5 735.5M423.5 733.5L417.5 735.5L420.5 729.5M445.5 727.5L435.5 735.5M441.5 733.5L435.5 735.5L438.5 729.5M463.5 727.5L453.5 734.5M459.5 733.5L453.5 734.5L456.5 729.5M481.5 727.5L471.5 734.5M477.5 733.5L471.5 734.5L474.5 729.5M499.5 727.5L489.5 734.5M495.5 733.5L489.5 734.5L492.5 729.5M517.5 727.5L508.5 734.5M514.5 733.5L508.5 734.5L510.5 729.5M536.5 727.5L526.5 735.5M532.5 733.5L526.5 735.5L529.5 729.5M554.5 727.5L544.5 735.5M550.5 733.5L544.5 735.5L547.5 729.5M572.5 727.5L562.5 736.5M568.5 734.5L562.5 736.5L564.5 729.5M590.5 727.5L580.5 735.5M586.5 734.5L580.5 735.5L583.5 729.5M608.5 727.5L599.5 735.5M605.5 733.5L599.5 735.5L601.5 729.5M626.5 727.5L617.5 734.5M623.5 733.5L617.5 734.5L619.5 729.5M645.5 727.5L635.5 734.5M641.5 733.5L635.5 734.5L638.5 729.5M663.5 727.5L653.5 734.5M659.5 733.5L653.5 734.5L656.5 729.5M681.5 727.5L671.5 735.5M677.5 733.5L671.5 735.5L674.5 729.5M699.5 727.5L690.5 735.5M696.5 733.5L690.5 735.5L692.5 729.5M717.5 727.5L708.5 735.5M714.5 733.5L708.5 735.5L710.5 729.5M735.5 727.5L726.5 735.5M732.5 733.5L726.5 735.5L729.5 729.5M754.5 727.5L744.5 735.5M750.5 733.5L744.5 735.5L747.5 729.5M772.5 727.5L763.5 733.5M768.5 732.5L763.5 733.5L766.5 729.5M790.5 727.5L781.5 733.5M786.5 732.5L781.5 733.5L784.5 728.5M9.5 745.5L-4.5 764.5M5.5 758.5L-4.5 764.5L-2.5 752.5M27.5 745.5L14.5 764.5M24.5 758.5L14.5 764.5L16.5 752.5M45.5 745.5L34.5 760.5M42.5 756.5L34.5 760.5L36.5 751.5M63.5 745.5L52.5 760.5M60.5 756.5L52.5 760.5L54.5 751.5M81.5 745.5L68.5 762.5M78.5 757.5L68.5 762.5L71.5 752.5M100.5 745.5L87.5 762.5M96.5 757.5L87.5 762.5L89.5 752.5M118.5 745.5L105.5 762.5M114.5 757.5L105.5 762.5L107.5 752.5M136.5 745.5L123.5 762.5M132.5 757.5L123.5 762.5L125.5 751.5M154.5 745.5L141.5 761.5M151.5 756.5L141.5 761.5L144.5 751.5M172.5 745.5L160.5 760.5M169.5 756.5L160.5 760.5L162.5 751.5M190.5 745.5L179.5 760.5M187.5 756.5L179.5 760.5L181.5 751.5M209.5 745.5L197.5 760.5M205.5 755.5L197.5 760.5L199.5 750.5M227.5 745.5L215.5 758.5M223.5 755.5L215.5 758.5L218.5 750.5M245.5 745.5L233.5 758.5M241.5 755.5L233.5 758.5L236.5 750.5M263.5 745.5L252.5 757.5M260.5 754.5L252.5 757.5L254.5 749.5M281.5 745.5L270.5 757.5M278.5 754.5L270.5 757.5L273.5 749.5M299.5 745.5L290.5 756.5M296.5 753.5L290.5 756.5L292.5 749.5M318.5 745.5L308.5 756.5M314.5 753.5L308.5 756.5L310.5 749.5M336.5 745.5L326.5 754.5M333.5 752.5L326.5 754.5L329.5 748.5M354.5 745.5L344.5 754.5M350.5 752.5L344.5 754.5L347.5 748.5M372.5 745.5L363.5 753.5M369.5 751.5L363.5 753.5L365.5 747.5M390.5 745.5L381.5 753.5M387.5 751.5L381.5 753.5L383.5 747.5M408.5 745.5L398.5 754.5M405.5 752.5L398.5 754.5L401.5 748.5M427.5 745.5L416.5 754.5M423.5 752.5L416.5 754.5L419.5 748.5M445.5 745.5L435.5 753.5M441.5 751.5L435.5 753.5L438.5 747.5M463.5 745.5L453.5 753.5M459.5 751.5L453.5 753.5L456.5 747.5M481.5 745.5L471.5 752.5M477.5 751.5L471.5 752.5L474.5 747.5M499.5 745.5L489.5 752.5M495.5 751.5L489.5 752.5L492.5 747.5M517.5 745.5L508.5 752.5M514.5 751.5L508.5 752.5L510.5 747.5M536.5 745.5L526.5 753.5M532.5 751.5L526.5 753.5L529.5 747.5M554.5 745.5L544.5 753.5M550.5 751.5L544.5 753.5L547.5 747.5M572.5 745.5L562.5 753.5M568.5 751.5L562.5 753.5L565.5 747.5M590.5 745.5L580.5 754.5M586.5 752.5L580.5 754.5L583.5 747.5M608.5 745.5L599.5 753.5M605.5 751.5L599.5 753.5L601.5 747.5M626.5 745.5L617.5 752.5M623.5 751.5L617.5 752.5L619.5 747.5M645.5 745.5L635.5 752.5M641.5 751.5L635.5 752.5L638.5 747.5M663.5 745.5L653.5 753.5M659.5 751.5L653.5 753.5L656.5 747.5M681.5 745.5L672.5 753.5M678.5 751.5L672.5 753.5L674.5 747.5M699.5 745.5L690.5 753.5M696.5 751.5L690.5 753.5L692.5 747.5M717.5 745.5L708.5 753.5M714.5 751.5L708.5 753.5L711.5 747.5M735.5 745.5L727.5 752.5M733.5 751.5L727.5 752.5L729.5 747.5M754.5 745.5L745.5 752.5M751.5 751.5L745.5 752.5L748.5 747.5M772.5 745.5L763.5 752.5M769.5 750.5L763.5 752.5L766.5 747.5M790.5 745.5L781.5 751.5M786.5 750.5L781.5 751.5L784.5 747.5M9.5 763.5L-2.5 780.5M6.5 775.5L-2.5 780.5L-0.5 770.5M27.5 763.5L14.5 781.5M24.5 776.5L14.5 781.5L16.5 770.5M45.5 763.5L34.5 778.5M42.5 774.5L34.5 778.5L36.5 769.5M63.5 763.5L52.5 778.5M60.5 774.5L52.5 778.5L54.5 769.5M81.5 763.5L68.5 780.5M78.5 775.5L68.5 780.5L71.5 770.5M100.5 763.5L87.5 780.5M96.5 775.5L87.5 780.5L89.5 770.5M118.5 763.5L105.5 780.5M114.5 775.5L105.5 780.5L107.5 770.5M136.5 763.5L123.5 780.5M132.5 775.5L123.5 780.5L125.5 770.5M154.5 763.5L141.5 779.5M150.5 775.5L141.5 779.5L144.5 769.5M172.5 763.5L160.5 778.5M169.5 774.5L160.5 778.5L162.5 769.5M190.5 763.5L178.5 778.5M187.5 774.5L178.5 778.5L180.5 769.5M209.5 763.5L197.5 778.5M205.5 774.5L197.5 778.5L199.5 769.5M227.5 763.5L215.5 777.5M223.5 773.5L215.5 777.5L218.5 768.5M245.5 763.5L233.5 776.5M241.5 773.5L233.5 776.5L236.5 768.5M263.5 763.5L252.5 775.5M260.5 772.5L252.5 775.5L254.5 767.5M281.5 763.5L270.5 775.5M278.5 772.5L270.5 775.5L272.5 767.5M299.5 763.5L289.5 774.5M296.5 771.5L289.5 774.5L292.5 767.5M318.5 763.5L307.5 774.5M314.5 771.5L307.5 774.5L310.5 767.5M336.5 763.5L326.5 772.5M332.5 770.5L326.5 772.5L328.5 766.5M354.5 763.5L344.5 772.5M350.5 770.5L344.5 772.5L347.5 766.5M372.5 763.5L363.5 771.5M369.5 769.5L363.5 771.5L365.5 766.5M390.5 763.5L381.5 771.5M387.5 769.5L381.5 771.5L383.5 765.5M408.5 763.5L398.5 772.5M405.5 770.5L398.5 772.5L401.5 766.5M427.5 763.5L416.5 772.5M423.5 770.5L416.5 772.5L419.5 766.5M445.5 763.5L435.5 771.5M441.5 769.5L435.5 771.5L438.5 765.5M463.5 763.5L453.5 771.5M459.5 769.5L453.5 771.5L456.5 765.5M481.5 763.5L471.5 771.5M477.5 769.5L471.5 771.5L474.5 765.5M499.5 763.5L489.5 770.5M495.5 769.5L489.5 770.5L492.5 765.5M517.5 763.5L508.5 770.5M514.5 769.5L508.5 770.5L510.5 765.5M536.5 763.5L526.5 771.5M532.5 769.5L526.5 771.5L529.5 765.5M554.5 763.5L544.5 771.5M550.5 769.5L544.5 771.5L547.5 765.5M572.5 763.5L562.5 771.5M568.5 769.5L562.5 771.5L565.5 765.5M590.5 763.5L579.5 771.5M586.5 770.5L579.5 771.5L582.5 765.5M608.5 763.5L598.5 771.5M605.5 769.5L598.5 771.5L601.5 765.5M626.5 763.5L617.5 770.5M623.5 769.5L617.5 770.5L619.5 765.5M645.5 763.5L635.5 770.5M641.5 769.5L635.5 770.5L638.5 765.5M663.5 763.5L653.5 771.5M659.5 769.5L653.5 771.5L656.5 765.5M681.5 763.5L673.5 770.5M678.5 769.5L673.5 770.5L675.5 765.5M699.5 763.5L691.5 770.5M696.5 769.5L691.5 770.5L693.5 765.5M717.5 763.5L709.5 770.5M714.5 769.5L709.5 770.5L711.5 765.5M735.5 763.5L727.5 770.5M733.5 769.5L727.5 770.5L729.5 765.5M754.5 763.5L745.5 770.5M751.5 769.5L745.5 770.5L748.5 765.5M772.5 763.5L764.5 769.5M769.5 768.5L764.5 769.5L766.5 765.5M790.5 763.5L782.5 769.5M787.5 768.5L782.5 769.5L784.5 765.5" stroke="#fff" stroke-width="1" fill="none" shape-rendering="crispEdges"/>
<g shape-rendering="crispEdges"><rect x="9" y="27" width="1" height="745" fill="#808080"/><rect x="81" y="27" width="1" height="745" fill="#808080"/><rect x="154" y="27" width="1" height="745" fill="#808080"/><rect x="227" y="27" width="1" height="745" fill="#808080"/><rect x="299" y="27" width="1" height="745" fill="#808080"/><rect x="372" y="27" width="1" height="745" fill="#808080"/><rect x="445" y="27" width="1" height="745" fill="#808080"/><rect x="518" y="27" width="1" height="745" fill="#808080"/><rect x="590" y="27" width="1" height="745" fill="#808080"/><rect x="663" y="27" width="1" height="745" fill="#808080"/><rect x="736" y="27" width="1" height="745" fill="#808080"/><rect x="0" y="36" width="800" height="1" fill="#808080"/><rect x="0" y="109" width="800" height="1" fill="#808080"/><rect x="0" y="181" width="800" height="1" fill="#808080"/><rect x="0" y="254" width="800" height="1" fill="#808080"/><rect x="0" y="327" width="800" height="1" fill="#808080"/><rect x="0" y="400" width="800" height="1" fill="#808080"/><rect x="0" y="472" width="800" height="1" fill="#808080"/><rect x="0" y="545" width="800" height="1" fill="#808080"/><rect x="0" y="618" width="800" height="1" fill="#808080"/><rect x="0" y="690" width="800" height="1" fill="#808080"/><rect x="0" y="763" width="800" height="1" fill="#808080"/></g>
<g fill="none" stroke="#000" stroke-width="1" shape-rendering="crispEdges"><polyline points="241.5,28.5 233.5,30.5 235.5,45.5 231.5,55.5 225.5,62.5 222.5,67.5 225.5,72.5 227.5,76.5 228.5,82.5 226.5,92.5 222.5,95.5 213.5,99.5 212.5,101.5 216.5,105.5 217.5,114.5 213.5,120.5 220.5,130.5 212.5,142.5 211.5,145.5 211.5,156.5 213.5,168.5 217.5,175.5 215.5,180.5 215.5,186.5 213.5,188.5 204.5,189.5 196.5,189.5 197.5,193.5 197.5,201.5 192.5,207.5 189.5,213.5 187.5,225.5 187.5,236.5 193.5,243.5 195.5,253.5 198.5,256.5 199.5,267.5 195.5,273.5 185.5,275.5 193.5,280.5 190.5,286.5 193.5,292.5 200.5,296.5 214.5,308.5 220.5,310.5 230.5,312.5 240.5,317.5 256.5,326.5 268.5,332.5 280.5,342.5 289.5,352.5 290.5,360.5 280.5,372.5 273.5,379.5 271.5,388.5 273.5,398.5 280.5,410.5 291.5,420.5 300.5,424.5 303.5,427.5 306.5,426.5 316.5,423.5 318.5,422.5 319.5,425.5 321.5,430.5 322.5,440.5 324.5,450.5 325.5,464.5 317.5,474.5 310.5,482.5 300.5,496.5 295.5,503.5 288.5,512.5 277.5,519.5 266.5,529.5 262.5,534.5 261.5,543.5 261.5,549.5 259.5,554.5 249.5,559.5 240.5,565.5 230.5,570.5 226.5,572.5 218.5,576.5 202.5,581.5 186.5,586.5 170.5,589.5 154.5,593.5 151.5,595.5 112.5,602.5 97.5,606.5 81.5,607.5 31.5,614.5 10.5,616.5 0.5,618.5"/><polyline points="212.5,142.5 216.5,156.5 218.5,168.5 223.5,173.5 223.5,178.5 221.5,184.5 216.5,189.5 206.5,189.5 201.5,190.5 201.5,198.5 202.5,205.5 196.5,210.5 199.5,213.5 196.5,220.5 196.5,228.5 195.5,241.5 197.5,248.5 205.5,253.5 211.5,262.5 213.5,266.5 220.5,267.5 226.5,273.5 234.5,281.5 236.5,287.5 240.5,288.5 252.5,286.5 272.5,284.5 287.5,287.5 295.5,291.5 307.5,301.5 325.5,307.5 342.5,312.5 343.5,317.5 350.5,319.5 360.5,322.5 372.5,316.5 380.5,312.5 400.5,310.5 420.5,313.5 425.5,318.5 437.5,319.5 445.5,321.5 448.5,326.5 475.5,316.5 491.5,308.5 495.5,299.5 500.5,303.5 509.5,296.5 525.5,287.5 535.5,283.5 534.5,276.5 538.5,269.5 549.5,259.5 552.5,247.5 561.5,235.5 583.5,220.5 601.5,204.5 619.5,186.5 641.5,135.5 658.5,119.5 675.5,100.5 692.5,87.5 712.5,74.5 735.5,60.5 750.5,47.5 765.5,28.5"/><polyline points="375.5,41.5 384.5,40.5 390.5,34.5 397.5,31.5 405.5,28.5"/><polyline points="397.5,31.5 420.5,41.5 426.5,52.5 438.5,59.5 458.5,67.5 465.5,68.5 478.5,75.5 487.5,86.5 508.5,101.5 525.5,112.5 544.5,130.5 544.5,133.5 552.5,142.5 561.5,150.5 570.5,152.5 576.5,155.5 583.5,162.5 579.5,166.5 570.5,172.5 567.5,178.5 564.5,181.5 556.5,185.5 552.5,192.5 552.5,204.5 553.5,215.5 552.5,229.5 556.5,233.5 561.5,235.5"/><polyline points="701.5,28.5 700.5,35.5 703.5,41.5 702.5,43.5 691.5,47.5 686.5,53.5 678.5,55.5 675.5,58.5 664.5,63.5 663.5,65.5 661.5,77.5 657.5,76.5 658.5,81.5 650.5,87.5 647.5,90.5 648.5,98.5 645.5,100.5 647.5,105.5 645.5,113.5 648.5,115.5 654.5,112.5 655.5,117.5 658.5,119.5"/><polyline points="658.5,96.5 663.5,98.5 673.5,96.5 676.5,93.5 686.5,89.5 697.5,81.5 701.5,74.5 704.5,72.5 703.5,78.5 708.5,74.5 718.5,68.5 722.5,62.5 724.5,51.5 725.5,42.5 735.5,40.5 737.5,36.5 737.5,28.5"/></g>
<g shape-rendering="crispEdges"><rect x="0" y="27" width="800" height="1" fill="#000"/><rect x="0" y="27" width="1" height="746" fill="#000"/><rect x="2" y="28" width="1" height="5" fill="#000"/><rect x="2" y="769" width="1" height="4" fill="#000"/><rect x="9" y="28" width="1" height="18" fill="#000"/><rect x="9" y="757" width="1" height="16" fill="#000"/><rect x="16" y="28" width="1" height="5" fill="#000"/><rect x="16" y="769" width="1" height="4" fill="#000"/><rect x="24" y="28" width="1" height="5" fill="#000"/><rect x="24" y="769" width="1" height="4" fill="#000"/><rect x="31" y="28" width="1" height="5" fill="#000"/><rect x="31" y="769" width="1" height="4" fill="#000"/><rect x="38" y="28" width="1" height="5" fill="#000"/><rect x="38" y="769" width="1" height="4" fill="#000"/><rect x="45" y="28" width="1" height="9" fill="#000"/><rect x="45" y="764" width="1" height="9" fill="#000"/><rect x="53" y="28" width="1" height="5" fill="#000"/><rect x="53" y="769" width="1" height="4" fill="#000"/><rect x="60" y="28" width="1" height="5" fill="#000"/><rect x="60" y="769" width="1" height="4" fill="#000"/><rect x="67" y="28" width="1" height="5" fill="#000"/><rect x="67" y="769" width="1" height="4" fill="#000"/><rect x="74" y="28" width="1" height="5" fill="#000"/><rect x="74" y="769" width="1" height="4" fill="#000"/><rect x="82" y="28" width="1" height="18" fill="#000"/><rect x="82" y="757" width="1" height="16" fill="#000"/><rect x="89" y="28" width="1" height="5" fill="#000"/><rect x="89" y="769" width="1" height="4" fill="#000"/><rect x="96" y="28" width="1" height="5" fill="#000"/><rect x="96" y="769" width="1" height="4" fill="#000"/><rect x="104" y="28" width="1" height="5" fill="#000"/><rect x="104" y="769" width="1" height="4" fill="#000"/><rect x="111" y="28" width="1" height="5" fill="#000"/><rect x="111" y="769" width="1" height="4" fill="#000"/><rect x="118" y="28" width="1" height="9" fill="#000"/><rect x="118" y="764" width="1" height="9" fill="#000"/><rect x="125" y="28" width="1" height="5" fill="#000"/><rect x="125" y="769" width="1" height="4" fill="#000"/><rect x="133" y="28" width="1" height="5" fill="#000"/><rect x="133" y="769" width="1" height="4" fill="#000"/><rect x="140" y="28" width="1" height="5" fill="#000"/><rect x="140" y="769" width="1" height="4" fill="#000"/><rect x="147" y="28" width="1" height="5" fill="#000"/><rect x="147" y="769" width="1" height="4" fill="#000"/><rect x="154" y="28" width="1" height="18" fill="#000"/><rect x="154" y="757" width="1" height="16" fill="#000"/><rect x="162" y="28" width="1" height="5" fill="#000"/><rect x="162" y="769" width="1" height="4" fill="#000"/><rect x="169" y="28" width="1" height="5" fill="#000"/><rect x="169" y="769" width="1" height="4" fill="#000"/><rect x="176" y="28" width="1" height="5" fill="#000"/><rect x="176" y="769" width="1" height="4" fill="#000"/><rect x="183" y="28" width="1" height="5" fill="#000"/><rect x="183" y="769" width="1" height="4" fill="#000"/><rect x="191" y="28" width="1" height="9" fill="#000"/><rect x="191" y="764" width="1" height="9" fill="#000"/><rect x="198" y="28" width="1" height="5" fill="#000"/><rect x="198" y="769" width="1" height="4" fill="#000"/><rect x="205" y="28" width="1" height="5" fill="#000"/><rect x="205" y="769" width="1" height="4" fill="#000"/><rect x="213" y="28" width="1" height="5" fill="#000"/><rect x="213" y="769" width="1" height="4" fill="#000"/><rect x="220" y="28" width="1" height="5" fill="#000"/><rect x="220" y="769" width="1" height="4" fill="#000"/><rect x="227" y="28" width="1" height="18" fill="#000"/><rect x="227" y="757" width="1" height="16" fill="#000"/><rect x="234" y="28" width="1" height="5" fill="#000"/><rect x="234" y="769" width="1" height="4" fill="#000"/><rect x="242" y="28" width="1" height="5" fill="#000"/><rect x="242" y="769" width="1" height="4" fill="#000"/><rect x="249" y="28" width="1" height="5" fill="#000"/><rect x="249" y="769" width="1" height="4" fill="#000"/><rect x="256" y="28" width="1" height="5" fill="#000"/><rect x="256" y="769" width="1" height="4" fill="#000"/><rect x="263" y="28" width="1" height="9" fill="#000"/><rect x="263" y="764" width="1" height="9" fill="#000"/><rect x="271" y="28" width="1" height="5" fill="#000"/><rect x="271" y="769" width="1" height="4" fill="#000"/><rect x="278" y="28" width="1" height="5" fill="#000"/><rect x="278" y="769" width="1" height="4" fill="#000"/><rect x="285" y="28" width="1" height="5" fill="#000"/><rect x="285" y="769" width="1" height="4" fill="#000"/><rect x="293" y="28" width="1" height="5" fill="#000"/><rect x="293" y="769" width="1" height="4" fill="#000"/><rect x="300" y="28" width="1" height="18" fill="#000"/><rect x="300" y="757" width="1" height="16" fill="#000"/><rect x="307" y="28" width="1" height="5" fill="#000"/><rect x="307" y="769" width="1" height="4" fill="#000"/><rect x="314" y="28" width="1" height="5" fill="#000"/><rect x="314" y="769" width="1" height="4" fill="#000"/><rect x="322" y="28" width="1" height="5" fill="#000"/><rect x="322" y="769" width="1" height="4" fill="#000"/><rect x="329" y="28" width="1" height="5" fill="#000"/><rect x="329" y="769" width="1" height="4" fill="#000"/><rect x="336" y="28" width="1" height="9" fill="#000"/><rect x="336" y="764" width="1" height="9" fill="#000"/><rect x="343" y="28" width="1" height="5" fill="#000"/><rect x="343" y="769" width="1" height="4" fill="#000"/><rect x="351" y="28" width="1" height="5" fill="#000"/><rect x="351" y="769" width="1" height="4" fill="#000"/><rect x="358" y="28" width="1" height="5" fill="#000"/><rect x="358" y="769" width="1" height="4" fill="#000"/><rect x="365" y="28" width="1" height="5" fill="#000"/><rect x="365" y="769" width="1" height="4" fill="#000"/><rect x="372" y="28" width="1" height="18" fill="#000"/><rect x="372" y="757" width="1" height="16" fill="#000"/><rect x="380" y="28" width="1" height="5" fill="#000"/><rect x="380" y="769" width="1" height="4" fill="#000"/><rect x="387" y="28" width="1" height="5" fill="#000"/><rect x="387" y="769" width="1" height="4" fill="#000"/><rect x="394" y="28" width="1" height="5" fill="#000"/><rect x="394" y="769" width="1" height="4" fill="#000"/><rect x="402" y="28" width="1" height="5" fill="#000"/><rect x="402" y="769" width="1" height="4" fill="#000"/><rect x="409" y="28" width="1" height="9" fill="#000"/><rect x="409" y="764" width="1" height="9" fill="#000"/><rect x="416" y="28" width="1" height="5" fill="#000"/><rect x="416" y="769" width="1" height="4" fill="#000"/><rect x="423" y="28" width="1" height="5" fill="#000"/><rect x="423" y="769" width="1" height="4" fill="#000"/><rect x="431" y="28" width="1" height="5" fill="#000"/><rect x="431" y="769" width="1" height="4" fill="#000"/><rect x="438" y="28" width="1" height="5" fill="#000"/><rect x="438" y="769" width="1" height="4" fill="#000"/><rect x="445" y="28" width="1" height="18" fill="#000"/><rect x="445" y="757" width="1" height="16" fill="#000"/><rect x="452" y="28" width="1" height="5" fill="#000"/><rect x="452" y="769" width="1" height="4" fill="#000"/><rect x="460" y="28" width="1" height="5" fill="#000"/><rect x="460" y="769" width="1" height="4" fill="#000"/><rect x="467" y="28" width="1" height="5" fill="#000"/><rect x="467" y="769" width="1" height="4" fill="#000"/><rect x="474" y="28" width="1" height="5" fill="#000"/><rect x="474" y="769" width="1" height="4" fill="#000"/><rect x="482" y="28" width="1" height="9" fill="#000"/><rect x="482" y="764" width="1" height="9" fill="#000"/><rect x="489" y="28" width="1" height="5" fill="#000"/><rect x="489" y="769" width="1" height="4" fill="#000"/><rect x="496" y="28" width="1" height="5" fill="#000"/><rect x="496" y="769" width="1" height="4" fill="#000"/><rect x="503" y="28" width="1" height="5" fill="#000"/><rect x="503" y="769" width="1" height="4" fill="#000"/><rect x="511" y="28" width="1" height="5" fill="#000"/><rect x="511" y="769" width="1" height="4" fill="#000"/><rect x="518" y="28" width="1" height="18" fill="#000"/><rect x="518" y="757" width="1" height="16" fill="#000"/><rect x="525" y="28" width="1" height="5" fill="#000"/><rect x="525" y="769" width="1" height="4" fill="#000"/><rect x="532" y="28" width="1" height="5" fill="#000"/><rect x="532" y="769" width="1" height="4" fill="#000"/><rect x="540" y="28" width="1" height="5" fill="#000"/><rect x="540" y="769" width="1" height="4" fill="#000"/><rect x="547" y="28" width="1" height="5" fill="#000"/><rect x="547" y="769" width="1" height="4" fill="#000"/><rect x="554" y="28" width="1" height="9" fill="#000"/><rect x="554" y="764" width="1" height="9" fill="#000"/><rect x="562" y="28" width="1" height="5" fill="#000"/><rect x="562" y="769" width="1" height="4" fill="#000"/><rect x="569" y="28" width="1" height="5" fill="#000"/><rect x="569" y="769" width="1" height="4" fill="#000"/><rect x="576" y="28" width="1" height="5" fill="#000"/><rect x="576" y="769" width="1" height="4" fill="#000"/><rect x="583" y="28" width="1" height="5" fill="#000"/><rect x="583" y="769" width="1" height="4" fill="#000"/><rect x="591" y="28" width="1" height="18" fill="#000"/><rect x="591" y="757" width="1" height="16" fill="#000"/><rect x="598" y="28" width="1" height="5" fill="#000"/><rect x="598" y="769" width="1" height="4" fill="#000"/><rect x="605" y="28" width="1" height="5" fill="#000"/><rect x="605" y="769" width="1" height="4" fill="#000"/><rect x="612" y="28" width="1" height="5" fill="#000"/><rect x="612" y="769" width="1" height="4" fill="#000"/><rect x="620" y="28" width="1" height="5" fill="#000"/><rect x="620" y="769" width="1" height="4" fill="#000"/><rect x="627" y="28" width="1" height="9" fill="#000"/><rect x="627" y="764" width="1" height="9" fill="#000"/><rect x="634" y="28" width="1" height="5" fill="#000"/><rect x="634" y="769" width="1" height="4" fill="#000"/><rect x="641" y="28" width="1" height="5" fill="#000"/><rect x="641" y="769" width="1" height="4" fill="#000"/><rect x="649" y="28" width="1" height="5" fill="#000"/><rect x="649" y="769" width="1" height="4" fill="#000"/><rect x="656" y="28" width="1" height="5" fill="#000"/><rect x="656" y="769" width="1" height="4" fill="#000"/><rect x="663" y="28" width="1" height="18" fill="#000"/><rect x="663" y="757" width="1" height="16" fill="#000"/><rect x="671" y="28" width="1" height="5" fill="#000"/><rect x="671" y="769" width="1" height="4" fill="#000"/><rect x="678" y="28" width="1" height="5" fill="#000"/><rect x="678" y="769" width="1" height="4" fill="#000"/><rect x="685" y="28" width="1" height="5" fill="#000"/><rect x="685" y="769" width="1" height="4" fill="#000"/><rect x="692" y="28" width="1" height="5" fill="#000"/><rect x="692" y="769" width="1" height="4" fill="#000"/><rect x="700" y="28" width="1" height="9" fill="#000"/><rect x="700" y="764" width="1" height="9" fill="#000"/><rect x="707" y="28" width="1" height="5" fill="#000"/><rect x="707" y="769" width="1" height="4" fill="#000"/><rect x="714" y="28" width="1" height="5" fill="#000"/><rect x="714" y="769" width="1" height="4" fill="#000"/><rect x="721" y="28" width="1" height="5" fill="#000"/><rect x="721" y="769" width="1" height="4" fill="#000"/><rect x="729" y="28" width="1" height="5" fill="#000"/><rect x="729" y="769" width="1" height="4" fill="#000"/><rect x="736" y="28" width="1" height="18" fill="#000"/><rect x="736" y="757" width="1" height="16" fill="#000"/><rect x="743" y="28" width="1" height="5" fill="#000"/><rect x="743" y="769" width="1" height="4" fill="#000"/><rect x="751" y="28" width="1" height="5" fill="#000"/><rect x="751" y="769" width="1" height="4" fill="#000"/><rect x="758" y="28" width="1" height="5" fill="#000"/><rect x="758" y="769" width="1" height="4" fill="#000"/><rect x="765" y="28" width="1" height="5" fill="#000"/><rect x="765" y="769" width="1" height="4" fill="#000"/><rect x="772" y="28" width="1" height="9" fill="#000"/><rect x="772" y="764" width="1" height="9" fill="#000"/><rect x="780" y="28" width="1" height="5" fill="#000"/><rect x="780" y="769" width="1" height="4" fill="#000"/><rect x="787" y="28" width="1" height="5" fill="#000"/><rect x="787" y="769" width="1" height="4" fill="#000"/><rect x="794" y="28" width="1" height="5" fill="#000"/><rect x="794" y="769" width="1" height="4" fill="#000"/><rect x="0" y="29" width="4" height="1" fill="#000"/><rect x="795" y="29" width="5" height="1" fill="#000"/><rect x="0" y="36" width="18" height="1" fill="#000"/><rect x="782" y="36" width="18" height="1" fill="#000"/><rect x="0" y="43" width="4" height="1" fill="#000"/><rect x="795" y="43" width="5" height="1" fill="#000"/><rect x="0" y="51" width="4" height="1" fill="#000"/><rect x="795" y="51" width="5" height="1" fill="#000"/><rect x="0" y="58" width="4" height="1" fill="#000"/><rect x="795" y="58" width="5" height="1" fill="#000"/><rect x="0" y="65" width="4" height="1" fill="#000"/><rect x="795" y="65" width="5" height="1" fill="#000"/><rect x="0" y="72" width="9" height="1" fill="#000"/><rect x="791" y="72" width="9" height="1" fill="#000"/><rect x="0" y="80" width="4" height="1" fill="#000"/><rect x="795" y="80" width="5" height="1" fill="#000"/><rect x="0" y="87" width="4" height="1" fill="#000"/><rect x="795" y="87" width="5" height="1" fill="#000"/><rect x="0" y="94" width="4" height="1" fill="#000"/><rect x="795" y="94" width="5" height="1" fill="#000"/><rect x="0" y="101" width="4" height="1" fill="#000"/><rect x="795" y="101" width="5" height="1" fill="#000"/><rect x="0" y="109" width="18" height="1" fill="#000"/><rect x="782" y="109" width="18" height="1" fill="#000"/><rect x="0" y="116" width="4" height="1" fill="#000"/><rect x="795" y="116" width="5" height="1" fill="#000"/><rect x="0" y="123" width="4" height="1" fill="#000"/><rect x="795" y="123" width="5" height="1" fill="#000"/><rect x="0" y="131" width="4" height="1" fill="#000"/><rect x="795" y="131" width="5" height="1" fill="#000"/><rect x="0" y="138" width="4" height="1" fill="#000"/><rect x="795" y="138" width="5" height="1" fill="#000"/><rect x="0" y="145" width="9" height="1" fill="#000"/><rect x="791" y="145" width="9" height="1" fill="#000"/><rect x="0" y="152" width="4" height="1" fill="#000"/><rect x="795" y="152" width="5" height="1" fill="#000"/><rect x="0" y="160" width="4" height="1" fill="#000"/><rect x="795" y="160" width="5" height="1" fill="#000"/><rect x="0" y="167" width="4" height="1" fill="#000"/><rect x="795" y="167" width="5" height="1" fill="#000"/><rect x="0" y="174" width="4" height="1" fill="#000"/><rect x="795" y="174" width="5" height="1" fill="#000"/><rect x="0" y="181" width="18" height="1" fill="#000"/><rect x="782" y="181" width="18" height="1" fill="#000"/><rect x="0" y="189" width="4" height="1" fill="#000"/><rect x="795" y="189" width="5" height="1" fill="#000"/><rect x="0" y="196" width="4" height="1" fill="#000"/><rect x="795" y="196" width="5" height="1" fill="#000"/><rect x="0" y="203" width="4" height="1" fill="#000"/><rect x="795" y="203" width="5" height="1" fill="#000"/><rect x="0" y="210" width="4" height="1" fill="#000"/><rect x="795" y="210" width="5" height="1" fill="#000"/><rect x="0" y="218" width="9" height="1" fill="#000"/><rect x="791" y="218" width="9" height="1" fill="#000"/><rect x="0" y="225" width="4" height="1" fill="#000"/><rect x="795" y="225" width="5" height="1" fill="#000"/><rect x="0" y="232" width="4" height="1" fill="#000"/><rect x="795" y="232" width="5" height="1" fill="#000"/><rect x="0" y="240" width="4" height="1" fill="#000"/><rect x="795" y="240" width="5" height="1" fill="#000"/><rect x="0" y="247" width="4" height="1" fill="#000"/><rect x="795" y="247" width="5" height="1" fill="#000"/><rect x="0" y="254" width="18" height="1" fill="#000"/><rect x="782" y="254" width="18" height="1" fill="#000"/><rect x="0" y="261" width="4" height="1" fill="#000"/><rect x="795" y="261" width="5" height="1" fill="#000"/><rect x="0" y="269" width="4" height="1" fill="#000"/><rect x="795" y="269" width="5" height="1" fill="#000"/><rect x="0" y="276" width="4" height="1" fill="#000"/><rect x="795" y="276" width="5" height="1" fill="#000"/><rect x="0" y="283" width="4" height="1" fill="#000"/><rect x="795" y="283" width="5" height="1" fill="#000"/><rect x="0" y="290" width="9" height="1" fill="#000"/><rect x="791" y="290" width="9" height="1" fill="#000"/><rect x="0" y="298" width="4" height="1" fill="#000"/><rect x="795" y="298" width="5" height="1" fill="#000"/><rect x="0" y="305" width="4" height="1" fill="#000"/><rect x="795" y="305" width="5" height="1" fill="#000"/><rect x="0" y="312" width="4" height="1" fill="#000"/><rect x="795" y="312" width="5" height="1" fill="#000"/><rect x="0" y="320" width="4" height="1" fill="#000"/><rect x="795" y="320" width="5" height="1" fill="#000"/><rect x="0" y="327" width="18" height="1" fill="#000"/><rect x="782" y="327" width="18" height="1" fill="#000"/><rect x="0" y="334" width="4" height="1" fill="#000"/><rect x="795" y="334" width="5" height="1" fill="#000"/><rect x="0" y="341" width="4" height="1" fill="#000"/><rect x="795" y="341" width="5" height="1" fill="#000"/><rect x="0" y="349" width="4" height="1" fill="#000"/><rect x="795" y="349" width="5" height="1" fill="#000"/><rect x="0" y="356" width="4" height="1" fill="#000"/><rect x="795" y="356" width="5" height="1" fill="#000"/><rect x="0" y="363" width="9" height="1" fill="#000"/><rect x="791" y="363" width="9" height="1" fill="#000"/><rect x="0" y="370" width="4" height="1" fill="#000"/><rect x="795" y="370" width="5" height="1" fill="#000"/><rect x="0" y="378" width="4" height="1" fill="#000"/><rect x="795" y="378" width="5" height="1" fill="#000"/><rect x="0" y="385" width="4" height="1" fill="#000"/><rect x="795" y="385" width="5" height="1" fill="#000"/><rect x="0" y="392" width="4" height="1" fill="#000"/><rect x="795" y="392" width="5" height="1" fill="#000"/><rect x="0" y="400" width="18" height="1" fill="#000"/><rect x="782" y="400" width="18" height="1" fill="#000"/><rect x="0" y="407" width="4" height="1" fill="#000"/><rect x="795" y="407" width="5" height="1" fill="#000"/><rect x="0" y="414" width="4" height="1" fill="#000"/><rect x="795" y="414" width="5" height="1" fill="#000"/><rect x="0" y="421" width="4" height="1" fill="#000"/><rect x="795" y="421" width="5" height="1" fill="#000"/><rect x="0" y="429" width="4" height="1" fill="#000"/><rect x="795" y="429" width="5" height="1" fill="#000"/><rect x="0" y="436" width="9" height="1" fill="#000"/><rect x="791" y="436" width="9" height="1" fill="#000"/><rect x="0" y="443" width="4" height="1" fill="#000"/><rect x="795" y="443" width="5" height="1" fill="#000"/><rect x="0" y="450" width="4" height="1" fill="#000"/><rect x="795" y="450" width="5" height="1" fill="#000"/><rect x="0" y="458" width="4" height="1" fill="#000"/><rect x="795" y="458" width="5" height="1" fill="#000"/><rect x="0" y="465" width="4" height="1" fill="#000"/><rect x="795" y="465" width="5" height="1" fill="#000"/><rect x="0" y="472" width="18" height="1" fill="#000"/><rect x="782" y="472" width="18" height="1" fill="#000"/><rect x="0" y="479" width="4" height="1" fill="#000"/><rect x="795" y="479" width="5" height="1" fill="#000"/><rect x="0" y="487" width="4" height="1" fill="#000"/><rect x="795" y="487" width="5" height="1" fill="#000"/><rect x="0" y="494" width="4" height="1" fill="#000"/><rect x="795" y="494" width="5" height="1" fill="#000"/><rect x="0" y="501" width="4" height="1" fill="#000"/><rect x="795" y="501" width="5" height="1" fill="#000"/><rect x="0" y="509" width="9" height="1" fill="#000"/><rect x="791" y="509" width="9" height="1" fill="#000"/><rect x="0" y="516" width="4" height="1" fill="#000"/><rect x="795" y="516" width="5" height="1" fill="#000"/><rect x="0" y="523" width="4" height="1" fill="#000"/><rect x="795" y="523" width="5" height="1" fill="#000"/><rect x="0" y="530" width="4" height="1" fill="#000"/><rect x="795" y="530" width="5" height="1" fill="#000"/><rect x="0" y="538" width="4" height="1" fill="#000"/><rect x="795" y="538" width="5" height="1" fill="#000"/><rect x="0" y="545" width="18" height="1" fill="#000"/><rect x="782" y="545" width="18" height="1" fill="#000"/><rect x="0" y="552" width="4" height="1" fill="#000"/><rect x="795" y="552" width="5" height="1" fill="#000"/><rect x="0" y="559" width="4" height="1" fill="#000"/><rect x="795" y="559" width="5" height="1" fill="#000"/><rect x="0" y="567" width="4" height="1" fill="#000"/><rect x="795" y="567" width="5" height="1" fill="#000"/><rect x="0" y="574" width="4" height="1" fill="#000"/><rect x="795" y="574" width="5" height="1" fill="#000"/><rect x="0" y="581" width="9" height="1" fill="#000"/><rect x="791" y="581" width="9" height="1" fill="#000"/><rect x="0" y="589" width="4" height="1" fill="#000"/><rect x="795" y="589" width="5" height="1" fill="#000"/><rect x="0" y="596" width="4" height="1" fill="#000"/><rect x="795" y="596" width="5" height="1" fill="#000"/><rect x="0" y="603" width="4" height="1" fill="#000"/><rect x="795" y="603" width="5" height="1" fill="#000"/><rect x="0" y="610" width="4" height="1" fill="#000"/><rect x="795" y="610" width="5" height="1" fill="#000"/><rect x="0" y="618" width="18" height="1" fill="#000"/><rect x="782" y="618" width="18" height="1" fill="#000"/><rect x="0" y="625" width="4" height="1" fill="#000"/><rect x="795" y="625" width="5" height="1" fill="#000"/><rect x="0" y="632" width="4" height="1" fill="#000"/><rect x="795" y="632" width="5" height="1" fill="#000"/><rect x="0" y="639" width="4" height="1" fill="#000"/><rect x="795" y="639" width="5" height="1" fill="#000"/><rect x="0" y="647" width="4" height="1" fill="#000"/><rect x="795" y="647" width="5" height="1" fill="#000"/><rect x="0" y="654" width="9" height="1" fill="#000"/><rect x="791" y="654" width="9" height="1" fill="#000"/><rect x="0" y="661" width="4" height="1" fill="#000"/><rect x="795" y="661" width="5" height="1" fill="#000"/><rect x="0" y="668" width="4" height="1" fill="#000"/><rect x="795" y="668" width="5" height="1" fill="#000"/><rect x="0" y="676" width="4" height="1" fill="#000"/><rect x="795" y="676" width="5" height="1" fill="#000"/><rect x="0" y="683" width="4" height="1" fill="#000"/><rect x="795" y="683" width="5" height="1" fill="#000"/><rect x="0" y="690" width="18" height="1" fill="#000"/><rect x="782" y="690" width="18" height="1" fill="#000"/><rect x="0" y="698" width="4" height="1" fill="#000"/><rect x="795" y="698" width="5" height="1" fill="#000"/><rect x="0" y="705" width="4" height="1" fill="#000"/><rect x="795" y="705" width="5" height="1" fill="#000"/><rect x="0" y="712" width="4" height="1" fill="#000"/><rect x="795" y="712" width="5" height="1" fill="#000"/><rect x="0" y="719" width="4" height="1" fill="#000"/><rect x="795" y="719" width="5" height="1" fill="#000"/><rect x="0" y="727" width="9" height="1" fill="#000"/><rect x="791" y="727" width="9" height="1" fill="#000"/><rect x="0" y="734" width="4" height="1" fill="#000"/><rect x="795" y="734" width="5" height="1" fill="#000"/><rect x="0" y="741" width="4" height="1" fill="#000"/><rect x="795" y="741" width="5" height="1" fill="#000"/><rect x="0" y="748" width="4" height="1" fill="#000"/><rect x="795" y="748" width="5" height="1" fill="#000"/><rect x="0" y="756" width="4" height="1" fill="#000"/><rect x="795" y="756" width="5" height="1" fill="#000"/><rect x="0" y="763" width="18" height="1" fill="#000"/><rect x="782" y="763" width="18" height="1" fill="#000"/><rect x="0" y="770" width="4" height="1" fill="#000"/><rect x="795" y="770" width="5" height="1" fill="#000"/></g>
<g font-family="Liberation Sans, sans-serif" font-size="12" fill="#808080"><text x="771" y="105" textLength="21" lengthAdjust="spacingAndGlyphs">32S</text><text x="771" y="177" textLength="21" lengthAdjust="spacingAndGlyphs">33S</text><text x="771" y="250" textLength="21" lengthAdjust="spacingAndGlyphs">34S</text><text x="771" y="323" textLength="21" lengthAdjust="spacingAndGlyphs">35S</text><text x="771" y="396" textLength="21" lengthAdjust="spacingAndGlyphs">36S</text><text x="771" y="468" textLength="21" lengthAdjust="spacingAndGlyphs">37S</text><text x="771" y="541" textLength="21" lengthAdjust="spacingAndGlyphs">38S</text><text x="771" y="614" textLength="21" lengthAdjust="spacingAndGlyphs">39S</text><text x="771" y="686" textLength="21" lengthAdjust="spacingAndGlyphs">40S</text><text x="771" y="759" textLength="21" lengthAdjust="spacingAndGlyphs">41S</text><text transform="translate(14,744) rotate(90)" x="0" y="0" textLength="20" lengthAdjust="spacingAndGlyphs">61W</text><text transform="translate(86,744) rotate(90)" x="0" y="0" textLength="20" lengthAdjust="spacingAndGlyphs">60W</text><text transform="translate(159,744) rotate(90)" x="0" y="0" textLength="20" lengthAdjust="spacingAndGlyphs">59W</text><text transform="translate(232,744) rotate(90)" x="0" y="0" textLength="20" lengthAdjust="spacingAndGlyphs">58W</text><text transform="translate(304,744) rotate(90)" x="0" y="0" textLength="20" lengthAdjust="spacingAndGlyphs">57W</text><text transform="translate(377,744) rotate(90)" x="0" y="0" textLength="20" lengthAdjust="spacingAndGlyphs">56W</text><text transform="translate(450,744) rotate(90)" x="0" y="0" textLength="20" lengthAdjust="spacingAndGlyphs">55W</text><text transform="translate(523,744) rotate(90)" x="0" y="0" textLength="20" lengthAdjust="spacingAndGlyphs">54W</text><text transform="translate(595,744) rotate(90)" x="0" y="0" textLength="20" lengthAdjust="spacingAndGlyphs">53W</text><text transform="translate(668,744) rotate(90)" x="0" y="0" textLength="20" lengthAdjust="spacingAndGlyphs">52W</text><text transform="translate(741,744) rotate(90)" x="0" y="0" textLength="20" lengthAdjust="spacingAndGlyphs">51W</text></g>
</svg>
<svg width="800" height="800" viewBox="0 0 800 800"><g font-family="Liberation Sans, sans-serif" font-weight="bold" font-size="25" fill="#808080" stroke="#808080" stroke-width="0.7"><text x="5.5" y="50.0" textLength="384" lengthAdjust="spacingAndGlyphs">modelo GEFS-WAVE (NCEP)</text><text x="4.5" y="72.3" textLength="497" lengthAdjust="spacingAndGlyphs">forecast date: 2026-03-01 00:00:00</text><text x="41.0" y="95.5" textLength="448" lengthAdjust="spacingAndGlyphs">valid date: 2026-03-08 03:00:00</text></g><defs><linearGradient id="cb" x1="0" y1="0" x2="0" y2="1"><stop offset="0.0000" stop-color="#c00080"/><stop offset="0.1620" stop-color="#ff0000"/><stop offset="0.4600" stop-color="#ffff00"/><stop offset="0.5940" stop-color="#00ff00"/><stop offset="0.7380" stop-color="#00ffff"/><stop offset="1.0000" stop-color="#0000ff"/></linearGradient></defs><rect x="32.5" y="160.5" width="48" height="607" fill="#fff" stroke="#000" stroke-width="1"/><rect x="34" y="162" width="45" height="604" fill="url(#cb)"/><g font-family="Liberation Sans, sans-serif" font-size="15" fill="#000" letter-spacing="1.5"><text x="86" y="165">30</text><text x="86" y="317">22</text><text x="86" y="469">15</text><text x="86" y="621">8</text><text x="86" y="772">0</text></g><g font-family="Liberation Sans, sans-serif" font-size="16.5" fill="#000"><text x="34" y="148.5" textLength="43" lengthAdjust="spacingAndGlyphs">[m/s]</text></g></svg>
</body></html>
